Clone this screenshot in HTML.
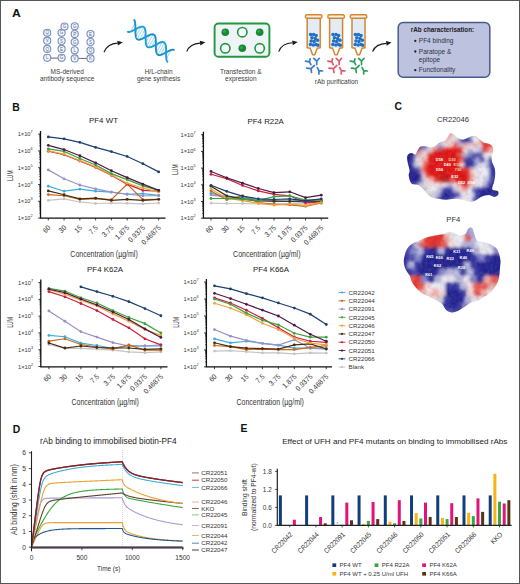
<!DOCTYPE html>
<html><head><meta charset="utf-8"><style>
html,body{margin:0;padding:0;background:#fff;}
svg{display:block;}
text{font-family:"Liberation Sans",sans-serif;}
</style></head><body>
<svg width="520" height="584" viewBox="0 0 520 584" font-family="Liberation Sans, sans-serif">
<rect x="0" y="0" width="520" height="584" fill="#fff"/>
<rect x="0.5" y="0.5" width="519" height="583" fill="none" stroke="#555" stroke-width="1"/>
<text x="11.9" y="16.6" font-size="10.8" font-weight="bold" fill="#111" textLength="8.8" lengthAdjust="spacingAndGlyphs">A</text>
<text x="12.30" y="110.90" font-size="10.4" text-anchor="start" fill="#111" font-weight="bold" >B</text>
<text x="394.40" y="110.30" font-size="10.4" text-anchor="start" fill="#111" font-weight="bold" >C</text>
<text x="12.70" y="432.50" font-size="10.4" text-anchor="start" fill="#111" font-weight="bold" >D</text>
<text x="240.60" y="432.40" font-size="10.4" text-anchor="start" fill="#111" font-weight="bold" >E</text>
<line x1="47.2" y1="58.1" x2="61.6" y2="58.1" stroke="#666" stroke-width="1.0"/>
<line x1="74.7" y1="58.4" x2="90.5" y2="58.4" stroke="#666" stroke-width="1.0"/>
<circle cx="47.2" cy="32.8" r="3.55" fill="#f3f6fb" stroke="#7890bd" stroke-width="1.1"/>
<text x="47.2" y="34.40" font-size="4.5" text-anchor="middle" fill="#56688e">Q</text>
<circle cx="47.2" cy="40.7" r="3.55" fill="#f3f6fb" stroke="#7890bd" stroke-width="1.1"/>
<text x="47.2" y="42.30" font-size="4.5" text-anchor="middle" fill="#56688e">V</text>
<circle cx="47.2" cy="48.9" r="3.55" fill="#f3f6fb" stroke="#7890bd" stroke-width="1.1"/>
<text x="47.2" y="50.50" font-size="4.5" text-anchor="middle" fill="#56688e">Q</text>
<circle cx="47.2" cy="57.8" r="3.55" fill="#f3f6fb" stroke="#7890bd" stroke-width="1.1"/>
<text x="47.2" y="59.40" font-size="4.5" text-anchor="middle" fill="#56688e">L</text>
<circle cx="61.6" cy="32.8" r="3.55" fill="#f3f6fb" stroke="#7890bd" stroke-width="1.1"/>
<text x="61.6" y="34.40" font-size="4.5" text-anchor="middle" fill="#56688e">G</text>
<circle cx="61.6" cy="41.0" r="3.55" fill="#f3f6fb" stroke="#7890bd" stroke-width="1.1"/>
<text x="61.6" y="42.60" font-size="4.5" text-anchor="middle" fill="#56688e">S</text>
<circle cx="61.6" cy="48.9" r="3.55" fill="#f3f6fb" stroke="#7890bd" stroke-width="1.1"/>
<text x="61.6" y="50.50" font-size="4.5" text-anchor="middle" fill="#56688e">E</text>
<circle cx="61.6" cy="57.8" r="3.55" fill="#f3f6fb" stroke="#7890bd" stroke-width="1.1"/>
<text x="61.6" y="59.40" font-size="4.5" text-anchor="middle" fill="#56688e">G</text>
<circle cx="74.7" cy="34.1" r="3.55" fill="#f3f6fb" stroke="#7890bd" stroke-width="1.1"/>
<text x="74.7" y="35.70" font-size="4.5" text-anchor="middle" fill="#56688e">P</text>
<circle cx="74.7" cy="42.0" r="3.55" fill="#f3f6fb" stroke="#7890bd" stroke-width="1.1"/>
<text x="74.7" y="43.60" font-size="4.5" text-anchor="middle" fill="#56688e">G</text>
<circle cx="74.7" cy="50.3" r="3.55" fill="#f3f6fb" stroke="#7890bd" stroke-width="1.1"/>
<text x="74.7" y="51.90" font-size="4.5" text-anchor="middle" fill="#56688e">L</text>
<circle cx="74.7" cy="58.4" r="3.55" fill="#f3f6fb" stroke="#7890bd" stroke-width="1.1"/>
<text x="74.7" y="60.00" font-size="4.5" text-anchor="middle" fill="#56688e">V</text>
<circle cx="90.5" cy="34.1" r="3.55" fill="#f3f6fb" stroke="#7890bd" stroke-width="1.1"/>
<text x="90.5" y="35.70" font-size="4.5" text-anchor="middle" fill="#56688e">E</text>
<circle cx="90.5" cy="42.0" r="3.55" fill="#f3f6fb" stroke="#7890bd" stroke-width="1.1"/>
<text x="90.5" y="43.60" font-size="4.5" text-anchor="middle" fill="#56688e">S</text>
<circle cx="90.5" cy="50.6" r="3.55" fill="#f3f6fb" stroke="#7890bd" stroke-width="1.1"/>
<text x="90.5" y="52.20" font-size="4.5" text-anchor="middle" fill="#56688e">Q</text>
<circle cx="90.5" cy="58.4" r="3.55" fill="#f3f6fb" stroke="#7890bd" stroke-width="1.1"/>
<text x="90.5" y="60.00" font-size="4.5" text-anchor="middle" fill="#56688e">K</text>
<circle cx="64.5" cy="26.6" r="3.55" fill="#f3f6fb" stroke="#7890bd" stroke-width="1.1"/>
<text x="64.5" y="28.20" font-size="4.5" text-anchor="middle" fill="#56688e">G</text>
<circle cx="74.7" cy="26.3" r="3.55" fill="#f3f6fb" stroke="#7890bd" stroke-width="1.1"/>
<text x="74.7" y="27.90" font-size="4.5" text-anchor="middle" fill="#56688e">G</text>
<path d="M130.55,31.65 L135.19,23.09 M134.09,30.03 L135.43,27.56 M137.85,28.00 L135.45,32.43 M141.21,26.70 L135.87,36.58 M143.70,27.02 L137.16,39.11 M145.12,29.32 L139.52,39.65 M145.62,33.32 L142.81,38.50 M145.65,38.16 L146.55,36.50 M145.84,42.73 L150.15,34.78 M146.73,46.00 L153.04,34.35 M148.65,47.36 L154.89,35.84 M151.60,46.83 L155.72,39.22 M155.22,45.05 L155.88,43.84 M158.96,43.07 L155.93,48.67 M162.19,42.01 L156.47,52.57 M164.49,42.68 L157.96,54.74 M165.71,45.33 L160.51,54.94 M166.08,49.56 L163.92,53.56 M166.10,54.44 L167.68,51.52 M166.38,58.84 L171.19,49.96" stroke="#72c4ec" stroke-width="0.7" fill="none"/>
<path d="M134.19,20.03 L134.34,20.26 L134.48,20.52 L134.61,20.80 L134.73,21.10 L134.83,21.41 L134.93,21.75 L135.02,22.11 L135.09,22.49 L135.16,22.88 L135.22,23.29 L135.26,23.71 L135.31,24.15 L135.34,24.60 L135.37,25.07 L135.39,25.54 L135.41,26.03 L135.42,26.52 L135.43,27.03 L135.43,27.53 L135.43,28.05 L135.43,28.56 L135.43,29.08 L135.43,29.60 L135.43,30.11 L135.43,30.63 L135.43,31.14 L135.44,31.65 L135.45,32.15 L135.46,32.64 L135.47,33.13 L135.50,33.60 L135.53,34.06 L135.56,34.51 L135.60,34.95 L135.65,35.37 L135.71,35.78 L135.78,36.17 L135.86,36.54 L135.95,36.90 L136.04,37.23 L136.15,37.55 L136.27,37.85 L136.40,38.12 L136.54,38.37 L136.70,38.61 L136.86,38.81 L137.04,39.00 L137.23,39.17 L137.43,39.31 L137.65,39.43 L137.88,39.53 L138.11,39.60 L138.36,39.65 L138.63,39.69 L138.90,39.70 L139.18,39.69 L139.48,39.66 L139.79,39.61 L140.10,39.54 L140.43,39.46 L140.76,39.35 L141.11,39.23 L141.46,39.10 L141.82,38.95 L142.18,38.79 L142.55,38.62 L142.93,38.44 L143.32,38.25 L143.70,38.05 L144.09,37.84 L144.49,37.63 L144.88,37.42 L145.28,37.20 L145.68,36.98 L146.08,36.76 L146.47,36.54 L146.87,36.33 L147.26,36.12 L147.65,35.91 L148.04,35.72 L148.42,35.53 L148.80,35.34 L149.17,35.17 L149.54,35.02 L149.89,34.87 L150.25,34.74 L150.59,34.62 L150.92,34.52 L151.25,34.44 L151.56,34.37 L151.87,34.33 L152.16,34.30 L152.44,34.29 L152.71,34.31 L152.98,34.34 L153.22,34.40 L153.46,34.48 L153.69,34.58 L153.90,34.70 L154.10,34.84 L154.29,35.01 L154.46,35.20 L154.63,35.41 L154.78,35.65 L154.92,35.90 L155.05,36.18 L155.17,36.48 L155.28,36.80 L155.37,37.14 L155.46,37.49 L155.54,37.87 L155.60,38.26 L155.66,38.67 L155.71,39.09 L155.75,39.53 L155.79,39.99 L155.81,40.45 L155.83,40.93 L155.85,41.41 L155.86,41.90 L155.87,42.41 L155.88,42.91 L155.88,43.43 L155.88,43.94 L155.88,44.46 L155.88,44.98 L155.87,45.49 L155.87,46.01 L155.88,46.52 L155.88,47.03 L155.89,47.53 L155.90,48.02 L155.92,48.51 L155.94,48.98 L155.97,49.44 L156.01,49.90 L156.05,50.33 L156.10,50.76 L156.16,51.16 L156.22,51.55 L156.30,51.93 L156.39,52.28 L156.49,52.62 L156.59,52.93 L156.71,53.23 L156.84,53.51 L156.99,53.76 L157.14,53.99 L157.31,54.20 L157.48,54.39 L157.67,54.55 L157.88,54.70 L158.09,54.82 L158.32,54.91 L158.55,54.99 L158.80,55.04 L159.07,55.08 L159.34,55.09 L159.62,55.08 L159.92,55.05 L160.23,55.00 L160.54,54.93 L160.87,54.85 L161.20,54.75 L161.54,54.63 L161.90,54.49 L162.25,54.35 L162.62,54.19 L162.99,54.02 L163.37,53.83 L163.75,53.64 L164.14,53.44 L164.53,53.24 L164.92,53.03 L165.32,52.81 L165.72,52.59 L166.12,52.38 L166.51,52.16 L166.91,51.94 L167.31,51.72 L167.70,51.51 L168.09,51.31 L168.48,51.11 L168.86,50.92 L169.24,50.74 L169.61,50.57 L169.97,50.41 L170.33,50.26 L170.68,50.13 L171.03,50.01 L171.36,49.91 L171.68,49.83 L172.00,49.77 L172.30,49.72 L172.60,49.69 L172.88,49.68 L173.15,49.70 L173.42,49.73 L173.66,49.79 L173.90,49.86" fill="none" stroke="#1a8fcc" stroke-width="1.9" stroke-linecap="round"/>
<path d="M127.77,31.87 L128.02,31.94 L128.27,31.98 L128.54,32.00 L128.82,32.00 L129.11,31.98 L129.41,31.94 L129.72,31.88 L130.04,31.80 L130.37,31.71 L130.71,31.60 L131.06,31.47 L131.42,31.33 L131.78,31.18 L132.15,31.01 L132.52,30.84 L132.90,30.65 L133.29,30.45 L133.68,30.25 L134.07,30.04 L134.47,29.83 L134.86,29.61 L135.26,29.39 L135.66,29.17 L136.06,28.96 L136.45,28.74 L136.85,28.53 L137.24,28.32 L137.63,28.12 L138.01,27.92 L138.39,27.74 L138.77,27.56 L139.14,27.40 L139.50,27.25 L139.85,27.11 L140.20,26.98 L140.54,26.87 L140.87,26.78 L141.18,26.71 L141.49,26.65 L141.79,26.62 L142.08,26.60 L142.36,26.60 L142.63,26.63 L142.88,26.67 L143.12,26.74 L143.35,26.83 L143.57,26.94 L143.78,27.07 L143.97,27.23 L144.16,27.41 L144.33,27.61 L144.49,27.84 L144.63,28.08 L144.77,28.35 L144.89,28.64 L145.00,28.94 L145.10,29.27 L145.20,29.62 L145.28,29.99 L145.35,30.37 L145.41,30.77 L145.46,31.19 L145.51,31.62 L145.55,32.07 L145.58,32.53 L145.60,33.00 L145.62,33.48 L145.64,33.97 L145.64,34.46 L145.65,34.97 L145.65,35.48 L145.65,35.99 L145.65,36.51 L145.65,37.03 L145.65,37.55 L145.65,38.06 L145.65,38.58 L145.66,39.09 L145.66,39.59 L145.67,40.09 L145.69,40.58 L145.71,41.05 L145.73,41.52 L145.76,41.98 L145.80,42.43 L145.85,42.86 L145.90,43.27 L145.97,43.67 L146.04,44.05 L146.12,44.42 L146.21,44.76 L146.32,45.09 L146.43,45.39 L146.56,45.68 L146.69,45.94 L146.84,46.18 L147.00,46.41 L147.17,46.60 L147.36,46.78 L147.55,46.93 L147.76,47.07 L147.98,47.17 L148.21,47.26 L148.46,47.32 L148.71,47.37 L148.98,47.39 L149.26,47.39 L149.55,47.37 L149.85,47.33 L150.16,47.27 L150.48,47.20 L150.81,47.10 L151.15,46.99 L151.50,46.87 L151.85,46.73 L152.22,46.57 L152.59,46.41 L152.96,46.23 L153.34,46.04 L153.73,45.85 L154.12,45.65 L154.51,45.44 L154.90,45.22 L155.30,45.01 L155.70,44.79 L156.10,44.57 L156.49,44.35 L156.89,44.13 L157.29,43.92 L157.68,43.71 L158.07,43.51 L158.45,43.32 L158.83,43.13 L159.21,42.95 L159.57,42.79 L159.94,42.64 L160.29,42.50 L160.64,42.38 L160.97,42.27 L161.30,42.17 L161.62,42.10 L161.93,42.04 L162.23,42.01 L162.52,41.99 L162.80,41.99 L163.07,42.02 L163.32,42.06 L163.56,42.13 L163.80,42.22 L164.01,42.33 L164.22,42.46 L164.42,42.62 L164.60,42.80 L164.77,43.00 L164.93,43.22 L165.07,43.47 L165.21,43.73 L165.33,44.02 L165.45,44.33 L165.55,44.66 L165.64,45.00 L165.72,45.37 L165.79,45.75 L165.85,46.15 L165.91,46.57 L165.95,47.00 L165.99,47.45 L166.02,47.91 L166.05,48.38 L166.07,48.86 L166.08,49.35 L166.09,49.84 L166.10,50.35 L166.10,50.86 L166.10,51.37 L166.10,51.89 L166.10,52.41 L166.10,52.93 L166.10,53.44 L166.10,53.96 L166.10,54.47 L166.11,54.97 L166.12,55.47 L166.13,55.96 L166.15,56.44 L166.18,56.90 L166.21,57.36 L166.25,57.81 L166.29,58.24 L166.35,58.65 L166.41,59.05 L166.48,59.43 L166.57,59.80 L166.66,60.14 L166.76,60.47 L166.87,60.78 L167.00,61.06 L167.13,61.33 L167.28,61.57 L167.44,61.79" fill="none" stroke="#1f9ed8" stroke-width="1.9" stroke-linecap="round"/>
<rect x="214.6" y="23.5" width="54.8" height="33.2" rx="3.8" fill="#eef4f7" stroke="#22973f" stroke-width="1.9"/>
<circle cx="225.3" cy="32.2" r="3.8" fill="#168a30"/>
<circle cx="224.4" cy="31.300000000000004" r="1.5" fill="#34a84c"/>
<circle cx="242.3" cy="32.2" r="4.7" fill="#f6faf8" stroke="#22973f" stroke-width="1.6"/>
<circle cx="259.7" cy="32.2" r="3.8" fill="#168a30"/>
<circle cx="258.8" cy="31.300000000000004" r="1.5" fill="#34a84c"/>
<circle cx="225.3" cy="48.3" r="4.7" fill="#f6faf8" stroke="#22973f" stroke-width="1.6"/>
<circle cx="242.3" cy="48.3" r="3.8" fill="#168a30"/>
<circle cx="241.4" cy="47.4" r="1.5" fill="#34a84c"/>
<circle cx="259.7" cy="48.3" r="4.7" fill="#f6faf8" stroke="#22973f" stroke-width="1.6"/>
<rect x="307.6" y="18.5" width="12" height="29.5" fill="#e2ecf6"/>
<g fill="#1f6fc2"><circle cx="310.60" cy="34.60" r="1.75"/><circle cx="313.60" cy="34.40" r="1.75"/><circle cx="316.20" cy="35.60" r="1.75"/><circle cx="312.00" cy="37.80" r="1.75"/><circle cx="315.20" cy="38.60" r="1.75"/><circle cx="317.60" cy="40.20" r="1.75"/><circle cx="311.20" cy="41.00" r="1.75"/><circle cx="314.20" cy="41.60" r="1.75"/><circle cx="310.40" cy="44.60" r="1.75"/><circle cx="313.40" cy="45.00" r="1.75"/><circle cx="316.20" cy="44.40" r="1.75"/><circle cx="318.00" cy="45.20" r="1.75"/></g>
<path d="M307.2,18.4 L307.2,47.8 L310.2,48.2 L312.6,54.8 L314.8,54.8 L317.2,48.2 L320.2,47.8 L320.2,18.4" fill="none" stroke="#d3852c" stroke-width="1.5" stroke-linejoin="round"/>
<rect x="305.4" y="14.7" width="16.6" height="3.6" rx="1.6" fill="#fbf3e8" stroke="#d3852c" stroke-width="1.4"/>
<rect x="330.0" y="18.5" width="12" height="29.5" fill="#e2ecf6"/>
<g fill="#1f6fc2"><circle cx="333.00" cy="34.60" r="1.75"/><circle cx="336.00" cy="34.40" r="1.75"/><circle cx="338.60" cy="35.60" r="1.75"/><circle cx="334.40" cy="37.80" r="1.75"/><circle cx="337.60" cy="38.60" r="1.75"/><circle cx="340.00" cy="40.20" r="1.75"/><circle cx="333.60" cy="41.00" r="1.75"/><circle cx="336.60" cy="41.60" r="1.75"/><circle cx="332.80" cy="44.60" r="1.75"/><circle cx="335.80" cy="45.00" r="1.75"/><circle cx="338.60" cy="44.40" r="1.75"/><circle cx="340.40" cy="45.20" r="1.75"/></g>
<path d="M329.59999999999997,18.4 L329.59999999999997,47.8 L332.59999999999997,48.2 L335.0,54.8 L337.2,54.8 L339.59999999999997,48.2 L342.59999999999997,47.8 L342.59999999999997,18.4" fill="none" stroke="#d3852c" stroke-width="1.5" stroke-linejoin="round"/>
<rect x="327.79999999999995" y="14.7" width="16.6" height="3.6" rx="1.6" fill="#fbf3e8" stroke="#d3852c" stroke-width="1.4"/>
<rect x="352.40000000000003" y="18.5" width="12" height="29.5" fill="#e2ecf6"/>
<g fill="#1f6fc2"><circle cx="355.40" cy="34.60" r="1.75"/><circle cx="358.40" cy="34.40" r="1.75"/><circle cx="361.00" cy="35.60" r="1.75"/><circle cx="356.80" cy="37.80" r="1.75"/><circle cx="360.00" cy="38.60" r="1.75"/><circle cx="362.40" cy="40.20" r="1.75"/><circle cx="356.00" cy="41.00" r="1.75"/><circle cx="359.00" cy="41.60" r="1.75"/><circle cx="355.20" cy="44.60" r="1.75"/><circle cx="358.20" cy="45.00" r="1.75"/><circle cx="361.00" cy="44.40" r="1.75"/><circle cx="362.80" cy="45.20" r="1.75"/></g>
<path d="M352.0,18.4 L352.0,47.8 L355.0,48.2 L357.40000000000003,54.8 L359.6,54.8 L362.0,48.2 L365.0,47.8 L365.0,18.4" fill="none" stroke="#d3852c" stroke-width="1.5" stroke-linejoin="round"/>
<rect x="350.2" y="14.7" width="16.6" height="3.6" rx="1.6" fill="#fbf3e8" stroke="#d3852c" stroke-width="1.4"/>
<path d="M305.5,61.2 L309.5,61.8 L310.1,58.9 M309.5,61.8 L310.9,64.7 M313.8,58.3 L316.7,61.2 L319.3,58.3 M316.7,61.2 L316.7,64.6 M306.6,68.1 L311.0,68.6 L311.5,72.5 M311.0,68.6 L314.4,65.5 M317.3,67.6 L318.9,70.6 L322.6,71.0 M318.9,70.6 L318.9,74.0 " stroke="#3b7cc2" stroke-width="1.7" stroke-linecap="round" stroke-linejoin="round" fill="none"/>
<path d="M327.9,61.2 L331.9,61.8 L332.5,58.9 M331.9,61.8 L333.3,64.7 M336.2,58.3 L339.1,61.2 L341.7,58.3 M339.1,61.2 L339.1,64.6 M329.0,68.1 L333.4,68.6 L333.9,72.5 M333.4,68.6 L336.8,65.5 M339.7,67.6 L341.3,70.6 L345.0,71.0 M341.3,70.6 L341.3,74.0 " stroke="#e05a6e" stroke-width="1.7" stroke-linecap="round" stroke-linejoin="round" fill="none"/>
<path d="M350.3,61.2 L354.3,61.8 L354.9,58.9 M354.3,61.8 L355.7,64.7 M358.6,58.3 L361.5,61.2 L364.1,58.3 M361.5,61.2 L361.5,64.6 M351.4,68.1 L355.8,68.6 L356.3,72.5 M355.8,68.6 L359.2,65.5 M362.1,67.6 L363.7,70.6 L367.4,71.0 M363.7,70.6 L363.7,74.0 " stroke="#2e9c5c" stroke-width="1.7" stroke-linecap="round" stroke-linejoin="round" fill="none"/>
<rect x="398.2" y="22.6" width="91.6" height="54.6" rx="5" fill="#bdc3de" stroke="#465c8a" stroke-width="1.5"/>
<text x="410.80" y="31.90" font-size="6.3" text-anchor="start" fill="#1b1b2a" font-weight="bold" >rAb characterisation:</text>
<text x="418.80" y="43.00" font-size="6.5" text-anchor="start" fill="#30303e" >PF4 binding</text>
<text x="418.80" y="53.90" font-size="6.5" text-anchor="start" fill="#30303e" >Paratope &amp;</text>
<text x="418.80" y="61.70" font-size="6.5" text-anchor="start" fill="#30303e" >epitope</text>
<text x="418.80" y="72.40" font-size="6.5" text-anchor="start" fill="#30303e" >Functionality</text>
<circle cx="415.3" cy="40.9" r="1.15" fill="#222"/>
<circle cx="415.3" cy="51.5" r="1.15" fill="#222"/>
<circle cx="415.3" cy="70.2" r="1.15" fill="#222"/>
<path d="M104,52.2 Q107.2,43.6 117.7,43.1" fill="none" stroke="#1a1a1a" stroke-width="1.15"/>
<path d="M122.8,42.3 L117.3,40.8 L117.9,45.5 Z" fill="#1a1a1a"/>
<path d="M186.7,51.6 Q189.9,43.6 200.2,43.1" fill="none" stroke="#1a1a1a" stroke-width="1.15"/>
<path d="M205.3,42.3 L199.8,40.8 L200.4,45.5 Z" fill="#1a1a1a"/>
<path d="M278.7,51.6 Q281.9,43.3 292.6,42.8" fill="none" stroke="#1a1a1a" stroke-width="1.15"/>
<path d="M297.7,42.0 L292.2,40.5 L292.8,45.2 Z" fill="#1a1a1a"/>
<path d="M372.6,51.4 Q375.8,43.9 386.4,43.4" fill="none" stroke="#1a1a1a" stroke-width="1.15"/>
<path d="M391.5,42.6 L386.0,41.1 L386.6,45.8 Z" fill="#1a1a1a"/>
<text x="67.20" y="73.70" font-size="6.5" text-anchor="middle" fill="#3a3a3a" >MS-derived</text>
<text x="67.20" y="81.30" font-size="6.5" text-anchor="middle" fill="#3a3a3a" >antibody sequence</text>
<text x="158.60" y="73.70" font-size="6.5" text-anchor="middle" fill="#3a3a3a" >H/L-chain</text>
<text x="158.60" y="81.30" font-size="6.5" text-anchor="middle" fill="#3a3a3a" >gene synthesis</text>
<text x="240.80" y="73.70" font-size="6.5" text-anchor="middle" fill="#3a3a3a" >Transfection &amp;</text>
<text x="240.80" y="81.30" font-size="6.5" text-anchor="middle" fill="#3a3a3a" >expression</text>
<text x="336.50" y="83.80" font-size="6.5" text-anchor="middle" fill="#3a3a3a" >rAb purification</text>
<text x="103.50" y="123.20" font-size="7.9" text-anchor="middle" fill="#222" >PF4 WT</text>
<path d="M40.5,131.1 L40.5,218.1 L165.6,218.1" fill="none" stroke="#111" stroke-width="1.3"/>
<path d="M38.1,218.10 L40.5,218.10 M39.3,213.04 L40.5,213.04 M39.3,210.08 L40.5,210.08 M39.3,207.99 L40.5,207.99 M39.3,206.36 L40.5,206.36 M39.3,205.03 L40.5,205.03 M39.3,203.90 L40.5,203.90 M39.3,202.93 L40.5,202.93 M39.3,202.07 L40.5,202.07 M38.1,201.30 L40.5,201.30 M39.3,196.24 L40.5,196.24 M39.3,193.28 L40.5,193.28 M39.3,191.19 L40.5,191.19 M39.3,189.56 L40.5,189.56 M39.3,188.23 L40.5,188.23 M39.3,187.10 L40.5,187.10 M39.3,186.13 L40.5,186.13 M39.3,185.27 L40.5,185.27 M38.1,184.50 L40.5,184.50 M39.3,179.44 L40.5,179.44 M39.3,176.48 L40.5,176.48 M39.3,174.39 L40.5,174.39 M39.3,172.76 L40.5,172.76 M39.3,171.43 L40.5,171.43 M39.3,170.30 L40.5,170.30 M39.3,169.33 L40.5,169.33 M39.3,168.47 L40.5,168.47 M38.1,167.70 L40.5,167.70 M39.3,162.64 L40.5,162.64 M39.3,159.68 L40.5,159.68 M39.3,157.59 L40.5,157.59 M39.3,155.96 L40.5,155.96 M39.3,154.63 L40.5,154.63 M39.3,153.50 L40.5,153.50 M39.3,152.53 L40.5,152.53 M39.3,151.67 L40.5,151.67 M38.1,150.90 L40.5,150.90 M39.3,145.84 L40.5,145.84 M39.3,142.88 L40.5,142.88 M39.3,140.79 L40.5,140.79 M39.3,139.16 L40.5,139.16 M39.3,137.83 L40.5,137.83 M39.3,136.70 L40.5,136.70 M39.3,135.73 L40.5,135.73 M39.3,134.87 L40.5,134.87 M38.1,134.10 L40.5,134.10 M48.30,218.1 L48.30,220.4 M64.07,218.1 L64.07,220.4 M79.84,218.1 L79.84,220.4 M95.61,218.1 L95.61,220.4 M111.38,218.1 L111.38,220.4 M127.15,218.1 L127.15,220.4 M142.92,218.1 L142.92,220.4 M158.69,218.1 L158.69,220.4" stroke="#111" stroke-width="0.8" fill="none"/>
<text x="30.50" y="220.10" font-size="5.7" text-anchor="end" fill="#333">1×10</text>
<text x="30.60" y="217.20" font-size="3.8" fill="#333">2</text>
<text x="30.50" y="203.30" font-size="5.7" text-anchor="end" fill="#333">1×10</text>
<text x="30.60" y="200.40" font-size="3.8" fill="#333">3</text>
<text x="30.50" y="186.50" font-size="5.7" text-anchor="end" fill="#333">1×10</text>
<text x="30.60" y="183.60" font-size="3.8" fill="#333">4</text>
<text x="30.50" y="169.70" font-size="5.7" text-anchor="end" fill="#333">1×10</text>
<text x="30.60" y="166.80" font-size="3.8" fill="#333">5</text>
<text x="30.50" y="152.90" font-size="5.7" text-anchor="end" fill="#333">1×10</text>
<text x="30.60" y="150.00" font-size="3.8" fill="#333">6</text>
<text x="30.50" y="136.10" font-size="5.7" text-anchor="end" fill="#333">1×10</text>
<text x="30.60" y="133.20" font-size="3.8" fill="#333">7</text>
<text transform="translate(12.90,175.70) rotate(-90)" x="0" y="0" font-size="8.2" text-anchor="middle" fill="#333" textLength="10.6" lengthAdjust="spacingAndGlyphs">LUM</text>
<text transform="translate(51.00,228.20) rotate(-45) scale(0.92,1)" font-size="7.3" text-anchor="end" fill="#333">60</text>
<text transform="translate(66.77,228.20) rotate(-45) scale(0.92,1)" font-size="7.3" text-anchor="end" fill="#333">30</text>
<text transform="translate(82.54,228.20) rotate(-45) scale(0.92,1)" font-size="7.3" text-anchor="end" fill="#333">15</text>
<text transform="translate(98.31,228.20) rotate(-45) scale(0.92,1)" font-size="7.3" text-anchor="end" fill="#333">7.5</text>
<text transform="translate(114.08,228.20) rotate(-45) scale(0.92,1)" font-size="7.3" text-anchor="end" fill="#333">3.75</text>
<text transform="translate(129.85,228.20) rotate(-45) scale(0.92,1)" font-size="7.3" text-anchor="end" fill="#333">1.875</text>
<text transform="translate(145.62,228.20) rotate(-45) scale(0.92,1)" font-size="7.3" text-anchor="end" fill="#333">0.9375</text>
<text transform="translate(161.39,228.20) rotate(-45) scale(0.92,1)" font-size="7.3" text-anchor="end" fill="#333">0.46875</text>
<text x="104.05" y="256.50" font-size="8.8" text-anchor="middle" fill="#333" textLength="67.4" lengthAdjust="spacingAndGlyphs">Concentration (µg/ml)</text>
<path d="M48.30,200.46 L64.07,198.95 L79.84,201.97 L95.61,203.48 L111.38,202.98 L127.15,203.32 L142.92,203.82 L158.69,202.98" fill="none" stroke="#c4c4c4" stroke-width="1.2"/>
<g fill="#c4c4c4"><circle cx="48.30" cy="200.46" r="1.4"/><circle cx="64.07" cy="198.95" r="1.4"/><circle cx="79.84" cy="201.97" r="1.4"/><circle cx="95.61" cy="203.48" r="1.4"/><circle cx="111.38" cy="202.98" r="1.4"/><circle cx="127.15" cy="203.32" r="1.4"/><circle cx="142.92" cy="203.82" r="1.4"/><circle cx="158.69" cy="202.98" r="1.4"/></g>
<path d="M48.30,186.18 L64.07,191.22 L79.84,189.20 L95.61,191.22 L111.38,192.06 L127.15,194.24 L142.92,193.57 L158.69,195.42" fill="none" stroke="#3aaee0" stroke-width="1.2"/>
<g fill="#3aaee0"><circle cx="48.30" cy="186.18" r="1.4"/><circle cx="64.07" cy="191.22" r="1.4"/><circle cx="79.84" cy="189.20" r="1.4"/><circle cx="95.61" cy="191.22" r="1.4"/><circle cx="111.38" cy="192.06" r="1.4"/><circle cx="127.15" cy="194.24" r="1.4"/><circle cx="142.92" cy="193.57" r="1.4"/><circle cx="158.69" cy="195.42" r="1.4"/></g>
<path d="M48.30,169.88 L64.07,178.79 L79.84,185.00 L95.61,188.87 L111.38,192.06 L127.15,194.24 L142.92,195.76 L158.69,195.76" fill="none" stroke="#9a90c8" stroke-width="1.2"/>
<g fill="#9a90c8"><circle cx="48.30" cy="169.88" r="1.4"/><circle cx="64.07" cy="178.79" r="1.4"/><circle cx="79.84" cy="185.00" r="1.4"/><circle cx="95.61" cy="188.87" r="1.4"/><circle cx="111.38" cy="192.06" r="1.4"/><circle cx="127.15" cy="194.24" r="1.4"/><circle cx="142.92" cy="195.76" r="1.4"/><circle cx="158.69" cy="195.76" r="1.4"/></g>
<path d="M48.30,194.58 L64.07,195.76 L79.84,199.28 L95.61,198.61 L111.38,199.62 L127.15,184.16 L142.92,199.62 L158.69,199.28" fill="none" stroke="#c8681e" stroke-width="1.2"/>
<g fill="#c8681e"><circle cx="48.30" cy="194.58" r="1.4"/><circle cx="64.07" cy="195.76" r="1.4"/><circle cx="79.84" cy="199.28" r="1.4"/><circle cx="95.61" cy="198.61" r="1.4"/><circle cx="111.38" cy="199.62" r="1.4"/><circle cx="127.15" cy="184.16" r="1.4"/><circle cx="142.92" cy="199.62" r="1.4"/><circle cx="158.69" cy="199.28" r="1.4"/></g>
<path d="M48.30,190.88 L64.07,194.75 L79.84,198.95 L95.61,198.11 L111.38,200.46 L127.15,199.28 L142.92,200.46 L158.69,199.28" fill="none" stroke="#4a2c0e" stroke-width="1.2"/>
<g fill="#4a2c0e"><circle cx="48.30" cy="190.88" r="1.4"/><circle cx="64.07" cy="194.75" r="1.4"/><circle cx="79.84" cy="198.95" r="1.4"/><circle cx="95.61" cy="198.11" r="1.4"/><circle cx="111.38" cy="200.46" r="1.4"/><circle cx="127.15" cy="199.28" r="1.4"/><circle cx="142.92" cy="200.46" r="1.4"/><circle cx="158.69" cy="199.28" r="1.4"/></g>
<path d="M48.30,151.24 L64.07,154.76 L79.84,160.98 L95.61,167.36 L111.38,175.26 L127.15,184.16 L142.92,190.38 L158.69,191.22" fill="none" stroke="#cc1e3e" stroke-width="1.2"/>
<g fill="#cc1e3e"><circle cx="48.30" cy="151.24" r="1.4"/><circle cx="64.07" cy="154.76" r="1.4"/><circle cx="79.84" cy="160.98" r="1.4"/><circle cx="95.61" cy="167.36" r="1.4"/><circle cx="111.38" cy="175.26" r="1.4"/><circle cx="127.15" cy="184.16" r="1.4"/><circle cx="142.92" cy="190.38" r="1.4"/><circle cx="158.69" cy="191.22" r="1.4"/></g>
<path d="M48.30,150.56 L64.07,154.26 L79.84,160.48 L95.61,166.86 L111.38,174.92 L127.15,183.16 L142.92,188.20 L158.69,192.06" fill="none" stroke="#eea23c" stroke-width="1.2"/>
<g fill="#eea23c"><circle cx="48.30" cy="150.56" r="1.4"/><circle cx="64.07" cy="154.26" r="1.4"/><circle cx="79.84" cy="160.48" r="1.4"/><circle cx="95.61" cy="166.86" r="1.4"/><circle cx="111.38" cy="174.92" r="1.4"/><circle cx="127.15" cy="183.16" r="1.4"/><circle cx="142.92" cy="188.20" r="1.4"/><circle cx="158.69" cy="192.06" r="1.4"/></g>
<path d="M48.30,148.88 L64.07,151.40 L79.84,158.46 L95.61,165.01 L111.38,173.58 L127.15,179.63 L142.92,185.84 L158.69,190.38" fill="none" stroke="#3aa43a" stroke-width="1.2"/>
<g fill="#3aa43a"><circle cx="48.30" cy="148.88" r="1.4"/><circle cx="64.07" cy="151.40" r="1.4"/><circle cx="79.84" cy="158.46" r="1.4"/><circle cx="95.61" cy="165.01" r="1.4"/><circle cx="111.38" cy="173.58" r="1.4"/><circle cx="127.15" cy="179.63" r="1.4"/><circle cx="142.92" cy="185.84" r="1.4"/><circle cx="158.69" cy="190.38" r="1.4"/></g>
<path d="M48.30,145.36 L64.07,149.56 L79.84,155.77 L95.61,162.83 L111.38,170.72 L127.15,177.61 L142.92,184.16 L158.69,190.38" fill="none" stroke="#4e1845" stroke-width="1.2"/>
<g fill="#4e1845"><circle cx="48.30" cy="145.36" r="1.4"/><circle cx="64.07" cy="149.56" r="1.4"/><circle cx="79.84" cy="155.77" r="1.4"/><circle cx="95.61" cy="162.83" r="1.4"/><circle cx="111.38" cy="170.72" r="1.4"/><circle cx="127.15" cy="177.61" r="1.4"/><circle cx="142.92" cy="184.16" r="1.4"/><circle cx="158.69" cy="190.38" r="1.4"/></g>
<path d="M48.30,136.96 L64.07,138.80 L79.84,142.33 L95.61,147.37 L111.38,151.57 L127.15,156.44 L142.92,163.67 L158.69,171.90" fill="none" stroke="#1d3f70" stroke-width="1.2"/>
<g fill="#1d3f70"><circle cx="48.30" cy="136.96" r="1.4"/><circle cx="64.07" cy="138.80" r="1.4"/><circle cx="79.84" cy="142.33" r="1.4"/><circle cx="95.61" cy="147.37" r="1.4"/><circle cx="111.38" cy="151.57" r="1.4"/><circle cx="127.15" cy="156.44" r="1.4"/><circle cx="142.92" cy="163.67" r="1.4"/><circle cx="158.69" cy="171.90" r="1.4"/></g>
<text x="265.70" y="123.80" font-size="7.9" text-anchor="middle" fill="#222" >PF4 R22A</text>
<path d="M203.4,131.7 L203.4,218.2 L328.2,218.2" fill="none" stroke="#111" stroke-width="1.3"/>
<path d="M201.0,218.20 L203.4,218.20 M202.20000000000002,213.17 L203.4,213.17 M202.20000000000002,210.23 L203.4,210.23 M202.20000000000002,208.15 L203.4,208.15 M202.20000000000002,206.53 L203.4,206.53 M202.20000000000002,205.20 L203.4,205.20 M202.20000000000002,204.09 L203.4,204.09 M202.20000000000002,203.12 L203.4,203.12 M202.20000000000002,202.26 L203.4,202.26 M201.0,201.50 L203.4,201.50 M202.20000000000002,196.47 L203.4,196.47 M202.20000000000002,193.53 L203.4,193.53 M202.20000000000002,191.45 L203.4,191.45 M202.20000000000002,189.83 L203.4,189.83 M202.20000000000002,188.50 L203.4,188.50 M202.20000000000002,187.39 L203.4,187.39 M202.20000000000002,186.42 L203.4,186.42 M202.20000000000002,185.56 L203.4,185.56 M201.0,184.80 L203.4,184.80 M202.20000000000002,179.77 L203.4,179.77 M202.20000000000002,176.83 L203.4,176.83 M202.20000000000002,174.75 L203.4,174.75 M202.20000000000002,173.13 L203.4,173.13 M202.20000000000002,171.80 L203.4,171.80 M202.20000000000002,170.69 L203.4,170.69 M202.20000000000002,169.72 L203.4,169.72 M202.20000000000002,168.86 L203.4,168.86 M201.0,168.10 L203.4,168.10 M202.20000000000002,163.07 L203.4,163.07 M202.20000000000002,160.13 L203.4,160.13 M202.20000000000002,158.05 L203.4,158.05 M202.20000000000002,156.43 L203.4,156.43 M202.20000000000002,155.10 L203.4,155.10 M202.20000000000002,153.99 L203.4,153.99 M202.20000000000002,153.02 L203.4,153.02 M202.20000000000002,152.16 L203.4,152.16 M201.0,151.40 L203.4,151.40 M202.20000000000002,146.37 L203.4,146.37 M202.20000000000002,143.43 L203.4,143.43 M202.20000000000002,141.35 L203.4,141.35 M202.20000000000002,139.73 L203.4,139.73 M202.20000000000002,138.40 L203.4,138.40 M202.20000000000002,137.29 L203.4,137.29 M202.20000000000002,136.32 L203.4,136.32 M202.20000000000002,135.46 L203.4,135.46 M201.0,134.70 L203.4,134.70 M211.00,218.2 L211.00,220.5 M226.75,218.2 L226.75,220.5 M242.50,218.2 L242.50,220.5 M258.25,218.2 L258.25,220.5 M274.00,218.2 L274.00,220.5 M289.75,218.2 L289.75,220.5 M305.50,218.2 L305.50,220.5 M321.25,218.2 L321.25,220.5" stroke="#111" stroke-width="0.8" fill="none"/>
<text x="193.40" y="220.20" font-size="5.7" text-anchor="end" fill="#333">1×10</text>
<text x="193.50" y="217.30" font-size="3.8" fill="#333">2</text>
<text x="193.40" y="203.50" font-size="5.7" text-anchor="end" fill="#333">1×10</text>
<text x="193.50" y="200.60" font-size="3.8" fill="#333">3</text>
<text x="193.40" y="186.80" font-size="5.7" text-anchor="end" fill="#333">1×10</text>
<text x="193.50" y="183.90" font-size="3.8" fill="#333">4</text>
<text x="193.40" y="170.10" font-size="5.7" text-anchor="end" fill="#333">1×10</text>
<text x="193.50" y="167.20" font-size="3.8" fill="#333">5</text>
<text x="193.40" y="153.40" font-size="5.7" text-anchor="end" fill="#333">1×10</text>
<text x="193.50" y="150.50" font-size="3.8" fill="#333">6</text>
<text x="193.40" y="136.70" font-size="5.7" text-anchor="end" fill="#333">1×10</text>
<text x="193.50" y="133.80" font-size="3.8" fill="#333">7</text>
<text transform="translate(178.00,169.70) rotate(-90)" x="0" y="0" font-size="8.2" text-anchor="middle" fill="#333" textLength="10.6" lengthAdjust="spacingAndGlyphs">LUM</text>
<text transform="translate(213.70,228.30) rotate(-45) scale(0.92,1)" font-size="7.3" text-anchor="end" fill="#333">60</text>
<text transform="translate(229.45,228.30) rotate(-45) scale(0.92,1)" font-size="7.3" text-anchor="end" fill="#333">30</text>
<text transform="translate(245.20,228.30) rotate(-45) scale(0.92,1)" font-size="7.3" text-anchor="end" fill="#333">15</text>
<text transform="translate(260.95,228.30) rotate(-45) scale(0.92,1)" font-size="7.3" text-anchor="end" fill="#333">7.5</text>
<text transform="translate(276.70,228.30) rotate(-45) scale(0.92,1)" font-size="7.3" text-anchor="end" fill="#333">3.75</text>
<text transform="translate(292.45,228.30) rotate(-45) scale(0.92,1)" font-size="7.3" text-anchor="end" fill="#333">1.875</text>
<text transform="translate(308.20,228.30) rotate(-45) scale(0.92,1)" font-size="7.3" text-anchor="end" fill="#333">0.9375</text>
<text transform="translate(323.95,228.30) rotate(-45) scale(0.92,1)" font-size="7.3" text-anchor="end" fill="#333">0.46875</text>
<text x="266.80" y="256.60" font-size="8.8" text-anchor="middle" fill="#333" textLength="67.4" lengthAdjust="spacingAndGlyphs">Concentration (µg/ml)</text>
<path d="M211.00,203.17 L226.75,203.50 L242.50,203.50 L258.25,203.84 L274.00,204.00 L289.75,203.50 L305.50,203.84 L321.25,203.50" fill="none" stroke="#c4c4c4" stroke-width="1.2"/>
<g fill="#c4c4c4"><circle cx="211.00" cy="203.17" r="1.4"/><circle cx="226.75" cy="203.50" r="1.4"/><circle cx="242.50" cy="203.50" r="1.4"/><circle cx="258.25" cy="203.84" r="1.4"/><circle cx="274.00" cy="204.00" r="1.4"/><circle cx="289.75" cy="203.50" r="1.4"/><circle cx="305.50" cy="203.84" r="1.4"/><circle cx="321.25" cy="203.50" r="1.4"/></g>
<path d="M211.00,193.32 L226.75,196.66 L242.50,197.83 L258.25,199.16 L274.00,201.67 L289.75,200.83 L305.50,199.83 L321.25,200.16" fill="none" stroke="#3aaee0" stroke-width="1.2"/>
<g fill="#3aaee0"><circle cx="211.00" cy="193.32" r="1.4"/><circle cx="226.75" cy="196.66" r="1.4"/><circle cx="242.50" cy="197.83" r="1.4"/><circle cx="258.25" cy="199.16" r="1.4"/><circle cx="274.00" cy="201.67" r="1.4"/><circle cx="289.75" cy="200.83" r="1.4"/><circle cx="305.50" cy="199.83" r="1.4"/><circle cx="321.25" cy="200.16" r="1.4"/></g>
<path d="M211.00,194.82 L226.75,197.32 L242.50,199.83 L258.25,199.83 L274.00,200.66 L289.75,201.50 L305.50,201.17 L321.25,200.66" fill="none" stroke="#9a90c8" stroke-width="1.2"/>
<g fill="#9a90c8"><circle cx="211.00" cy="194.82" r="1.4"/><circle cx="226.75" cy="197.32" r="1.4"/><circle cx="242.50" cy="199.83" r="1.4"/><circle cx="258.25" cy="199.83" r="1.4"/><circle cx="274.00" cy="200.66" r="1.4"/><circle cx="289.75" cy="201.50" r="1.4"/><circle cx="305.50" cy="201.17" r="1.4"/><circle cx="321.25" cy="200.66" r="1.4"/></g>
<path d="M211.00,190.98 L226.75,199.66 L242.50,195.65 L258.25,202.67 L274.00,204.17 L289.75,204.84 L305.50,206.34 L321.25,202.84" fill="none" stroke="#c8681e" stroke-width="1.2"/>
<g fill="#c8681e"><circle cx="211.00" cy="190.98" r="1.4"/><circle cx="226.75" cy="199.66" r="1.4"/><circle cx="242.50" cy="195.65" r="1.4"/><circle cx="258.25" cy="202.67" r="1.4"/><circle cx="274.00" cy="204.17" r="1.4"/><circle cx="289.75" cy="204.84" r="1.4"/><circle cx="305.50" cy="206.34" r="1.4"/><circle cx="321.25" cy="202.84" r="1.4"/></g>
<path d="M211.00,186.14 L226.75,195.82 L242.50,198.83 L258.25,200.83 L274.00,201.17 L289.75,201.50 L305.50,201.83 L321.25,201.50" fill="none" stroke="#4a2c0e" stroke-width="1.2"/>
<g fill="#4a2c0e"><circle cx="211.00" cy="186.14" r="1.4"/><circle cx="226.75" cy="195.82" r="1.4"/><circle cx="242.50" cy="198.83" r="1.4"/><circle cx="258.25" cy="200.83" r="1.4"/><circle cx="274.00" cy="201.17" r="1.4"/><circle cx="289.75" cy="201.50" r="1.4"/><circle cx="305.50" cy="201.83" r="1.4"/><circle cx="321.25" cy="201.50" r="1.4"/></g>
<path d="M211.00,174.28 L226.75,178.62 L242.50,185.47 L258.25,190.81 L274.00,194.32 L289.75,195.82 L305.50,202.84 L321.25,201.83" fill="none" stroke="#cc1e3e" stroke-width="1.2"/>
<g fill="#cc1e3e"><circle cx="211.00" cy="174.28" r="1.4"/><circle cx="226.75" cy="178.62" r="1.4"/><circle cx="242.50" cy="185.47" r="1.4"/><circle cx="258.25" cy="190.81" r="1.4"/><circle cx="274.00" cy="194.32" r="1.4"/><circle cx="289.75" cy="195.82" r="1.4"/><circle cx="305.50" cy="202.84" r="1.4"/><circle cx="321.25" cy="201.83" r="1.4"/></g>
<path d="M211.00,188.97 L226.75,198.16 L242.50,200.66 L258.25,203.17 L274.00,205.17 L289.75,203.84 L305.50,205.67 L321.25,202.33" fill="none" stroke="#eea23c" stroke-width="1.2"/>
<g fill="#eea23c"><circle cx="211.00" cy="188.97" r="1.4"/><circle cx="226.75" cy="198.16" r="1.4"/><circle cx="242.50" cy="200.66" r="1.4"/><circle cx="258.25" cy="203.17" r="1.4"/><circle cx="274.00" cy="205.17" r="1.4"/><circle cx="289.75" cy="203.84" r="1.4"/><circle cx="305.50" cy="205.67" r="1.4"/><circle cx="321.25" cy="202.33" r="1.4"/></g>
<path d="M211.00,198.49 L226.75,198.49 L242.50,199.16 L258.25,200.66 L274.00,196.66 L289.75,195.82 L305.50,200.16 L321.25,200.16" fill="none" stroke="#3aa43a" stroke-width="1.2"/>
<g fill="#3aa43a"><circle cx="211.00" cy="198.49" r="1.4"/><circle cx="226.75" cy="198.49" r="1.4"/><circle cx="242.50" cy="199.16" r="1.4"/><circle cx="258.25" cy="200.66" r="1.4"/><circle cx="274.00" cy="196.66" r="1.4"/><circle cx="289.75" cy="195.82" r="1.4"/><circle cx="305.50" cy="200.16" r="1.4"/><circle cx="321.25" cy="200.16" r="1.4"/></g>
<path d="M211.00,171.44 L226.75,177.79 L242.50,183.13 L258.25,188.47 L274.00,192.65 L289.75,191.81 L305.50,197.66 L321.25,195.15" fill="none" stroke="#4e1845" stroke-width="1.2"/>
<g fill="#4e1845"><circle cx="211.00" cy="171.44" r="1.4"/><circle cx="226.75" cy="177.79" r="1.4"/><circle cx="242.50" cy="183.13" r="1.4"/><circle cx="258.25" cy="188.47" r="1.4"/><circle cx="274.00" cy="192.65" r="1.4"/><circle cx="289.75" cy="191.81" r="1.4"/><circle cx="305.50" cy="197.66" r="1.4"/><circle cx="321.25" cy="195.15" r="1.4"/></g>
<path d="M211.00,185.30 L226.75,191.31 L242.50,196.16 L258.25,198.83 L274.00,199.50 L289.75,198.83 L305.50,200.83 L321.25,198.83" fill="none" stroke="#1d3f70" stroke-width="1.2"/>
<g fill="#1d3f70"><circle cx="211.00" cy="185.30" r="1.4"/><circle cx="226.75" cy="191.31" r="1.4"/><circle cx="242.50" cy="196.16" r="1.4"/><circle cx="258.25" cy="198.83" r="1.4"/><circle cx="274.00" cy="199.50" r="1.4"/><circle cx="289.75" cy="198.83" r="1.4"/><circle cx="305.50" cy="200.83" r="1.4"/><circle cx="321.25" cy="198.83" r="1.4"/></g>
<text x="105.10" y="272.30" font-size="7.9" text-anchor="middle" fill="#222" >PF4 K62A</text>
<path d="M40.8,279.5 L40.8,366.9 L167.5,366.9" fill="none" stroke="#111" stroke-width="1.3"/>
<path d="M38.4,366.50 L40.8,366.50 M39.599999999999994,361.44 L40.8,361.44 M39.599999999999994,358.48 L40.8,358.48 M39.599999999999994,356.39 L40.8,356.39 M39.599999999999994,354.76 L40.8,354.76 M39.599999999999994,353.43 L40.8,353.43 M39.599999999999994,352.30 L40.8,352.30 M39.599999999999994,351.33 L40.8,351.33 M39.599999999999994,350.47 L40.8,350.47 M38.4,349.70 L40.8,349.70 M39.599999999999994,344.64 L40.8,344.64 M39.599999999999994,341.68 L40.8,341.68 M39.599999999999994,339.59 L40.8,339.59 M39.599999999999994,337.96 L40.8,337.96 M39.599999999999994,336.63 L40.8,336.63 M39.599999999999994,335.50 L40.8,335.50 M39.599999999999994,334.53 L40.8,334.53 M39.599999999999994,333.67 L40.8,333.67 M38.4,332.90 L40.8,332.90 M39.599999999999994,327.84 L40.8,327.84 M39.599999999999994,324.88 L40.8,324.88 M39.599999999999994,322.79 L40.8,322.79 M39.599999999999994,321.16 L40.8,321.16 M39.599999999999994,319.83 L40.8,319.83 M39.599999999999994,318.70 L40.8,318.70 M39.599999999999994,317.73 L40.8,317.73 M39.599999999999994,316.87 L40.8,316.87 M38.4,316.10 L40.8,316.10 M39.599999999999994,311.04 L40.8,311.04 M39.599999999999994,308.08 L40.8,308.08 M39.599999999999994,305.99 L40.8,305.99 M39.599999999999994,304.36 L40.8,304.36 M39.599999999999994,303.03 L40.8,303.03 M39.599999999999994,301.90 L40.8,301.90 M39.599999999999994,300.93 L40.8,300.93 M39.599999999999994,300.07 L40.8,300.07 M38.4,299.30 L40.8,299.30 M39.599999999999994,294.24 L40.8,294.24 M39.599999999999994,291.28 L40.8,291.28 M39.599999999999994,289.19 L40.8,289.19 M39.599999999999994,287.56 L40.8,287.56 M39.599999999999994,286.23 L40.8,286.23 M39.599999999999994,285.10 L40.8,285.10 M39.599999999999994,284.13 L40.8,284.13 M39.599999999999994,283.27 L40.8,283.27 M38.4,282.50 L40.8,282.50 M48.90,366.9 L48.90,369.2 M64.90,366.9 L64.90,369.2 M80.90,366.9 L80.90,369.2 M96.90,366.9 L96.90,369.2 M112.90,366.9 L112.90,369.2 M128.90,366.9 L128.90,369.2 M144.90,366.9 L144.90,369.2 M160.90,366.9 L160.90,369.2" stroke="#111" stroke-width="0.8" fill="none"/>
<text x="30.80" y="368.50" font-size="5.7" text-anchor="end" fill="#333">1×10</text>
<text x="30.90" y="365.60" font-size="3.8" fill="#333">2</text>
<text x="30.80" y="351.70" font-size="5.7" text-anchor="end" fill="#333">1×10</text>
<text x="30.90" y="348.80" font-size="3.8" fill="#333">3</text>
<text x="30.80" y="334.90" font-size="5.7" text-anchor="end" fill="#333">1×10</text>
<text x="30.90" y="332.00" font-size="3.8" fill="#333">4</text>
<text x="30.80" y="318.10" font-size="5.7" text-anchor="end" fill="#333">1×10</text>
<text x="30.90" y="315.20" font-size="3.8" fill="#333">5</text>
<text x="30.80" y="301.30" font-size="5.7" text-anchor="end" fill="#333">1×10</text>
<text x="30.90" y="298.40" font-size="3.8" fill="#333">6</text>
<text x="30.80" y="284.50" font-size="5.7" text-anchor="end" fill="#333">1×10</text>
<text x="30.90" y="281.60" font-size="3.8" fill="#333">7</text>
<text transform="translate(12.60,322.40) rotate(-90)" x="0" y="0" font-size="8.2" text-anchor="middle" fill="#333" textLength="10.6" lengthAdjust="spacingAndGlyphs">LUM</text>
<text transform="translate(51.60,377.00) rotate(-45) scale(0.92,1)" font-size="7.3" text-anchor="end" fill="#333">60</text>
<text transform="translate(67.60,377.00) rotate(-45) scale(0.92,1)" font-size="7.3" text-anchor="end" fill="#333">30</text>
<text transform="translate(83.60,377.00) rotate(-45) scale(0.92,1)" font-size="7.3" text-anchor="end" fill="#333">15</text>
<text transform="translate(99.60,377.00) rotate(-45) scale(0.92,1)" font-size="7.3" text-anchor="end" fill="#333">7.5</text>
<text transform="translate(115.60,377.00) rotate(-45) scale(0.92,1)" font-size="7.3" text-anchor="end" fill="#333">3.75</text>
<text transform="translate(131.60,377.00) rotate(-45) scale(0.92,1)" font-size="7.3" text-anchor="end" fill="#333">1.875</text>
<text transform="translate(147.60,377.00) rotate(-45) scale(0.92,1)" font-size="7.3" text-anchor="end" fill="#333">0.9375</text>
<text transform="translate(163.60,377.00) rotate(-45) scale(0.92,1)" font-size="7.3" text-anchor="end" fill="#333">0.46875</text>
<text x="105.15" y="405.30" font-size="8.8" text-anchor="middle" fill="#333" textLength="67.4" lengthAdjust="spacingAndGlyphs">Concentration (µg/ml)</text>
<path d="M48.90,344.49 L64.90,348.36 L80.90,348.36 L96.90,349.03 L112.90,350.20 L128.90,351.88 L144.90,352.72 L160.90,351.88" fill="none" stroke="#c4c4c4" stroke-width="1.2"/>
<g fill="#c4c4c4"><circle cx="48.90" cy="344.49" r="1.4"/><circle cx="64.90" cy="348.36" r="1.4"/><circle cx="80.90" cy="348.36" r="1.4"/><circle cx="96.90" cy="349.03" r="1.4"/><circle cx="112.90" cy="350.20" r="1.4"/><circle cx="128.90" cy="351.88" r="1.4"/><circle cx="144.90" cy="352.72" r="1.4"/><circle cx="160.90" cy="351.88" r="1.4"/></g>
<path d="M48.90,335.42 L64.90,336.76 L80.90,343.15 L96.90,345.50 L112.90,348.36 L128.90,345.67 L144.90,346.00 L160.90,346.00" fill="none" stroke="#3aaee0" stroke-width="1.2"/>
<g fill="#3aaee0"><circle cx="48.90" cy="335.42" r="1.4"/><circle cx="64.90" cy="336.76" r="1.4"/><circle cx="80.90" cy="343.15" r="1.4"/><circle cx="96.90" cy="345.50" r="1.4"/><circle cx="112.90" cy="348.36" r="1.4"/><circle cx="128.90" cy="345.67" r="1.4"/><circle cx="144.90" cy="346.00" r="1.4"/><circle cx="160.90" cy="346.00" r="1.4"/></g>
<path d="M48.90,310.89 L64.90,321.14 L80.90,331.72 L96.90,337.10 L112.90,342.64 L128.90,346.00 L144.90,346.00 L160.90,344.83" fill="none" stroke="#9a90c8" stroke-width="1.2"/>
<g fill="#9a90c8"><circle cx="48.90" cy="310.89" r="1.4"/><circle cx="64.90" cy="321.14" r="1.4"/><circle cx="80.90" cy="331.72" r="1.4"/><circle cx="96.90" cy="337.10" r="1.4"/><circle cx="112.90" cy="342.64" r="1.4"/><circle cx="128.90" cy="346.00" r="1.4"/><circle cx="144.90" cy="346.00" r="1.4"/><circle cx="160.90" cy="344.83" r="1.4"/></g>
<path d="M48.90,341.13 L64.90,338.78 L80.90,344.49 L96.90,347.01 L112.90,349.03 L128.90,344.83 L144.90,350.20 L160.90,350.20" fill="none" stroke="#c8681e" stroke-width="1.2"/>
<g fill="#c8681e"><circle cx="48.90" cy="341.13" r="1.4"/><circle cx="64.90" cy="338.78" r="1.4"/><circle cx="80.90" cy="344.49" r="1.4"/><circle cx="96.90" cy="347.01" r="1.4"/><circle cx="112.90" cy="349.03" r="1.4"/><circle cx="128.90" cy="344.83" r="1.4"/><circle cx="144.90" cy="350.20" r="1.4"/><circle cx="160.90" cy="350.20" r="1.4"/></g>
<path d="M48.90,342.98 L64.90,348.02 L80.90,346.00 L96.90,347.52 L112.90,348.02 L128.90,348.02 L144.90,349.36 L160.90,348.86" fill="none" stroke="#4a2c0e" stroke-width="1.2"/>
<g fill="#4a2c0e"><circle cx="48.90" cy="342.98" r="1.4"/><circle cx="64.90" cy="348.02" r="1.4"/><circle cx="80.90" cy="346.00" r="1.4"/><circle cx="96.90" cy="347.52" r="1.4"/><circle cx="112.90" cy="348.02" r="1.4"/><circle cx="128.90" cy="348.02" r="1.4"/><circle cx="144.90" cy="349.36" r="1.4"/><circle cx="160.90" cy="348.86" r="1.4"/></g>
<path d="M48.90,291.57 L64.90,296.78 L80.90,303.50 L96.90,310.56 L112.90,319.46 L128.90,327.86 L144.90,338.78 L160.90,344.83" fill="none" stroke="#cc1e3e" stroke-width="1.2"/>
<g fill="#cc1e3e"><circle cx="48.90" cy="291.57" r="1.4"/><circle cx="64.90" cy="296.78" r="1.4"/><circle cx="80.90" cy="303.50" r="1.4"/><circle cx="96.90" cy="310.56" r="1.4"/><circle cx="112.90" cy="319.46" r="1.4"/><circle cx="128.90" cy="327.86" r="1.4"/><circle cx="144.90" cy="338.78" r="1.4"/><circle cx="160.90" cy="344.83" r="1.4"/></g>
<path d="M48.90,289.56 L64.90,294.26 L80.90,300.14 L96.90,305.85 L112.90,313.92 L128.90,321.14 L144.90,329.54 L160.90,335.42" fill="none" stroke="#eea23c" stroke-width="1.2"/>
<g fill="#eea23c"><circle cx="48.90" cy="289.56" r="1.4"/><circle cx="64.90" cy="294.26" r="1.4"/><circle cx="80.90" cy="300.14" r="1.4"/><circle cx="96.90" cy="305.85" r="1.4"/><circle cx="112.90" cy="313.92" r="1.4"/><circle cx="128.90" cy="321.14" r="1.4"/><circle cx="144.90" cy="329.54" r="1.4"/><circle cx="160.90" cy="335.42" r="1.4"/></g>
<path d="M48.90,288.38 L64.90,291.07 L80.90,297.79 L96.90,303.00 L112.90,310.56 L128.90,317.44 L144.90,323.66 L160.90,332.90" fill="none" stroke="#3aa43a" stroke-width="1.2"/>
<g fill="#3aa43a"><circle cx="48.90" cy="288.38" r="1.4"/><circle cx="64.90" cy="291.07" r="1.4"/><circle cx="80.90" cy="297.79" r="1.4"/><circle cx="96.90" cy="303.00" r="1.4"/><circle cx="112.90" cy="310.56" r="1.4"/><circle cx="128.90" cy="317.44" r="1.4"/><circle cx="144.90" cy="323.66" r="1.4"/><circle cx="160.90" cy="332.90" r="1.4"/></g>
<path d="M48.90,289.22 L64.90,292.58 L80.90,298.96 L96.90,305.01 L112.90,312.07 L128.90,319.46 L144.90,328.87 L160.90,337.44" fill="none" stroke="#4e1845" stroke-width="1.2"/>
<g fill="#4e1845"><circle cx="48.90" cy="289.22" r="1.4"/><circle cx="64.90" cy="292.58" r="1.4"/><circle cx="80.90" cy="298.96" r="1.4"/><circle cx="96.90" cy="305.01" r="1.4"/><circle cx="112.90" cy="312.07" r="1.4"/><circle cx="128.90" cy="319.46" r="1.4"/><circle cx="144.90" cy="328.87" r="1.4"/><circle cx="160.90" cy="337.44" r="1.4"/></g>
<path d="M80.90,286.87 L96.90,291.57 L112.90,296.28 L128.90,301.65 L144.90,308.54 L160.90,315.76" fill="none" stroke="#1d3f70" stroke-width="1.2"/>
<g fill="#1d3f70"><circle cx="80.90" cy="286.87" r="1.4"/><circle cx="96.90" cy="291.57" r="1.4"/><circle cx="112.90" cy="296.28" r="1.4"/><circle cx="128.90" cy="301.65" r="1.4"/><circle cx="144.90" cy="308.54" r="1.4"/><circle cx="160.90" cy="315.76" r="1.4"/></g>
<text x="271.00" y="272.30" font-size="7.9" text-anchor="middle" fill="#222" >PF4 K66A</text>
<path d="M206.4,279.1 L206.4,366.9 L332.0,366.9" fill="none" stroke="#111" stroke-width="1.3"/>
<path d="M204.0,366.85 L206.4,366.85 M205.20000000000002,361.75 L206.4,361.75 M205.20000000000002,358.76 L206.4,358.76 M205.20000000000002,356.65 L206.4,356.65 M205.20000000000002,355.00 L206.4,355.00 M205.20000000000002,353.66 L206.4,353.66 M205.20000000000002,352.53 L206.4,352.53 M205.20000000000002,351.54 L206.4,351.54 M205.20000000000002,350.68 L206.4,350.68 M204.0,349.90 L206.4,349.90 M205.20000000000002,344.80 L206.4,344.80 M205.20000000000002,341.81 L206.4,341.81 M205.20000000000002,339.70 L206.4,339.70 M205.20000000000002,338.05 L206.4,338.05 M205.20000000000002,336.71 L206.4,336.71 M205.20000000000002,335.58 L206.4,335.58 M205.20000000000002,334.59 L206.4,334.59 M205.20000000000002,333.73 L206.4,333.73 M204.0,332.95 L206.4,332.95 M205.20000000000002,327.85 L206.4,327.85 M205.20000000000002,324.86 L206.4,324.86 M205.20000000000002,322.75 L206.4,322.75 M205.20000000000002,321.10 L206.4,321.10 M205.20000000000002,319.76 L206.4,319.76 M205.20000000000002,318.63 L206.4,318.63 M205.20000000000002,317.64 L206.4,317.64 M205.20000000000002,316.78 L206.4,316.78 M204.0,316.00 L206.4,316.00 M205.20000000000002,310.90 L206.4,310.90 M205.20000000000002,307.91 L206.4,307.91 M205.20000000000002,305.80 L206.4,305.80 M205.20000000000002,304.15 L206.4,304.15 M205.20000000000002,302.81 L206.4,302.81 M205.20000000000002,301.68 L206.4,301.68 M205.20000000000002,300.69 L206.4,300.69 M205.20000000000002,299.83 L206.4,299.83 M204.0,299.05 L206.4,299.05 M205.20000000000002,293.95 L206.4,293.95 M205.20000000000002,290.96 L206.4,290.96 M205.20000000000002,288.85 L206.4,288.85 M205.20000000000002,287.20 L206.4,287.20 M205.20000000000002,285.86 L206.4,285.86 M205.20000000000002,284.73 L206.4,284.73 M205.20000000000002,283.74 L206.4,283.74 M205.20000000000002,282.88 L206.4,282.88 M204.0,282.10 L206.4,282.10 M214.50,366.9 L214.50,369.2 M230.47,366.9 L230.47,369.2 M246.44,366.9 L246.44,369.2 M262.41,366.9 L262.41,369.2 M278.38,366.9 L278.38,369.2 M294.35,366.9 L294.35,369.2 M310.32,366.9 L310.32,369.2 M326.29,366.9 L326.29,369.2" stroke="#111" stroke-width="0.8" fill="none"/>
<text x="196.40" y="368.85" font-size="5.7" text-anchor="end" fill="#333">1×10</text>
<text x="196.50" y="365.95" font-size="3.8" fill="#333">2</text>
<text x="196.40" y="351.90" font-size="5.7" text-anchor="end" fill="#333">1×10</text>
<text x="196.50" y="349.00" font-size="3.8" fill="#333">3</text>
<text x="196.40" y="334.95" font-size="5.7" text-anchor="end" fill="#333">1×10</text>
<text x="196.50" y="332.05" font-size="3.8" fill="#333">4</text>
<text x="196.40" y="318.00" font-size="5.7" text-anchor="end" fill="#333">1×10</text>
<text x="196.50" y="315.10" font-size="3.8" fill="#333">5</text>
<text x="196.40" y="301.05" font-size="5.7" text-anchor="end" fill="#333">1×10</text>
<text x="196.50" y="298.15" font-size="3.8" fill="#333">6</text>
<text x="196.40" y="284.10" font-size="5.7" text-anchor="end" fill="#333">1×10</text>
<text x="196.50" y="281.20" font-size="3.8" fill="#333">7</text>
<text transform="translate(178.80,322.40) rotate(-90)" x="0" y="0" font-size="8.2" text-anchor="middle" fill="#333" textLength="10.6" lengthAdjust="spacingAndGlyphs">LUM</text>
<text transform="translate(217.20,377.00) rotate(-45) scale(0.92,1)" font-size="7.3" text-anchor="end" fill="#333">60</text>
<text transform="translate(233.17,377.00) rotate(-45) scale(0.92,1)" font-size="7.3" text-anchor="end" fill="#333">30</text>
<text transform="translate(249.14,377.00) rotate(-45) scale(0.92,1)" font-size="7.3" text-anchor="end" fill="#333">15</text>
<text transform="translate(265.11,377.00) rotate(-45) scale(0.92,1)" font-size="7.3" text-anchor="end" fill="#333">7.5</text>
<text transform="translate(281.08,377.00) rotate(-45) scale(0.92,1)" font-size="7.3" text-anchor="end" fill="#333">3.75</text>
<text transform="translate(297.05,377.00) rotate(-45) scale(0.92,1)" font-size="7.3" text-anchor="end" fill="#333">1.875</text>
<text transform="translate(313.02,377.00) rotate(-45) scale(0.92,1)" font-size="7.3" text-anchor="end" fill="#333">0.9375</text>
<text transform="translate(328.99,377.00) rotate(-45) scale(0.92,1)" font-size="7.3" text-anchor="end" fill="#333">0.46875</text>
<text x="270.20" y="405.30" font-size="8.8" text-anchor="middle" fill="#333" textLength="67.4" lengthAdjust="spacingAndGlyphs">Concentration (µg/ml)</text>
<path d="M214.50,351.09 L230.47,350.58 L246.44,351.76 L262.41,352.78 L278.38,352.78 L294.35,353.80 L310.32,352.78 L326.29,353.12" fill="none" stroke="#c4c4c4" stroke-width="1.2"/>
<g fill="#c4c4c4"><circle cx="214.50" cy="351.09" r="1.4"/><circle cx="230.47" cy="350.58" r="1.4"/><circle cx="246.44" cy="351.76" r="1.4"/><circle cx="262.41" cy="352.78" r="1.4"/><circle cx="278.38" cy="352.78" r="1.4"/><circle cx="294.35" cy="353.80" r="1.4"/><circle cx="310.32" cy="352.78" r="1.4"/><circle cx="326.29" cy="353.12" r="1.4"/></g>
<path d="M214.50,338.88 L230.47,342.78 L246.44,341.26 L262.41,343.29 L278.38,345.15 L294.35,348.21 L310.32,348.21 L326.29,348.21" fill="none" stroke="#3aaee0" stroke-width="1.2"/>
<g fill="#3aaee0"><circle cx="214.50" cy="338.88" r="1.4"/><circle cx="230.47" cy="342.78" r="1.4"/><circle cx="246.44" cy="341.26" r="1.4"/><circle cx="262.41" cy="343.29" r="1.4"/><circle cx="278.38" cy="345.15" r="1.4"/><circle cx="294.35" cy="348.21" r="1.4"/><circle cx="310.32" cy="348.21" r="1.4"/><circle cx="326.29" cy="348.21" r="1.4"/></g>
<path d="M214.50,329.56 L230.47,336.17 L246.44,340.41 L262.41,343.29 L278.38,345.15 L294.35,339.73 L310.32,348.21 L326.29,349.05" fill="none" stroke="#9a90c8" stroke-width="1.2"/>
<g fill="#9a90c8"><circle cx="214.50" cy="329.56" r="1.4"/><circle cx="230.47" cy="336.17" r="1.4"/><circle cx="246.44" cy="340.41" r="1.4"/><circle cx="262.41" cy="343.29" r="1.4"/><circle cx="278.38" cy="345.15" r="1.4"/><circle cx="294.35" cy="339.73" r="1.4"/><circle cx="310.32" cy="348.21" r="1.4"/><circle cx="326.29" cy="349.05" r="1.4"/></g>
<path d="M214.50,345.49 L230.47,346.68 L246.44,349.56 L262.41,349.05 L278.38,349.56 L294.35,349.56 L310.32,347.36 L326.29,345.66" fill="none" stroke="#c8681e" stroke-width="1.2"/>
<g fill="#c8681e"><circle cx="214.50" cy="345.49" r="1.4"/><circle cx="230.47" cy="346.68" r="1.4"/><circle cx="246.44" cy="349.56" r="1.4"/><circle cx="262.41" cy="349.05" r="1.4"/><circle cx="278.38" cy="349.56" r="1.4"/><circle cx="294.35" cy="349.56" r="1.4"/><circle cx="310.32" cy="347.36" r="1.4"/><circle cx="326.29" cy="345.66" r="1.4"/></g>
<path d="M214.50,342.78 L230.47,346.68 L246.44,348.21 L262.41,348.54 L278.38,349.05 L294.35,344.82 L310.32,343.97 L326.29,349.05" fill="none" stroke="#4a2c0e" stroke-width="1.2"/>
<g fill="#4a2c0e"><circle cx="214.50" cy="342.78" r="1.4"/><circle cx="230.47" cy="346.68" r="1.4"/><circle cx="246.44" cy="348.21" r="1.4"/><circle cx="262.41" cy="348.54" r="1.4"/><circle cx="278.38" cy="349.05" r="1.4"/><circle cx="294.35" cy="344.82" r="1.4"/><circle cx="310.32" cy="343.97" r="1.4"/><circle cx="326.29" cy="349.05" r="1.4"/></g>
<path d="M214.50,297.86 L230.47,302.95 L246.44,310.24 L262.41,318.37 L278.38,327.70 L294.35,337.02 L310.32,341.26 L326.29,342.44" fill="none" stroke="#cc1e3e" stroke-width="1.2"/>
<g fill="#cc1e3e"><circle cx="214.50" cy="297.86" r="1.4"/><circle cx="230.47" cy="302.95" r="1.4"/><circle cx="246.44" cy="310.24" r="1.4"/><circle cx="262.41" cy="318.37" r="1.4"/><circle cx="278.38" cy="327.70" r="1.4"/><circle cx="294.35" cy="337.02" r="1.4"/><circle cx="310.32" cy="341.26" r="1.4"/><circle cx="326.29" cy="342.44" r="1.4"/></g>
<path d="M214.50,303.29 L230.47,308.03 L246.44,314.64 L262.41,323.29 L278.38,329.56 L294.35,338.20 L310.32,343.12 L326.29,344.82" fill="none" stroke="#eea23c" stroke-width="1.2"/>
<g fill="#eea23c"><circle cx="214.50" cy="303.29" r="1.4"/><circle cx="230.47" cy="308.03" r="1.4"/><circle cx="246.44" cy="314.64" r="1.4"/><circle cx="262.41" cy="323.29" r="1.4"/><circle cx="278.38" cy="329.56" r="1.4"/><circle cx="294.35" cy="338.20" r="1.4"/><circle cx="310.32" cy="343.12" r="1.4"/><circle cx="326.29" cy="344.82" r="1.4"/></g>
<path d="M214.50,299.05 L230.47,304.30 L246.44,313.12 L262.41,320.24 L278.38,324.81 L294.35,333.29 L310.32,337.19 L326.29,337.19" fill="none" stroke="#3aa43a" stroke-width="1.2"/>
<g fill="#3aa43a"><circle cx="214.50" cy="299.05" r="1.4"/><circle cx="230.47" cy="304.30" r="1.4"/><circle cx="246.44" cy="313.12" r="1.4"/><circle cx="262.41" cy="320.24" r="1.4"/><circle cx="278.38" cy="324.81" r="1.4"/><circle cx="294.35" cy="333.29" r="1.4"/><circle cx="310.32" cy="337.19" r="1.4"/><circle cx="326.29" cy="337.19" r="1.4"/></g>
<path d="M214.50,293.29 L230.47,298.54 L246.44,304.30 L262.41,310.07 L278.38,316.00 L294.35,325.15 L310.32,334.31 L326.29,341.26" fill="none" stroke="#4e1845" stroke-width="1.2"/>
<g fill="#4e1845"><circle cx="214.50" cy="293.29" r="1.4"/><circle cx="230.47" cy="298.54" r="1.4"/><circle cx="246.44" cy="304.30" r="1.4"/><circle cx="262.41" cy="310.07" r="1.4"/><circle cx="278.38" cy="316.00" r="1.4"/><circle cx="294.35" cy="325.15" r="1.4"/><circle cx="310.32" cy="334.31" r="1.4"/><circle cx="326.29" cy="341.26" r="1.4"/></g>
<path d="M214.50,285.83 L230.47,288.88 L246.44,293.63 L262.41,297.86 L278.38,302.95 L294.35,308.03 L310.32,314.14 L326.29,324.48" fill="none" stroke="#1d3f70" stroke-width="1.2"/>
<g fill="#1d3f70"><circle cx="214.50" cy="285.83" r="1.4"/><circle cx="230.47" cy="288.88" r="1.4"/><circle cx="246.44" cy="293.63" r="1.4"/><circle cx="262.41" cy="297.86" r="1.4"/><circle cx="278.38" cy="302.95" r="1.4"/><circle cx="294.35" cy="308.03" r="1.4"/><circle cx="310.32" cy="314.14" r="1.4"/><circle cx="326.29" cy="324.48" r="1.4"/></g>
<line x1="338.6" y1="292.50" x2="345.4" y2="292.50" stroke="#3aaee0" stroke-width="0.9"/>
<circle cx="342" cy="292.50" r="1.1" fill="#3aaee0"/>
<text x="348.6" y="294.70" font-size="6.2" fill="#333">CR22042</text>
<line x1="338.6" y1="300.79" x2="345.4" y2="300.79" stroke="#c8681e" stroke-width="0.9"/>
<circle cx="342" cy="300.79" r="1.1" fill="#c8681e"/>
<text x="348.6" y="302.99" font-size="6.2" fill="#333">CR22044</text>
<line x1="338.6" y1="309.08" x2="345.4" y2="309.08" stroke="#9a90c8" stroke-width="0.9"/>
<circle cx="342" cy="309.08" r="1.1" fill="#9a90c8"/>
<text x="348.6" y="311.28" font-size="6.2" fill="#333">CR22091</text>
<line x1="338.6" y1="317.37" x2="345.4" y2="317.37" stroke="#3aa43a" stroke-width="0.9"/>
<circle cx="342" cy="317.37" r="1.1" fill="#3aa43a"/>
<text x="348.6" y="319.57" font-size="6.2" fill="#333">CR22045</text>
<line x1="338.6" y1="325.66" x2="345.4" y2="325.66" stroke="#eea23c" stroke-width="0.9"/>
<circle cx="342" cy="325.66" r="1.1" fill="#eea23c"/>
<text x="348.6" y="327.86" font-size="6.2" fill="#333">CR22046</text>
<line x1="338.6" y1="333.95" x2="345.4" y2="333.95" stroke="#4a2c0e" stroke-width="0.9"/>
<circle cx="342" cy="333.95" r="1.1" fill="#4a2c0e"/>
<text x="348.6" y="336.15" font-size="6.2" fill="#333">CR22047</text>
<line x1="338.6" y1="342.24" x2="345.4" y2="342.24" stroke="#cc1e3e" stroke-width="0.9"/>
<circle cx="342" cy="342.24" r="1.1" fill="#cc1e3e"/>
<text x="348.6" y="344.44" font-size="6.2" fill="#333">CR22050</text>
<line x1="338.6" y1="350.53" x2="345.4" y2="350.53" stroke="#4e1845" stroke-width="0.9"/>
<circle cx="342" cy="350.53" r="1.1" fill="#4e1845"/>
<text x="348.6" y="352.73" font-size="6.2" fill="#333">CR22051</text>
<line x1="338.6" y1="358.82" x2="345.4" y2="358.82" stroke="#1d3f70" stroke-width="0.9"/>
<circle cx="342" cy="358.82" r="1.1" fill="#1d3f70"/>
<text x="348.6" y="361.02" font-size="6.2" fill="#333">CR22066</text>
<line x1="338.6" y1="367.11" x2="345.4" y2="367.11" stroke="#c4c4c4" stroke-width="0.9"/>
<circle cx="342" cy="367.11" r="1.1" fill="#c4c4c4"/>
<text x="348.6" y="369.31" font-size="6.2" fill="#333">Blank</text>
<text x="453.00" y="122.20" font-size="7.6" text-anchor="middle" fill="#333" >CR22046</text>
<text x="453.30" y="222.30" font-size="7.6" text-anchor="middle" fill="#333" >PF4</text>
<defs><filter id="bl3" x="-50%" y="-50%" width="200%" height="200%"><feGaussianBlur stdDeviation="2.2"/></filter><filter id="bl2" x="-50%" y="-50%" width="200%" height="200%"><feGaussianBlur stdDeviation="1.3"/></filter><filter id="blf" x="-5%" y="-5%" width="110%" height="110%"><feGaussianBlur stdDeviation="0.85"/></filter><filter id="bl1" x="-50%" y="-50%" width="200%" height="200%"><feGaussianBlur stdDeviation="0.7"/></filter><filter id="tex" x="0" y="0" width="100%" height="100%"><feTurbulence type="fractalNoise" baseFrequency="0.32" numOctaves="2" seed="4"/><feColorMatrix type="matrix" values="0 0 0 0 1  0 0 0 0 1  0 0 0 0 1  0 0 0 -1.6 1.05"/></filter><filter id="tex2" x="0" y="0" width="100%" height="100%"><feTurbulence type="fractalNoise" baseFrequency="0.35" numOctaves="2" seed="9"/><feColorMatrix type="matrix" values="0 0 0 0 0  0 0 0 0 0  0 0 0 0 0.1  0 0 0 1.3 -0.62"/></filter></defs>
<clipPath id="cp1"><path d="M407.2,159.7 C407.0,157.8 407.0,156.0 407.7,154.9 C408.4,153.8 410.2,153.1 411.5,153.0 C412.8,152.9 414.3,154.9 415.4,154.4 C416.4,153.9 417.0,151.4 417.8,150.1 C418.6,148.8 419.0,147.4 420.2,146.8 C421.4,146.2 423.2,146.2 425.0,146.3 C426.8,146.4 429.2,147.2 430.8,147.2 C432.4,147.2 433.2,147.1 434.6,146.3 C436.0,145.5 437.6,143.4 439.4,142.4 C441.2,141.4 443.4,142.0 445.2,140.5 C447.0,139.0 448.9,134.3 450.3,133.3 C451.7,132.3 452.1,133.4 453.5,134.3 C454.9,135.2 457.1,137.7 458.8,138.6 C460.6,139.5 462.1,139.9 464.0,139.6 C465.9,139.2 468.4,137.1 470.4,136.5 C472.3,135.9 474.1,135.4 475.7,135.9 C477.3,136.4 478.6,138.4 480.0,139.6 C481.4,140.8 482.6,142.1 484.2,142.8 C485.8,143.5 488.0,143.2 489.4,143.9 C490.8,144.6 492.0,145.6 492.6,147.0 C493.2,148.4 493.3,150.9 493.1,152.3 C492.9,153.7 491.8,153.9 491.6,155.5 C491.4,157.1 491.6,159.8 492.1,161.9 C492.6,164.0 494.2,166.1 494.7,168.2 C495.2,170.3 495.3,172.4 495.2,174.6 C495.1,176.8 494.7,179.1 494.2,181.5 C493.7,183.9 491.7,187.6 492.3,189.2 C492.9,190.8 497.1,190.2 498.0,191.2 C498.9,192.2 498.6,194.1 498.0,195.0 C497.4,195.9 495.8,196.9 494.2,196.9 C492.6,196.9 490.7,195.0 488.5,195.0 C486.3,195.0 483.1,195.9 480.8,196.9 C478.6,197.9 476.9,200.0 475.0,200.8 C473.1,201.6 471.4,201.9 469.2,201.7 C466.9,201.5 464.1,200.3 461.5,199.8 C458.9,199.3 456.4,198.8 453.8,198.8 C451.2,198.8 448.8,199.8 446.2,199.8 C443.6,199.8 441.1,199.3 438.5,198.8 C435.9,198.3 433.1,198.2 430.8,196.9 C428.6,195.6 426.9,193.1 425.0,191.2 C423.1,189.3 421.4,186.7 419.2,185.4 C416.9,184.1 413.2,185.1 411.5,183.5 C409.8,181.9 409.0,177.8 408.7,175.8 C408.4,173.8 409.6,172.9 409.6,171.3 C409.6,169.8 409.1,168.4 408.7,166.5 C408.3,164.6 407.4,161.6 407.2,159.7Z"/></clipPath>
<g clip-path="url(#cp1)"><g filter="url(#blf)"><path fill="#e4a29c" d="M440 129h2v2h-2zM444 129h2v2h-2zM488 129h2v2h-2zM444 133h2v2h-2zM490 133h2v2h-2zM488 135h2v2h-2zM442 137h4v2h-4zM492 137h2v2h-2z"/><path fill="#f0a8a2" d="M442 129h2v2h-2zM446 129h2v2h-2zM440 133h2v2h-2zM448 133h2v2h-2zM494 133h2v2h-2zM444 135h4v2h-4zM496 137h2v2h-2zM424 159h2v2h-2z"/><path fill="#f0a8a8" d="M448 129h2v2h-2zM442 135h2v2h-2zM500 145h2v2h-2zM434 147h2v2h-2zM426 177h2v2h-2z"/><path fill="#de9c9c" d="M450 129h2v2h-2zM454 141h2v2h-2zM422 161h2v2h-2z"/><path fill="#d8aeae" d="M452 129h2v2h-2zM498 151h2v2h-2z"/><path fill="#f0eaf0" d="M454 129h2v2h-2zM454 133h2v2h-2zM456 135h2v2h-2zM474 137h2v2h-2zM474 139h2v2h-2zM476 179h2v2h-2zM428 185h2v2h-2zM434 185h2v2h-2zM462 207h2v2h-2z"/><path fill="#dedee4" d="M456 129h4v2h-4zM430 137h2v2h-2zM478 173h2v2h-2zM482 177h2v2h-2zM478 179h2v2h-2zM430 187h2v2h-2zM468 193h2v2h-2zM468 197h2v2h-2zM460 199h2v2h-2zM462 201h2v2h-2zM458 203h2v2h-2zM466 203h2v2h-2zM456 207h2v2h-2z"/><path fill="#f6f6fc" d="M460 129h2v2h-2zM456 133h2v2h-2zM464 201h2v2h-2zM460 203h2v2h-2z"/><path fill="#cccce4" d="M462 129h2v2h-2zM472 137h2v2h-2zM472 195h2v2h-2z"/><path fill="#c0c0e4" d="M464 129h2v2h-2zM434 133h2v2h-2zM468 133h2v2h-2zM434 137h2v2h-2zM416 165h2v2h-2zM438 189h2v2h-2z"/><path fill="#b4b4d8" d="M466 129h2v2h-2zM466 131h2v2h-2zM436 135h2v2h-2zM470 135h2v2h-2zM436 139h2v2h-2zM440 141h2v2h-2zM440 143h2v2h-2zM460 195h2v2h-2z"/><path fill="#babade" d="M468 129h2v2h-2zM468 131h2v2h-2zM484 161h2v2h-2z"/><path fill="#babad8" d="M470 129h2v2h-2zM470 131h2v2h-2z"/><path fill="#dedef0" d="M472 129h2v2h-2zM428 141h2v2h-2zM442 143h2v2h-2zM484 167h2v2h-2zM470 203h2v2h-2z"/><path fill="#eaeaf0" d="M474 129h2v2h-2zM480 175h4v2h-4zM476 183h2v2h-2zM434 187h2v2h-2zM434 189h2v2h-2zM428 191h2v2h-2zM456 203h2v2h-2zM456 205h2v2h-2z"/><path fill="#d8d2d8" d="M476 129h6v2h-6zM484 129h2v2h-2zM478 133h2v2h-2zM478 135h2v2h-2zM424 185h4v2h-4zM422 191h4v2h-4zM432 191h2v2h-2zM466 193h2v2h-2zM420 197h2v2h-2zM430 201h2v2h-2z"/><path fill="#c0c0c6" d="M482 129h2v2h-2zM422 187h2v2h-2zM420 191h2v2h-2zM430 195h2v2h-2zM426 203h2v2h-2z"/><path fill="#e4aeae" d="M486 129h2v2h-2zM448 137h2v2h-2z"/><path fill="#de9c96" d="M490 129h2v2h-2zM492 133h2v2h-2zM496 133h2v2h-2zM494 135h4v2h-4zM498 147h4v2h-4zM464 189h2v2h-2z"/><path fill="#f6aea8" d="M492 129h2v2h-2zM442 131h2v2h-2zM488 131h2v2h-2zM446 133h2v2h-2zM488 137h2v2h-2zM494 137h2v2h-2z"/><path fill="#eaa8a2" d="M438 131h2v2h-2zM440 135h2v2h-2z"/><path fill="#f0aea8" d="M440 131h2v2h-2zM444 131h2v2h-2zM492 131h2v2h-2zM442 133h2v2h-2zM448 135h2v2h-2zM490 135h4v2h-4zM496 147h2v2h-2zM492 149h2v2h-2z"/><path fill="#fcb4a8" d="M446 131h2v2h-2z"/><path fill="#eaa89c" d="M448 131h2v2h-2z"/><path fill="#f6b4a8" d="M450 131h2v2h-2zM446 137h2v2h-2zM490 149h2v2h-2z"/><path fill="#eababa" d="M452 131h2v2h-2zM466 145h2v2h-2z"/><path fill="#f6eaf0" d="M454 131h2v2h-2zM488 153h2v2h-2z"/><path fill="#f6f0fc" d="M456 131h2v2h-2zM430 139h2v2h-2zM482 167h2v2h-2zM484 169h2v2h-2zM476 171h2v2h-2zM482 173h2v2h-2zM458 205h2v2h-2zM460 207h2v2h-2z"/><path fill="#d8d8de" d="M458 131h4v2h-4zM458 133h2v2h-2zM430 143h2v2h-2zM482 169h2v2h-2zM480 171h2v2h-2zM478 177h2v2h-2zM430 191h2v2h-2zM432 195h2v2h-2zM462 195h2v2h-2zM416 197h2v2h-2zM428 197h6v2h-6zM462 197h4v2h-4zM426 199h2v2h-2zM468 199h2v2h-2zM458 201h2v2h-2z"/><path fill="#a8a8cc" d="M462 131h2v2h-2zM436 137h2v2h-2zM436 141h2v2h-2zM476 161h2v2h-2zM488 169h2v2h-2zM482 185h2v2h-2zM436 195h2v2h-2zM458 197h2v2h-2z"/><path fill="#c0c0ea" d="M464 131h2v2h-2zM434 135h2v2h-2zM438 139h2v2h-2zM486 179h2v2h-2z"/><path fill="#d8d8ea" d="M472 131h2v2h-2zM472 135h2v2h-2zM428 137h2v2h-2zM476 149h2v2h-2zM480 163h2v2h-2zM470 207h2v2h-2z"/><path fill="#ded8e4" d="M474 131h2v2h-2zM430 135h2v2h-2zM474 149h2v2h-2zM484 155h2v2h-2zM418 163h2v2h-2zM476 169h2v2h-2zM476 177h2v2h-2zM476 181h2v2h-2zM430 185h2v2h-2zM426 189h2v2h-2zM430 193h2v2h-2zM464 195h2v2h-2zM458 199h2v2h-2zM460 201h2v2h-2zM462 203h2v2h-2z"/><path fill="#d2ccd2" d="M476 131h2v2h-2zM480 131h2v2h-2zM426 183h2v2h-2zM426 193h2v2h-2zM422 195h2v2h-2zM426 197h2v2h-2zM422 199h2v2h-2zM430 199h2v2h-2zM426 201h2v2h-2zM428 203h2v2h-2z"/><path fill="#d2ccd8" d="M478 131h2v2h-2zM458 135h2v2h-2zM474 135h2v2h-2zM416 161h2v2h-2zM428 195h2v2h-2zM422 201h2v2h-2zM428 205h2v2h-2z"/><path fill="#ded8d8" d="M482 131h2v2h-2z"/><path fill="#deb4ba" d="M484 131h2v2h-2zM460 165h2v2h-2z"/><path fill="#f6a8a2" d="M486 131h2v2h-2zM486 137h2v2h-2zM498 137h2v2h-2z"/><path fill="#fcb4ae" d="M490 131h2v2h-2zM488 133h2v2h-2zM496 149h2v2h-2z"/><path fill="#dea29c" d="M494 131h2v2h-2zM494 149h2v2h-2zM498 149h2v2h-2zM430 179h2v2h-2z"/><path fill="#d2c0d8" d="M436 133h2v2h-2z"/><path fill="#f6b4ae" d="M438 133h2v2h-2zM446 139h2v2h-2zM470 183h2v2h-2z"/><path fill="#e4a89c" d="M450 133h2v2h-2z"/><path fill="#deb4ae" d="M452 133h2v2h-2z"/><path fill="#d2ccea" d="M460 133h2v2h-2zM484 165h2v2h-2z"/><path fill="#5454ae" d="M462 133h2v2h-2zM478 155h2v2h-2zM466 157h2v2h-2zM492 157h2v2h-2zM472 165h2v2h-2zM432 203h2v2h-2zM452 205h2v2h-2z"/><path fill="#9090c6" d="M464 133h2v2h-2zM476 157h2v2h-2zM454 191h2v2h-2z"/><path fill="#aeaed2" d="M466 133h2v2h-2zM438 141h2v2h-2zM494 155h2v2h-2zM484 159h2v2h-2z"/><path fill="#ccccea" d="M470 133h2v2h-2zM472 139h2v2h-2zM486 177h2v2h-2z"/><path fill="#ccccd8" d="M472 133h2v2h-2zM432 199h2v2h-2z"/><path fill="#e4e4ea" d="M474 133h2v2h-2zM484 173h2v2h-2zM478 175h2v2h-2zM480 177h2v2h-2zM478 181h2v2h-2zM474 183h2v2h-2zM478 183h2v2h-2zM428 189h2v2h-2zM466 201h2v2h-2zM462 205h2v2h-2zM464 207h2v2h-2zM468 207h2v2h-2z"/><path fill="#c6c6cc" d="M476 133h2v2h-2zM426 195h2v2h-2z"/><path fill="#ccc6cc" d="M480 133h2v2h-2zM424 187h2v2h-2zM418 191h2v2h-2zM420 193h4v2h-4zM432 193h2v2h-2zM416 195h4v2h-4zM424 195h2v2h-2zM422 197h2v2h-2zM424 203h2v2h-2z"/><path fill="#dec0c0" d="M482 133h2v2h-2z"/><path fill="#f6908a" d="M484 133h2v2h-2zM452 145h2v2h-2z"/><path fill="#eaa29c" d="M486 133h2v2h-2zM494 147h2v2h-2z"/><path fill="#30309c" d="M418 135h2v2h-2zM496 159h2v2h-2zM500 159h2v2h-2zM494 161h4v2h-4zM500 161h2v2h-2zM470 163h2v2h-2zM492 163h4v2h-4zM500 163h2v2h-2zM410 165h2v2h-2zM494 165h2v2h-2zM492 167h2v2h-2zM496 167h4v2h-4zM492 169h2v2h-2zM496 169h2v2h-2zM414 171h2v2h-2zM498 171h2v2h-2zM492 173h2v2h-2zM496 173h4v2h-4zM490 185h2v2h-2zM446 191h4v2h-4zM492 191h2v2h-2zM450 193h2v2h-2zM492 193h2v2h-2zM498 193h2v2h-2zM490 195h4v2h-4zM444 197h4v2h-4zM490 197h2v2h-2zM498 197h2v2h-2zM444 199h2v2h-2zM496 199h2v2h-2zM444 201h2v2h-2zM496 201h2v2h-2zM490 203h2v2h-2zM494 203h4v2h-4zM446 205h2v2h-2zM490 205h2v2h-2zM444 207h2v2h-2z"/><path fill="#36369c" d="M420 135h2v2h-2zM420 137h2v2h-2zM464 137h2v2h-2zM420 139h2v2h-2zM420 141h2v2h-2zM498 157h2v2h-2zM470 159h2v2h-2zM466 161h2v2h-2zM410 163h2v2h-2zM466 163h2v2h-2zM494 175h2v2h-2zM418 177h2v2h-2zM476 195h2v2h-2z"/><path fill="#4242a8" d="M422 135h2v2h-2zM416 171h2v2h-2zM488 185h2v2h-2zM476 197h2v2h-2z"/><path fill="#4848a2" d="M424 135h2v2h-2zM486 187h2v2h-2zM406 189h2v2h-2zM410 189h2v2h-2zM414 189h2v2h-2zM404 191h4v2h-4zM410 191h2v2h-2zM412 195h2v2h-2zM440 197h2v2h-2zM450 201h4v2h-4zM440 203h2v2h-2zM474 203h2v2h-2zM476 205h2v2h-2zM432 207h2v2h-2zM482 207h2v2h-2z"/><path fill="#7878b4" d="M426 135h2v2h-2zM426 139h2v2h-2zM416 191h2v2h-2z"/><path fill="#e4def0" d="M428 135h2v2h-2zM488 155h2v2h-2zM486 157h2v2h-2zM470 197h2v2h-2z"/><path fill="#c6c6ea" d="M432 135h2v2h-2zM436 193h2v2h-2z"/><path fill="#d2aeba" d="M438 135h2v2h-2z"/><path fill="#fcbab4" d="M450 135h2v2h-2zM458 185h2v2h-2z"/><path fill="#eac0c0" d="M452 135h2v2h-2zM422 157h2v2h-2zM428 179h2v2h-2z"/><path fill="#e4dee4" d="M454 135h2v2h-2zM476 173h2v2h-2zM466 199h2v2h-2zM464 203h2v2h-2zM458 207h2v2h-2z"/><path fill="#726cb4" d="M460 135h2v2h-2zM482 157h2v2h-2z"/><path fill="#3c3cae" d="M462 135h2v2h-2zM498 175h2v2h-2z"/><path fill="#4848a8" d="M464 135h2v2h-2zM490 171h2v2h-2zM490 173h2v2h-2zM490 181h2v2h-2zM488 183h2v2h-2zM412 185h2v2h-2zM410 187h4v2h-4zM408 189h2v2h-2zM476 189h2v2h-2zM408 191h2v2h-2zM406 193h6v2h-6zM454 193h2v2h-2zM452 197h2v2h-2zM450 199h2v2h-2zM476 199h2v2h-2zM436 201h2v2h-2zM434 203h2v2h-2zM476 203h2v2h-2zM434 205h2v2h-2zM450 205h2v2h-2z"/><path fill="#8a8acc" d="M466 135h2v2h-2zM498 155h2v2h-2zM480 161h2v2h-2z"/><path fill="#9c9cc6" d="M468 135h2v2h-2zM488 157h2v2h-2zM414 165h2v2h-2z"/><path fill="#ded8de" d="M476 135h2v2h-2zM430 145h2v2h-2zM494 153h2v2h-2zM422 185h2v2h-2zM420 189h2v2h-2zM418 193h2v2h-2zM424 193h2v2h-2zM418 199h2v2h-2z"/><path fill="#ccaeae" d="M480 135h2v2h-2z"/><path fill="#e47872" d="M482 135h2v2h-2z"/><path fill="#e48478" d="M484 135h2v2h-2z"/><path fill="#f0a29c" d="M486 135h2v2h-2zM470 181h2v2h-2zM458 183h2v2h-2zM460 185h2v2h-2z"/><path fill="#2a2490" d="M410 137h2v2h-2zM410 141h2v2h-2zM410 149h2v2h-2z"/><path fill="#3c3096" d="M412 137h2v2h-2z"/><path fill="#363096" d="M414 137h2v2h-2z"/><path fill="#36309c" d="M416 137h2v2h-2zM416 139h4v2h-4zM418 173h2v2h-2z"/><path fill="#3636a2" d="M418 137h2v2h-2zM492 159h2v2h-2zM492 165h2v2h-2zM500 165h2v2h-2zM500 173h2v2h-2zM452 195h2v2h-2zM494 195h2v2h-2zM442 197h2v2h-2zM448 197h2v2h-2zM494 197h2v2h-2zM494 199h2v2h-2zM498 199h2v2h-2zM446 203h2v2h-2zM446 207h2v2h-2z"/><path fill="#4242a2" d="M422 137h2v2h-2zM422 139h2v2h-2zM472 161h2v2h-2zM490 161h2v2h-2zM472 163h2v2h-2zM412 167h2v2h-2zM490 167h2v2h-2zM494 179h2v2h-2zM404 189h2v2h-2zM480 201h2v2h-2z"/><path fill="#4e4ea8" d="M424 137h2v2h-2zM490 179h2v2h-2zM474 189h2v2h-2zM414 193h2v2h-2zM452 199h2v2h-2zM474 207h2v2h-2z"/><path fill="#7e78c0" d="M426 137h2v2h-2zM416 185h2v2h-2z"/><path fill="#c6c6de" d="M432 137h2v2h-2zM484 177h2v2h-2z"/><path fill="#bab4d8" d="M438 137h2v2h-2z"/><path fill="#eab4b4" d="M440 137h2v2h-2zM488 151h2v2h-2z"/><path fill="#dec0c6" d="M450 137h2v2h-2zM478 137h2v2h-2zM418 157h2v2h-2zM466 191h2v2h-2z"/><path fill="#e4d8d8" d="M452 137h2v2h-2zM476 137h2v2h-2zM424 155h2v2h-2zM474 181h2v2h-2z"/><path fill="#f0e4ea" d="M454 137h2v2h-2zM490 153h4v2h-4zM468 189h2v2h-2z"/><path fill="#d8ccd2" d="M456 137h2v2h-2zM450 141h2v2h-2zM478 143h2v2h-2z"/><path fill="#c0aec6" d="M458 137h2v2h-2z"/><path fill="#605aa8" d="M460 137h2v2h-2zM422 145h2v2h-2z"/><path fill="#3c3ca8" d="M462 137h2v2h-2zM464 139h2v2h-2zM500 157h2v2h-2zM496 179h2v2h-2zM478 189h2v2h-2zM476 193h2v2h-2zM482 203h2v2h-2z"/><path fill="#4848b4" d="M466 137h2v2h-2zM472 159h2v2h-2zM492 177h2v2h-2zM450 189h2v2h-2zM478 199h2v2h-2z"/><path fill="#6060ae" d="M468 137h2v2h-2zM412 165h2v2h-2zM418 181h2v2h-2zM446 187h2v2h-2z"/><path fill="#8484c0" d="M470 137h2v2h-2zM426 143h2v2h-2zM482 161h2v2h-2zM472 189h2v2h-2z"/><path fill="#d88484" d="M480 137h2v2h-2zM428 177h2v2h-2z"/><path fill="#e46660" d="M482 137h2v2h-2zM490 141h2v2h-2z"/><path fill="#de7872" d="M484 137h2v2h-2zM484 139h2v2h-2z"/><path fill="#e49c9c" d="M490 137h2v2h-2zM430 151h2v2h-2z"/><path fill="#24248a" d="M406 139h2v2h-2zM410 139h2v2h-2zM404 141h2v2h-2zM404 143h2v2h-2zM410 143h2v2h-2zM404 147h2v2h-2zM404 149h4v2h-4zM406 153h2v2h-2zM406 157h2v2h-2zM402 163h2v2h-2zM404 165h2v2h-2zM404 169h6v2h-6zM412 169h2v2h-2zM404 171h2v2h-2zM410 171h2v2h-2zM404 173h2v2h-2zM408 173h6v2h-6zM408 175h4v2h-4zM412 177h2v2h-2zM402 179h2v2h-2zM408 179h2v2h-2zM500 179h2v2h-2zM404 183h2v2h-2zM408 183h2v2h-2zM496 183h2v2h-2zM494 185h4v2h-4zM402 187h2v2h-2zM500 187h2v2h-2zM486 189h4v2h-4zM492 189h2v2h-2zM498 189h4v2h-4zM482 191h2v2h-2zM488 191h2v2h-2zM496 191h4v2h-4zM446 193h2v2h-2zM484 197h2v2h-2zM482 199h2v2h-2zM486 199h2v2h-2zM488 201h2v2h-2zM486 205h2v2h-2z"/><path fill="#242484" d="M408 139h2v2h-2zM406 145h2v2h-2zM408 155h4v2h-4zM402 157h2v2h-2zM410 169h2v2h-2zM402 171h2v2h-2zM408 171h2v2h-2zM406 175h2v2h-2zM414 175h4v2h-4zM402 177h2v2h-2zM404 179h2v2h-2zM414 179h2v2h-2zM406 183h2v2h-2zM496 187h2v2h-2zM490 189h2v2h-2zM482 193h2v2h-2zM486 193h2v2h-2zM482 195h2v2h-2zM484 199h2v2h-2zM484 201h2v2h-2z"/><path fill="#3c2a90" d="M412 139h2v2h-2z"/><path fill="#423090" d="M414 139h2v2h-2z"/><path fill="#5454b4" d="M424 139h2v2h-2zM468 139h2v2h-2zM424 141h2v2h-2zM468 157h4v2h-4zM490 177h2v2h-2zM436 199h2v2h-2zM434 201h2v2h-2zM474 201h2v2h-2z"/><path fill="#c6c6d8" d="M428 139h2v2h-2zM486 167h2v2h-2zM474 185h2v2h-2z"/><path fill="#eae4f6" d="M432 139h2v2h-2z"/><path fill="#ccc6f0" d="M434 139h2v2h-2z"/><path fill="#ccc0de" d="M440 139h2v2h-2z"/><path fill="#dea8a8" d="M442 139h2v2h-2zM474 145h2v2h-2zM428 151h2v2h-2zM470 171h2v2h-2z"/><path fill="#f0b4a8" d="M444 139h2v2h-2z"/><path fill="#f0c0c0" d="M448 139h2v2h-2zM496 151h2v2h-2z"/><path fill="#eadee4" d="M450 139h2v2h-2zM478 145h2v2h-2zM424 153h2v2h-2zM424 181h2v2h-2zM430 183h2v2h-2z"/><path fill="#e4d8e4" d="M452 139h2v2h-2zM432 143h2v2h-2zM428 149h2v2h-2zM424 183h2v2h-2z"/><path fill="#e4d2d8" d="M454 139h2v2h-2zM446 143h2v2h-2z"/><path fill="#dec6cc" d="M456 139h2v2h-2zM432 145h2v2h-2zM444 145h2v2h-2zM474 147h2v2h-2z"/><path fill="#b4a2c0" d="M458 139h2v2h-2z"/><path fill="#6660ae" d="M460 139h2v2h-2z"/><path fill="#3c369c" d="M462 139h2v2h-2zM466 159h2v2h-2z"/><path fill="#3c3696" d="M466 139h2v2h-2z"/><path fill="#7878c0" d="M470 139h2v2h-2zM478 157h2v2h-2zM488 165h2v2h-2zM476 187h2v2h-2z"/><path fill="#fce4ea" d="M476 139h2v2h-2z"/><path fill="#f0cccc" d="M478 139h2v2h-2zM440 183h2v2h-2zM458 187h2v2h-2zM462 191h2v2h-2z"/><path fill="#d87e78" d="M480 139h2v2h-2zM422 167h2v2h-2zM422 169h2v2h-2z"/><path fill="#f06660" d="M482 139h2v2h-2zM482 143h2v2h-2zM496 143h2v2h-2z"/><path fill="#e49690" d="M486 139h2v2h-2zM492 139h2v2h-2zM432 179h2v2h-2z"/><path fill="#f0a89c" d="M488 139h2v2h-2z"/><path fill="#ea9c9c" d="M490 139h2v2h-2z"/><path fill="#f69c90" d="M494 139h2v2h-2z"/><path fill="#ea847e" d="M496 139h2v2h-2z"/><path fill="#e4726c" d="M498 139h2v2h-2z"/><path fill="#242496" d="M406 141h2v2h-2zM402 143h2v2h-2zM406 143h2v2h-2zM404 145h2v2h-2zM408 145h2v2h-2zM402 147h2v2h-2zM402 149h2v2h-2zM402 153h4v2h-4zM404 155h2v2h-2zM404 159h2v2h-2zM408 159h2v2h-2zM406 161h2v2h-2zM404 163h2v2h-2zM408 163h2v2h-2zM402 165h2v2h-2zM408 165h2v2h-2zM402 167h4v2h-4zM402 169h2v2h-2zM406 171h2v2h-2zM402 175h2v2h-2zM408 177h4v2h-4zM410 179h4v2h-4zM404 181h2v2h-2zM498 181h4v2h-4zM498 183h2v2h-2zM402 185h4v2h-4zM500 185h2v2h-2zM494 187h2v2h-2zM486 191h2v2h-2zM500 191h2v2h-2zM488 193h2v2h-2zM482 197h2v2h-2zM488 197h2v2h-2zM486 201h2v2h-2zM484 203h4v2h-4z"/><path fill="#242490" d="M408 141h2v2h-2zM408 143h2v2h-2zM402 145h2v2h-2zM410 145h2v2h-2zM406 147h4v2h-4zM408 149h2v2h-2zM402 151h10v2h-10zM408 153h4v2h-4zM402 155h2v2h-2zM406 155h2v2h-2zM404 157h2v2h-2zM408 157h4v2h-4zM402 159h2v2h-2zM406 159h2v2h-2zM402 161h4v2h-4zM408 161h2v2h-2zM406 163h2v2h-2zM406 165h2v2h-2zM406 167h4v2h-4zM402 173h2v2h-2zM406 173h2v2h-2zM414 173h2v2h-2zM404 175h2v2h-2zM412 175h2v2h-2zM404 177h4v2h-4zM414 177h4v2h-4zM406 179h2v2h-2zM416 179h2v2h-2zM402 181h2v2h-2zM406 181h4v2h-4zM402 183h2v2h-2zM494 183h2v2h-2zM500 183h2v2h-2zM498 185h2v2h-2zM498 187h2v2h-2zM494 189h4v2h-4zM484 191h2v2h-2zM444 193h2v2h-2zM484 193h2v2h-2zM500 193h2v2h-2zM444 195h6v2h-6zM480 195h2v2h-2zM484 195h6v2h-6zM480 197h2v2h-2zM486 197h2v2h-2zM488 199h2v2h-2zM482 201h2v2h-2zM488 203h2v2h-2zM488 205h2v2h-2z"/><path fill="#362484" d="M412 141h2v2h-2zM412 143h2v2h-2zM412 147h2v2h-2z"/><path fill="#54307e" d="M414 141h2v2h-2z"/><path fill="#423696" d="M416 141h2v2h-2z"/><path fill="#3c36a8" d="M418 141h2v2h-2z"/><path fill="#4848ae" d="M422 141h2v2h-2zM494 157h2v2h-2zM490 159h2v2h-2zM490 175h2v2h-2zM496 177h2v2h-2zM492 179h2v2h-2zM412 183h2v2h-2zM412 189h2v2h-2zM410 195h2v2h-2zM454 195h2v2h-2zM450 197h2v2h-2zM450 203h2v2h-2zM440 205h2v2h-2zM482 205h2v2h-2zM440 207h2v2h-2z"/><path fill="#8484cc" d="M426 141h2v2h-2z"/><path fill="#d8d2de" d="M430 141h2v2h-2zM482 165h2v2h-2zM434 191h2v2h-2z"/><path fill="#eae4f0" d="M432 141h2v2h-2zM416 159h2v2h-2zM480 173h2v2h-2zM480 181h2v2h-2zM432 185h2v2h-2zM462 193h2v2h-2zM468 201h2v2h-2zM464 205h2v2h-2zM466 207h2v2h-2z"/><path fill="#d8d2f0" d="M434 141h2v2h-2z"/><path fill="#d8ccd8" d="M442 141h2v2h-2z"/><path fill="#e4c0c0" d="M444 141h2v2h-2z"/><path fill="#eabab4" d="M446 141h2v2h-2z"/><path fill="#f6cccc" d="M448 141h2v2h-2zM420 157h2v2h-2zM430 181h2v2h-2z"/><path fill="#d8c6cc" d="M452 141h2v2h-2zM430 149h2v2h-2zM440 185h2v2h-2z"/><path fill="#d8a2a8" d="M456 141h2v2h-2z"/><path fill="#b49cba" d="M458 141h2v2h-2z"/><path fill="#847ec6" d="M460 141h2v2h-2z"/><path fill="#665aae" d="M462 141h2v2h-2z"/><path fill="#665496" d="M464 141h2v2h-2z"/><path fill="#665aa8" d="M466 141h2v2h-2z"/><path fill="#786cae" d="M468 141h2v2h-2z"/><path fill="#908aba" d="M470 141h2v2h-2z"/><path fill="#ccbacc" d="M472 141h2v2h-2z"/><path fill="#ead2d8" d="M474 141h2v2h-2z"/><path fill="#f0d8d8" d="M476 141h2v2h-2zM474 177h2v2h-2z"/><path fill="#e4cccc" d="M478 141h2v2h-2zM420 159h2v2h-2zM428 181h2v2h-2z"/><path fill="#de9090" d="M480 141h2v2h-2zM488 149h2v2h-2z"/><path fill="#de605a" d="M482 141h2v2h-2zM468 181h2v2h-2z"/><path fill="#d8605a" d="M484 141h2v2h-2z"/><path fill="#ea7e78" d="M486 141h2v2h-2zM432 177h2v2h-2z"/><path fill="#f07872" d="M488 141h2v2h-2z"/><path fill="#d85448" d="M492 141h2v2h-2z"/><path fill="#d84842" d="M494 141h2v2h-2zM458 153h2v2h-2zM458 155h2v2h-2zM468 173h2v2h-2z"/><path fill="#de423c" d="M496 141h2v2h-2z"/><path fill="#e44842" d="M498 141h2v2h-2zM426 163h2v2h-2zM452 177h2v2h-2zM468 179h2v2h-2z"/><path fill="#6c3072" d="M414 143h2v2h-2z"/><path fill="#543690" d="M416 143h2v2h-2z"/><path fill="#42369c" d="M418 143h2v2h-2z"/><path fill="#423ca8" d="M420 143h2v2h-2z"/><path fill="#4e48a8" d="M422 143h2v2h-2z"/><path fill="#5454a8" d="M424 143h2v2h-2zM472 155h2v2h-2zM476 155h2v2h-2zM480 155h2v2h-2zM480 159h2v2h-2zM456 193h2v2h-2zM474 197h2v2h-2z"/><path fill="#ded8ea" d="M428 143h2v2h-2zM500 153h2v2h-2zM478 167h2v2h-2z"/><path fill="#d8ccde" d="M434 143h2v2h-2z"/><path fill="#c6c0e4" d="M436 143h2v2h-2zM460 193h2v2h-2z"/><path fill="#babae4" d="M438 143h2v2h-2zM486 163h2v2h-2z"/><path fill="#f0e4f0" d="M444 143h2v2h-2zM430 147h2v2h-2zM464 193h2v2h-2z"/><path fill="#f0d2d2" d="M448 143h2v2h-2z"/><path fill="#e4c6cc" d="M450 143h2v2h-2zM434 145h2v2h-2zM446 145h2v2h-2z"/><path fill="#f6a8a8" d="M452 143h2v2h-2z"/><path fill="#ea6c66" d="M454 143h2v2h-2z"/><path fill="#e47e84" d="M456 143h2v2h-2z"/><path fill="#cca8c0" d="M458 143h2v2h-2z"/><path fill="#b4a8d2" d="M460 143h2v2h-2z"/><path fill="#c6a2b4" d="M462 143h2v2h-2z"/><path fill="#d89ca8" d="M464 143h2v2h-2z"/><path fill="#c69ca8" d="M466 143h2v2h-2zM420 167h2v2h-2z"/><path fill="#dec0cc" d="M468 143h2v2h-2z"/><path fill="#ccb4c0" d="M470 143h2v2h-2z"/><path fill="#d8aeb4" d="M472 143h2v2h-2z"/><path fill="#f6bab4" d="M474 143h2v2h-2z"/><path fill="#d8b4b4" d="M476 143h2v2h-2zM476 145h2v2h-2zM470 169h2v2h-2z"/><path fill="#d8a8ae" d="M480 143h2v2h-2zM432 147h2v2h-2z"/><path fill="#d83c36" d="M484 143h2v2h-2zM488 145h2v2h-2zM426 165h2v2h-2z"/><path fill="#d23c36" d="M486 143h2v2h-2zM460 151h2v2h-2z"/><path fill="#f04236" d="M488 143h2v2h-2z"/><path fill="#d83630" d="M490 143h2v2h-2z"/><path fill="#f0423c" d="M492 143h2v2h-2z"/><path fill="#ea4842" d="M494 143h2v2h-2zM424 167h2v2h-2zM468 177h2v2h-2z"/><path fill="#f68a84" d="M498 143h2v2h-2z"/><path fill="#3c248a" d="M412 145h2v2h-2z"/><path fill="#722a60" d="M414 145h2v2h-2z"/><path fill="#7e3c78" d="M416 145h2v2h-2z"/><path fill="#5a429c" d="M418 145h2v2h-2z"/><path fill="#544896" d="M420 145h2v2h-2z"/><path fill="#6c66b4" d="M424 145h2v2h-2z"/><path fill="#9690cc" d="M426 145h2v2h-2z"/><path fill="#d2ccde" d="M428 145h2v2h-2zM486 175h2v2h-2zM470 189h2v2h-2zM470 201h2v2h-2z"/><path fill="#ccb4cc" d="M436 145h2v2h-2z"/><path fill="#a896c0" d="M438 145h2v2h-2z"/><path fill="#a89cc0" d="M440 145h2v2h-2zM472 167h2v2h-2z"/><path fill="#c6b4cc" d="M442 145h2v2h-2z"/><path fill="#debaba" d="M448 145h2v2h-2z"/><path fill="#f0c0ba" d="M450 145h2v2h-2z"/><path fill="#e45454" d="M454 145h2v2h-2zM448 147h2v2h-2z"/><path fill="#e46c72" d="M456 145h2v2h-2z"/><path fill="#ba8aa2" d="M458 145h2v2h-2z"/><path fill="#c6a8c0" d="M460 145h2v2h-2zM416 153h2v2h-2z"/><path fill="#e4aeba" d="M462 145h2v2h-2z"/><path fill="#f0b4ae" d="M464 145h2v2h-2z"/><path fill="#eaccd2" d="M468 145h2v2h-2zM466 147h2v2h-2zM422 153h2v2h-2zM422 155h2v2h-2z"/><path fill="#f0d2d8" d="M470 145h2v2h-2zM442 183h2v2h-2zM472 183h2v2h-2z"/><path fill="#f6c6c6" d="M472 145h2v2h-2zM464 191h2v2h-2z"/><path fill="#f0c0cc" d="M480 145h2v2h-2z"/><path fill="#e4605a" d="M482 145h2v2h-2zM424 171h2v2h-2z"/><path fill="#de3630" d="M484 145h2v2h-2z"/><path fill="#ea3c30" d="M486 145h2v2h-2z"/><path fill="#de5448" d="M490 145h2v2h-2zM462 185h2v2h-2z"/><path fill="#de6c66" d="M492 145h2v2h-2z"/><path fill="#ea908a" d="M494 145h2v2h-2z"/><path fill="#e49c90" d="M496 145h2v2h-2z"/><path fill="#e49c96" d="M498 145h2v2h-2zM492 147h2v2h-2zM468 185h2v2h-2z"/><path fill="#2a2496" d="M410 147h2v2h-2z"/><path fill="#7e2a60" d="M414 147h2v2h-2z"/><path fill="#9c365a" d="M416 147h2v2h-2z"/><path fill="#78487e" d="M418 147h2v2h-2z"/><path fill="#84609c" d="M420 147h2v2h-2z"/><path fill="#8a78ae" d="M422 147h2v2h-2z"/><path fill="#8478b4" d="M424 147h2v2h-2z"/><path fill="#a29cc6" d="M426 147h2v2h-2zM448 185h2v2h-2z"/><path fill="#d8d2e4" d="M428 147h2v2h-2zM476 185h2v2h-2z"/><path fill="#cc8a96" d="M436 147h2v2h-2z"/><path fill="#ae7296" d="M438 147h2v2h-2z"/><path fill="#a86c90" d="M440 147h2v2h-2z"/><path fill="#cc667e" d="M442 147h2v2h-2z"/><path fill="#ea6060" d="M444 147h2v2h-2zM460 153h2v2h-2z"/><path fill="#e45a5a" d="M446 147h2v2h-2zM460 167h2v2h-2z"/><path fill="#ea5454" d="M450 147h2v2h-2z"/><path fill="#f03c36" d="M452 147h2v2h-2z"/><path fill="#de3024" d="M454 147h2v2h-2z"/><path fill="#e43c3c" d="M456 147h2v2h-2zM458 161h2v2h-2zM424 169h2v2h-2z"/><path fill="#e44e54" d="M458 147h2v2h-2z"/><path fill="#d25a60" d="M460 147h2v2h-2z"/><path fill="#de969c" d="M462 147h2v2h-2z"/><path fill="#e4baba" d="M464 147h2v2h-2z"/><path fill="#d2c6de" d="M468 147h2v2h-2zM466 151h2v2h-2z"/><path fill="#d8cce4" d="M470 147h2v2h-2z"/><path fill="#ead8e4" d="M472 147h2v2h-2z"/><path fill="#d2c6cc" d="M476 147h2v2h-2zM444 183h2v2h-2z"/><path fill="#c0c0d8" d="M478 147h2v2h-2zM492 155h2v2h-2zM484 157h2v2h-2zM482 183h2v2h-2zM436 191h2v2h-2zM472 193h2v2h-2z"/><path fill="#c0a8ba" d="M480 147h2v2h-2z"/><path fill="#de6066" d="M482 147h2v2h-2z"/><path fill="#ea3c36" d="M484 147h2v2h-2zM430 175h2v2h-2z"/><path fill="#f04e48" d="M486 147h2v2h-2z"/><path fill="#de786c" d="M488 147h2v2h-2z"/><path fill="#f69c96" d="M490 147h2v2h-2zM430 177h2v2h-2z"/><path fill="#30247e" d="M412 149h2v2h-2z"/><path fill="#7e3060" d="M414 149h2v2h-2z"/><path fill="#c03c4e" d="M416 149h2v2h-2z"/><path fill="#ae6078" d="M418 149h2v2h-2z"/><path fill="#a87896" d="M420 149h2v2h-2z"/><path fill="#c09cba" d="M422 149h2v2h-2z"/><path fill="#c0aed2" d="M424 149h2v2h-2z"/><path fill="#c0b4cc" d="M426 149h2v2h-2z"/><path fill="#de848a" d="M432 149h2v2h-2z"/><path fill="#e46666" d="M434 149h2v2h-2z"/><path fill="#cc5454" d="M436 149h2v2h-2z"/><path fill="#cc485a" d="M438 149h2v2h-2z"/><path fill="#cc4254" d="M440 149h2v2h-2z"/><path fill="#c62a30" d="M442 149h2v2h-2z"/><path fill="#ea241e" d="M444 149h2v2h-2z"/><path fill="#de1e18" d="M446 149h2v2h-2z"/><path fill="#ea1e18" d="M448 149h4v2h-4zM456 159h2v2h-2zM456 161h2v2h-2zM426 169h2v2h-2zM458 169h2v2h-2zM466 173h2v2h-2zM434 175h2v2h-2zM450 175h2v2h-2zM466 179h2v2h-2z"/><path fill="#d81812" d="M452 149h2v2h-2zM444 151h2v2h-2zM452 151h2v2h-2zM440 153h2v2h-2zM436 155h2v2h-2zM442 155h4v2h-4zM450 155h2v2h-2zM454 155h2v2h-2zM430 157h2v2h-2zM436 157h2v2h-2zM452 157h2v2h-2zM434 159h2v2h-2zM448 159h2v2h-2zM436 161h2v2h-2zM448 161h2v2h-2zM436 163h2v2h-2zM440 163h2v2h-2zM446 163h2v2h-2zM430 165h2v2h-2zM444 165h2v2h-2zM450 165h2v2h-2zM432 167h2v2h-2zM442 167h4v2h-4zM436 169h2v2h-2zM442 169h2v2h-2zM446 169h2v2h-2zM452 169h2v2h-2zM428 171h2v2h-2zM432 171h2v2h-2zM442 171h2v2h-2zM446 171h2v2h-2zM450 171h2v2h-2zM458 171h2v2h-2zM436 173h2v2h-2zM440 173h4v2h-4zM448 175h2v2h-2zM454 175h2v2h-2zM464 175h2v2h-2zM456 177h2v2h-2z"/><path fill="#e41812" d="M454 149h2v2h-2zM448 151h2v2h-2zM448 153h2v2h-2zM452 153h2v2h-2zM440 155h2v2h-2zM448 155h2v2h-2zM434 157h2v2h-2zM440 157h2v2h-2zM444 157h2v2h-2zM436 159h2v2h-2zM444 159h2v2h-2zM452 159h2v2h-2zM440 161h4v2h-4zM450 161h2v2h-2zM444 163h2v2h-2zM450 163h2v2h-2zM454 163h2v2h-2zM454 165h2v2h-2zM428 167h2v2h-2zM430 169h2v2h-2zM448 169h2v2h-2zM434 171h2v2h-2zM438 171h2v2h-2zM452 171h2v2h-2zM434 173h2v2h-2zM438 173h2v2h-2zM458 173h2v2h-2zM458 175h2v2h-2zM464 177h2v2h-2z"/><path fill="#e41e18" d="M456 149h2v2h-2zM456 179h4v2h-4z"/><path fill="#ea2418" d="M458 149h2v2h-2zM428 163h2v2h-2z"/><path fill="#d83030" d="M460 149h2v2h-2z"/><path fill="#f09c9c" d="M462 149h2v2h-2zM422 171h2v2h-2z"/><path fill="#fcdede" d="M464 149h2v2h-2z"/><path fill="#deccde" d="M466 149h2v2h-2zM452 185h2v2h-2z"/><path fill="#c0bad8" d="M468 149h2v2h-2zM440 187h2v2h-2z"/><path fill="#b4aed2" d="M470 149h2v2h-2z"/><path fill="#d2d2e4" d="M472 149h2v2h-2zM476 167h2v2h-2zM470 205h2v2h-2z"/><path fill="#c0bade" d="M478 149h2v2h-2z"/><path fill="#baa8cc" d="M480 149h2v2h-2z"/><path fill="#cc6066" d="M482 149h2v2h-2z"/><path fill="#e4423c" d="M484 149h2v2h-2zM434 177h2v2h-2zM450 177h2v2h-2zM460 181h2v2h-2zM466 183h2v2h-2z"/><path fill="#ea605a" d="M486 149h2v2h-2z"/><path fill="#e4a8a2" d="M500 149h2v2h-2zM472 175h2v2h-2zM472 179h2v2h-2z"/><path fill="#362a84" d="M412 151h2v2h-2z"/><path fill="#7e4272" d="M414 151h2v2h-2z"/><path fill="#ba606c" d="M416 151h2v2h-2z"/><path fill="#d88490" d="M418 151h2v2h-2z"/><path fill="#dea2a8" d="M420 151h2v2h-2z"/><path fill="#debac0" d="M422 151h2v2h-2zM460 163h2v2h-2z"/><path fill="#e4ccd8" d="M424 151h2v2h-2zM460 191h2v2h-2z"/><path fill="#d8bac6" d="M426 151h2v2h-2zM452 183h2v2h-2z"/><path fill="#f05a5a" d="M432 151h2v2h-2zM426 175h2v2h-2z"/><path fill="#d2302a" d="M434 151h2v2h-2z"/><path fill="#de2a2a" d="M436 151h2v2h-2z"/><path fill="#cc2424" d="M438 151h2v2h-2z"/><path fill="#de2424" d="M440 151h2v2h-2zM448 177h2v2h-2z"/><path fill="#d81e18" d="M442 151h2v2h-2zM456 163h2v2h-2zM460 169h2v2h-2zM428 173h2v2h-2zM464 183h2v2h-2z"/><path fill="#de1812" d="M446 151h2v2h-2zM434 153h6v2h-6zM442 153h2v2h-2zM446 153h2v2h-2zM450 153h2v2h-2zM430 155h2v2h-2zM434 155h2v2h-2zM446 155h2v2h-2zM430 159h4v2h-4zM440 159h2v2h-2zM434 161h2v2h-2zM452 161h2v2h-2zM430 163h2v2h-2zM448 163h2v2h-2zM434 165h2v2h-2zM448 165h2v2h-2zM430 167h2v2h-2zM434 167h2v2h-2zM438 167h2v2h-2zM446 167h4v2h-4zM444 169h2v2h-2zM440 171h2v2h-2zM432 173h2v2h-2zM448 173h2v2h-2zM454 173h4v2h-4zM462 173h2v2h-2zM438 175h4v2h-4zM462 177h2v2h-2z"/><path fill="#ea1812" d="M450 151h2v2h-2zM454 151h2v2h-2zM432 155h2v2h-2zM438 155h2v2h-2zM432 157h2v2h-2zM442 159h2v2h-2zM450 159h2v2h-2zM454 159h2v2h-2zM430 161h2v2h-2zM438 161h2v2h-2zM444 161h4v2h-4zM432 165h2v2h-2zM438 165h2v2h-2zM436 167h2v2h-2zM450 167h4v2h-4zM428 169h2v2h-2zM432 169h2v2h-2zM436 171h2v2h-2zM448 171h2v2h-2zM456 171h2v2h-2zM450 173h2v2h-2zM456 175h2v2h-2zM458 177h2v2h-2zM464 179h2v2h-2z"/><path fill="#d21e18" d="M456 151h2v2h-2zM456 157h2v2h-2zM428 165h2v2h-2zM456 165h2v2h-2z"/><path fill="#d82a24" d="M458 151h2v2h-2zM428 157h2v2h-2z"/><path fill="#d29096" d="M462 151h2v2h-2z"/><path fill="#e4ccde" d="M464 151h2v2h-2z"/><path fill="#a2a2cc" d="M468 151h2v2h-2zM438 193h2v2h-2z"/><path fill="#a29ccc" d="M470 151h2v2h-2z"/><path fill="#aea8d2" d="M472 151h2v2h-2z"/><path fill="#bab4de" d="M474 151h2v2h-2z"/><path fill="#aeaede" d="M476 151h2v2h-2z"/><path fill="#9c9cd2" d="M478 151h2v2h-2z"/><path fill="#9c90c0" d="M480 151h2v2h-2z"/><path fill="#c07284" d="M482 151h2v2h-2z"/><path fill="#de7272" d="M484 151h2v2h-2z"/><path fill="#de8484" d="M486 151h2v2h-2z"/><path fill="#eac0ba" d="M490 151h2v2h-2zM460 187h2v2h-2z"/><path fill="#deb4b4" d="M492 151h2v2h-2z"/><path fill="#e4b4b4" d="M494 151h2v2h-2zM466 189h2v2h-2z"/><path fill="#f6c6c0" d="M500 151h2v2h-2z"/><path fill="#363696" d="M412 153h2v2h-2zM500 177h2v2h-2zM418 179h2v2h-2zM410 183h2v2h-2zM444 189h4v2h-4z"/><path fill="#9084c0" d="M414 153h2v2h-2z"/><path fill="#d2a2ae" d="M418 153h2v2h-2z"/><path fill="#f0b4b4" d="M420 153h2v2h-2zM470 185h2v2h-2z"/><path fill="#eaaeae" d="M426 153h2v2h-2zM424 175h2v2h-2z"/><path fill="#d23c3c" d="M428 153h2v2h-2z"/><path fill="#ea302a" d="M430 153h2v2h-2zM432 175h2v2h-2zM464 185h2v2h-2z"/><path fill="#e4241e" d="M432 153h2v2h-2z"/><path fill="#d21812" d="M444 153h2v2h-2zM452 155h2v2h-2zM438 157h2v2h-2zM446 157h6v2h-6zM454 157h2v2h-2zM438 159h2v2h-2zM446 159h2v2h-2zM432 161h2v2h-2zM454 161h2v2h-2zM442 163h2v2h-2zM452 163h2v2h-2zM442 165h2v2h-2zM446 165h2v2h-2zM452 165h2v2h-2zM434 169h2v2h-2zM440 169h2v2h-2zM450 169h2v2h-2zM456 169h2v2h-2zM430 171h2v2h-2zM444 171h2v2h-2zM430 173h2v2h-2zM460 173h2v2h-2zM460 175h4v2h-4zM466 175h2v2h-2zM460 177h2v2h-2zM462 179h2v2h-2zM464 181h2v2h-2z"/><path fill="#f01812" d="M454 153h2v2h-2zM442 157h2v2h-2zM432 163h4v2h-4zM438 163h2v2h-2zM436 165h2v2h-2zM440 165h2v2h-2zM440 167h2v2h-2zM454 167h2v2h-2zM438 169h2v2h-2zM454 169h2v2h-2zM454 171h2v2h-2zM460 171h2v2h-2zM452 173h2v2h-2z"/><path fill="#f03024" d="M456 153h2v2h-2z"/><path fill="#cc9cae" d="M462 153h2v2h-2z"/><path fill="#aea8c6" d="M464 153h2v2h-2zM418 183h2v2h-2z"/><path fill="#a8a8d2" d="M466 153h2v2h-2zM476 163h2v2h-2zM440 189h2v2h-2z"/><path fill="#8a8ac0" d="M468 153h2v2h-2zM478 159h2v2h-2zM442 187h2v2h-2z"/><path fill="#7e7eba" d="M470 153h2v2h-2zM474 159h2v2h-2zM488 161h2v2h-2z"/><path fill="#6c6cba" d="M472 153h2v2h-2zM450 187h2v2h-2zM452 191h2v2h-2z"/><path fill="#6060c0" d="M474 153h2v2h-2z"/><path fill="#5a5aae" d="M476 153h2v2h-2zM482 187h2v2h-2zM456 195h2v2h-2z"/><path fill="#5a5aba" d="M478 153h2v2h-2z"/><path fill="#6666ba" d="M480 153h2v2h-2zM482 159h2v2h-2zM448 187h2v2h-2zM440 193h2v2h-2z"/><path fill="#ae9cc0" d="M482 153h2v2h-2z"/><path fill="#f0d8e4" d="M484 153h2v2h-2z"/><path fill="#ead8de" d="M486 153h2v2h-2z"/><path fill="#eae4ea" d="M496 153h2v2h-2zM476 175h2v2h-2zM428 183h2v2h-2zM436 185h2v2h-2z"/><path fill="#eadef0" d="M498 153h2v2h-2z"/><path fill="#363690" d="M412 155h2v2h-2z"/><path fill="#8a84ba" d="M414 155h2v2h-2z"/><path fill="#baa8c6" d="M416 155h2v2h-2z"/><path fill="#d8b4ba" d="M418 155h2v2h-2z"/><path fill="#f0bab4" d="M420 155h2v2h-2zM462 189h2v2h-2z"/><path fill="#eaa2a2" d="M426 155h2v2h-2z"/><path fill="#d8302a" d="M428 155h2v2h-2z"/><path fill="#ea2a24" d="M456 155h2v2h-2z"/><path fill="#de6060" d="M460 155h2v2h-2z"/><path fill="#c08a9c" d="M462 155h2v2h-2z"/><path fill="#a8a2c6" d="M464 155h2v2h-2zM450 185h2v2h-2z"/><path fill="#9090c0" d="M466 155h2v2h-2zM496 155h2v2h-2zM472 197h2v2h-2zM454 203h2v2h-2z"/><path fill="#7e7ec0" d="M468 155h2v2h-2zM486 185h2v2h-2zM416 189h2v2h-2zM472 203h2v2h-2zM472 207h2v2h-2z"/><path fill="#7272b4" d="M470 155h2v2h-2z"/><path fill="#4e4ea2" d="M474 155h2v2h-2z"/><path fill="#9c9cc0" d="M482 155h2v2h-2z"/><path fill="#e4deea" d="M486 155h2v2h-2zM486 169h2v2h-2zM484 175h2v2h-2zM436 187h2v2h-2zM470 195h2v2h-2z"/><path fill="#c6c0d8" d="M490 155h2v2h-2zM486 159h2v2h-2zM456 189h2v2h-2z"/><path fill="#6666ae" d="M500 155h2v2h-2z"/><path fill="#48489c" d="M412 157h2v2h-2zM416 169h2v2h-2zM414 183h2v2h-2zM438 203h2v2h-2z"/><path fill="#a29cc0" d="M414 157h2v2h-2z"/><path fill="#ded2e4" d="M416 157h2v2h-2zM442 185h2v2h-2z"/><path fill="#f6c0c0" d="M424 157h2v2h-2z"/><path fill="#de847e" d="M426 157h2v2h-2zM460 183h2v2h-2z"/><path fill="#e43c36" d="M458 157h2v2h-2z"/><path fill="#f06054" d="M460 157h2v2h-2z"/><path fill="#c6666c" d="M462 157h2v2h-2z"/><path fill="#9072ae" d="M464 157h2v2h-2z"/><path fill="#4e4eb4" d="M472 157h2v2h-2zM412 191h2v2h-2zM412 193h2v2h-2zM438 199h4v2h-4zM438 201h2v2h-2zM436 205h2v2h-2zM478 205h2v2h-2zM430 207h2v2h-2zM434 207h6v2h-6zM476 207h4v2h-4z"/><path fill="#6c6cae" d="M474 157h2v2h-2zM420 179h2v2h-2z"/><path fill="#6060ba" d="M480 157h2v2h-2zM474 191h2v2h-2zM414 195h2v2h-2z"/><path fill="#7272ba" d="M490 157h2v2h-2zM416 183h2v2h-2z"/><path fill="#4242ae" d="M496 157h2v2h-2zM490 165h2v2h-2zM448 199h2v2h-2zM442 205h2v2h-2z"/><path fill="#2a2a90" d="M410 159h2v2h-2zM418 175h2v2h-2zM496 181h2v2h-2zM492 183h2v2h-2zM404 187h2v2h-2zM484 189h2v2h-2zM494 191h2v2h-2zM448 193h2v2h-2zM480 193h2v2h-2zM490 193h2v2h-2zM442 195h2v2h-2zM480 199h2v2h-2zM484 205h2v2h-2z"/><path fill="#5454a2" d="M412 159h2v2h-2z"/><path fill="#aeaecc" d="M414 159h2v2h-2z"/><path fill="#ead8d8" d="M418 159h2v2h-2zM426 181h2v2h-2z"/><path fill="#e4aea8" d="M422 159h2v2h-2zM456 183h2v2h-2z"/><path fill="#ea7872" d="M426 159h2v2h-2z"/><path fill="#e42a24" d="M428 159h2v2h-2zM426 171h2v2h-2zM466 181h2v2h-2z"/><path fill="#de302a" d="M458 159h2v2h-2z"/><path fill="#f05a54" d="M460 159h2v2h-2z"/><path fill="#d86060" d="M462 159h2v2h-2zM468 169h2v2h-2z"/><path fill="#6c4284" d="M464 159h2v2h-2z"/><path fill="#303096" d="M468 159h2v2h-2zM494 159h2v2h-2zM410 161h2v2h-2zM470 161h2v2h-2zM498 161h2v2h-2zM468 163h2v2h-2zM496 165h4v2h-4zM498 169h4v2h-4zM494 171h2v2h-2zM500 171h2v2h-2zM492 175h2v2h-2zM500 175h2v2h-2zM498 179h2v2h-2zM412 181h4v2h-4zM490 183h2v2h-2zM496 193h2v2h-2zM450 195h2v2h-2zM478 195h2v2h-2zM496 195h2v2h-2zM500 195h2v2h-2zM496 197h2v2h-2zM446 199h2v2h-2zM490 199h2v2h-2zM490 201h2v2h-2zM498 203h4v2h-4zM444 205h2v2h-2z"/><path fill="#aeaed8" d="M476 159h2v2h-2zM488 171h2v2h-2zM488 173h2v2h-2z"/><path fill="#8a84c0" d="M488 159h2v2h-2z"/><path fill="#3636a8" d="M498 159h2v2h-2zM468 161h2v2h-2zM494 167h2v2h-2zM500 167h2v2h-2zM494 169h2v2h-2zM492 171h2v2h-2zM496 175h2v2h-2zM448 189h2v2h-2zM480 189h2v2h-2zM478 191h2v2h-2zM494 193h2v2h-2zM498 195h2v2h-2zM492 197h2v2h-2zM492 199h2v2h-2zM446 201h2v2h-2zM498 201h2v2h-2zM444 203h2v2h-2zM492 203h2v2h-2zM492 205h4v2h-4zM498 205h2v2h-2z"/><path fill="#5a5aa8" d="M412 161h2v2h-2z"/><path fill="#aea8cc" d="M414 161h2v2h-2z"/><path fill="#deccd2" d="M418 161h2v2h-2z"/><path fill="#f6dede" d="M420 161h2v2h-2z"/><path fill="#d8847e" d="M424 161h2v2h-2z"/><path fill="#f66c66" d="M426 161h2v2h-2z"/><path fill="#d8241e" d="M428 161h2v2h-2zM464 171h2v2h-2zM452 175h2v2h-2zM454 177h2v2h-2z"/><path fill="#f0847e" d="M460 161h2v2h-2z"/><path fill="#cc7884" d="M462 161h2v2h-2z"/><path fill="#6c4e96" d="M464 161h2v2h-2z"/><path fill="#8a8ac6" d="M474 161h2v2h-2z"/><path fill="#a2a2d2" d="M478 161h2v2h-2zM472 191h2v2h-2z"/><path fill="#c6c6e4" d="M486 161h2v2h-2zM478 163h2v2h-2z"/><path fill="#3636ae" d="M492 161h2v2h-2z"/><path fill="#6c6cb4" d="M412 163h2v2h-2zM416 167h2v2h-2zM488 181h2v2h-2zM444 187h2v2h-2zM478 187h2v2h-2zM438 197h2v2h-2z"/><path fill="#b4b4e4" d="M414 163h2v2h-2zM488 175h2v2h-2z"/><path fill="#ccc6e4" d="M416 163h2v2h-2zM474 167h2v2h-2z"/><path fill="#f6e4ea" d="M420 163h2v2h-2z"/><path fill="#f69690" d="M422 163h2v2h-2z"/><path fill="#f66c60" d="M424 163h2v2h-2z"/><path fill="#de5454" d="M458 163h2v2h-2zM458 165h2v2h-2z"/><path fill="#d8c6d8" d="M462 163h2v2h-2zM456 187h2v2h-2z"/><path fill="#726cba" d="M464 163h2v2h-2z"/><path fill="#8484ba" d="M474 163h2v2h-2zM436 197h2v2h-2z"/><path fill="#e4def6" d="M482 163h2v2h-2z"/><path fill="#d2ccf0" d="M484 163h2v2h-2z"/><path fill="#7878ba" d="M488 163h2v2h-2zM416 187h2v2h-2z"/><path fill="#3c3c9c" d="M490 163h2v2h-2zM494 177h2v2h-2zM416 181h2v2h-2zM492 181h2v2h-2zM408 185h2v2h-2zM476 191h2v2h-2zM442 199h2v2h-2zM448 201h2v2h-2zM442 203h2v2h-2zM448 203h2v2h-2zM448 207h2v2h-2z"/><path fill="#3030a2" d="M496 163h4v2h-4zM496 171h2v2h-2zM494 173h2v2h-2zM482 189h2v2h-2zM480 191h2v2h-2zM478 193h2v2h-2zM500 197h2v2h-2zM500 199h2v2h-2zM492 201h4v2h-4zM500 201h2v2h-2zM496 205h2v2h-2z"/><path fill="#c6c0d2" d="M418 165h2v2h-2z"/><path fill="#d8c0cc" d="M420 165h2v2h-2z"/><path fill="#e48a84" d="M422 165h2v2h-2z"/><path fill="#e45a54" d="M424 165h2v2h-2zM434 179h2v2h-2z"/><path fill="#dec0d2" d="M462 165h2v2h-2z"/><path fill="#7866a8" d="M464 165h2v2h-2z"/><path fill="#483690" d="M466 165h2v2h-2z"/><path fill="#423690" d="M468 165h2v2h-2z"/><path fill="#4842a2" d="M470 165h2v2h-2z"/><path fill="#9696d2" d="M474 165h2v2h-2z"/><path fill="#c6c0ea" d="M476 165h2v2h-2z"/><path fill="#d2d2ea" d="M478 165h2v2h-2z"/><path fill="#d8d8e4" d="M480 165h2v2h-2zM478 171h2v2h-2zM470 193h2v2h-2z"/><path fill="#bab4e4" d="M486 165h2v2h-2z"/><path fill="#2a2a9c" d="M410 167h2v2h-2zM416 173h2v2h-2z"/><path fill="#6060b4" d="M414 167h2v2h-2z"/><path fill="#9084ba" d="M418 167h2v2h-2z"/><path fill="#f02a24" d="M426 167h2v2h-2z"/><path fill="#e41818" d="M456 167h2v2h-2z"/><path fill="#d23636" d="M458 167h2v2h-2z"/><path fill="#de5a5a" d="M462 167h2v2h-2z"/><path fill="#ba4254" d="M464 167h2v2h-2z"/><path fill="#a23654" d="M466 167h2v2h-2z"/><path fill="#ae5a7e" d="M468 167h2v2h-2z"/><path fill="#ba9cc0" d="M470 167h2v2h-2z"/><path fill="#f0f0fc" d="M480 167h2v2h-2zM480 169h2v2h-2zM482 171h2v2h-2zM486 171h2v2h-2zM482 179h2v2h-2zM466 195h2v2h-2zM468 203h2v2h-2z"/><path fill="#9c9cd8" d="M488 167h2v2h-2zM454 207h2v2h-2z"/><path fill="#3c3ca2" d="M414 169h2v2h-2zM498 177h2v2h-2zM406 187h2v2h-2zM450 191h2v2h-2zM452 193h2v2h-2zM442 201h2v2h-2zM448 205h2v2h-2zM442 207h2v2h-2z"/><path fill="#6c60a2" d="M418 169h2v2h-2z"/><path fill="#ba8a9c" d="M420 169h2v2h-2z"/><path fill="#f0241e" d="M462 169h2v2h-2z"/><path fill="#e4302a" d="M464 169h2v2h-2zM428 175h2v2h-2z"/><path fill="#e43630" d="M466 169h2v2h-2z"/><path fill="#f0d8de" d="M472 169h2v2h-2zM470 187h2v2h-2z"/><path fill="#ded2d8" d="M474 169h2v2h-2zM424 179h2v2h-2zM432 183h4v2h-4z"/><path fill="#f0f0f6" d="M478 169h2v2h-2zM484 171h2v2h-2zM480 179h2v2h-2zM432 187h2v2h-2zM430 189h2v2h-2zM466 197h2v2h-2zM462 199h4v2h-4zM466 205h4v2h-4z"/><path fill="#42429c" d="M490 169h2v2h-2zM410 185h2v2h-2zM408 187h2v2h-2zM440 201h2v2h-2zM478 201h2v2h-2zM436 203h2v2h-2zM480 203h2v2h-2zM480 205h2v2h-2z"/><path fill="#2a2a96" d="M412 171h2v2h-2zM410 181h2v2h-2zM406 185h2v2h-2zM492 185h2v2h-2zM490 187h4v2h-4zM490 191h2v2h-2z"/><path fill="#5a4e9c" d="M418 171h2v2h-2z"/><path fill="#a87e9c" d="M420 171h2v2h-2z"/><path fill="#ea1818" d="M462 171h2v2h-2zM464 173h2v2h-2z"/><path fill="#d83024" d="M466 171h2v2h-2z"/><path fill="#d85a54" d="M468 171h2v2h-2z"/><path fill="#fcd8d8" d="M472 171h2v2h-2z"/><path fill="#e4d8de" d="M474 171h2v2h-2z"/><path fill="#7e6cae" d="M420 173h2v2h-2z"/><path fill="#e4c0cc" d="M422 173h2v2h-2z"/><path fill="#e49696" d="M424 173h2v2h-2z"/><path fill="#f04842" d="M426 173h2v2h-2z"/><path fill="#c01212" d="M444 173h2v2h-2z"/><path fill="#c61812" d="M446 173h2v2h-2zM444 175h2v2h-2z"/><path fill="#f6a89c" d="M470 173h2v2h-2z"/><path fill="#eaaea8" d="M472 173h2v2h-2z"/><path fill="#fce4e4" d="M474 173h2v2h-2z"/><path fill="#f0eaf6" d="M486 173h2v2h-2zM460 205h2v2h-2z"/><path fill="#6660a2" d="M420 175h2v2h-2z"/><path fill="#c6b4c0" d="M422 175h2v2h-2z"/><path fill="#f01e18" d="M436 175h2v2h-2z"/><path fill="#ba1212" d="M442 175h2v2h-2zM444 177h2v2h-2z"/><path fill="#c01812" d="M446 175h2v2h-2z"/><path fill="#f04848" d="M468 175h2v2h-2z"/><path fill="#de908a" d="M470 175h2v2h-2zM466 187h2v2h-2z"/><path fill="#e4ccd2" d="M474 175h2v2h-2zM454 185h2v2h-2zM458 189h2v2h-2z"/><path fill="#6c66a8" d="M420 177h2v2h-2z"/><path fill="#c6bad2" d="M422 177h2v2h-2z"/><path fill="#d8c0c0" d="M424 177h2v2h-2z"/><path fill="#d22a24" d="M436 177h2v2h-2z"/><path fill="#d2241e" d="M438 177h2v2h-2z"/><path fill="#c61818" d="M440 177h4v2h-4z"/><path fill="#b41812" d="M446 177h2v2h-2z"/><path fill="#d81818" d="M466 177h2v2h-2z"/><path fill="#f6a29c" d="M470 177h2v2h-2z"/><path fill="#f6b4b4" d="M472 177h2v2h-2z"/><path fill="#9690c6" d="M488 177h2v2h-2z"/><path fill="#bab4d2" d="M422 179h2v2h-2z"/><path fill="#f6d8d8" d="M426 179h2v2h-2z"/><path fill="#e43c30" d="M436 179h2v2h-2z"/><path fill="#cc302a" d="M438 179h2v2h-2z"/><path fill="#c61e1e" d="M440 179h2v2h-2z"/><path fill="#b41818" d="M442 179h2v2h-2z"/><path fill="#c01e1e" d="M444 179h2v2h-2z"/><path fill="#c01818" d="M446 179h2v2h-2z"/><path fill="#c0302a" d="M448 179h2v2h-2z"/><path fill="#e4544e" d="M450 179h4v2h-4z"/><path fill="#e43030" d="M454 179h2v2h-2z"/><path fill="#de1818" d="M460 179h2v2h-2z"/><path fill="#f09c96" d="M470 179h2v2h-2z"/><path fill="#f6dee4" d="M474 179h2v2h-2z"/><path fill="#c0c0de" d="M484 179h2v2h-2z"/><path fill="#9090cc" d="M488 179h2v2h-2zM486 183h2v2h-2zM440 191h2v2h-2z"/><path fill="#8484b4" d="M420 181h2v2h-2z"/><path fill="#bab4cc" d="M422 181h2v2h-2z"/><path fill="#f6baba" d="M432 181h2v2h-2z"/><path fill="#e49090" d="M434 181h2v2h-2z"/><path fill="#f06c6c" d="M436 181h2v2h-2z"/><path fill="#ea6c6c" d="M438 181h2v2h-2zM454 181h2v2h-2z"/><path fill="#d25a5a" d="M440 181h2v2h-2z"/><path fill="#c04e54" d="M442 181h2v2h-2z"/><path fill="#ba5a60" d="M444 181h2v2h-2z"/><path fill="#c64e54" d="M446 181h2v2h-2z"/><path fill="#cc606c" d="M448 181h2v2h-2z"/><path fill="#d27278" d="M450 181h2v2h-2z"/><path fill="#e47878" d="M452 181h2v2h-2z"/><path fill="#de4842" d="M456 181h2v2h-2z"/><path fill="#ea4e48" d="M458 181h2v2h-2z"/><path fill="#de241e" d="M462 181h2v2h-2z"/><path fill="#deaeae" d="M472 181h2v2h-2z"/><path fill="#ccccde" d="M482 181h2v2h-2zM478 185h2v2h-2zM434 197h2v2h-2z"/><path fill="#b4b4d2" d="M484 181h2v2h-2z"/><path fill="#a8a8d8" d="M486 181h2v2h-2zM484 185h2v2h-2z"/><path fill="#303090" d="M494 181h2v2h-2zM444 191h2v2h-2zM442 193h2v2h-2zM478 197h2v2h-2z"/><path fill="#c0bacc" d="M420 183h2v2h-2z"/><path fill="#c6c0cc" d="M422 183h2v2h-2zM420 199h2v2h-2z"/><path fill="#fcd8de" d="M436 183h2v2h-2z"/><path fill="#f6d2d2" d="M438 183h2v2h-2z"/><path fill="#d8c0d2" d="M446 183h2v2h-2z"/><path fill="#c0b4d2" d="M448 183h2v2h-2z"/><path fill="#baa8c0" d="M450 183h2v2h-2z"/><path fill="#fcd2d2" d="M454 183h2v2h-2z"/><path fill="#ea423c" d="M462 183h2v2h-2z"/><path fill="#e4908a" d="M468 183h2v2h-2z"/><path fill="#eaeaf6" d="M480 183h2v2h-2z"/><path fill="#b4b4de" d="M484 183h2v2h-2zM454 189h2v2h-2zM438 191h2v2h-2z"/><path fill="#4e4eae" d="M414 185h2v2h-2zM414 187h2v2h-2zM414 191h2v2h-2zM442 191h2v2h-2zM474 199h2v2h-2zM476 201h2v2h-2zM452 203h2v2h-2zM478 203h2v2h-2zM432 205h2v2h-2zM438 205h2v2h-2zM474 205h2v2h-2zM450 207h4v2h-4zM480 207h2v2h-2z"/><path fill="#b4b4c6" d="M418 185h2v2h-2zM430 203h2v2h-2z"/><path fill="#c6c0c6" d="M420 185h2v2h-2zM422 189h4v2h-4zM418 197h2v2h-2zM424 197h2v2h-2zM424 199h2v2h-2z"/><path fill="#decccc" d="M438 185h2v2h-2z"/><path fill="#ded8f0" d="M444 185h2v2h-2zM480 185h2v2h-2z"/><path fill="#babad2" d="M446 185h2v2h-2z"/><path fill="#eac6c6" d="M456 185h2v2h-2z"/><path fill="#d24e48" d="M466 185h2v2h-2z"/><path fill="#d2c0c6" d="M472 185h2v2h-2z"/><path fill="#babac6" d="M418 187h2v2h-2z"/><path fill="#c0c0c0" d="M420 187h2v2h-2z"/><path fill="#ccccd2" d="M426 187h2v2h-2zM428 193h2v2h-2zM428 199h2v2h-2zM424 201h2v2h-2zM428 201h2v2h-2z"/><path fill="#e4e4f0" d="M428 187h2v2h-2zM432 189h2v2h-2zM470 191h2v2h-2zM468 195h2v2h-2zM456 199h2v2h-2zM456 201h2v2h-2z"/><path fill="#d2cce4" d="M438 187h2v2h-2zM454 187h2v2h-2z"/><path fill="#9c96c0" d="M452 187h2v2h-2z"/><path fill="#de8a84" d="M462 187h2v2h-2z"/><path fill="#f6847e" d="M464 187h2v2h-2z"/><path fill="#e4c0c6" d="M468 187h2v2h-2z"/><path fill="#9c90ba" d="M472 187h2v2h-2z"/><path fill="#847ec0" d="M474 187h2v2h-2z"/><path fill="#7272c0" d="M480 187h2v2h-2z"/><path fill="#4e4e9c" d="M484 187h2v2h-2zM440 195h2v2h-2z"/><path fill="#2a2a8a" d="M488 187h2v2h-2z"/><path fill="#b4b4c0" d="M418 189h2v2h-2z"/><path fill="#ccc6d8" d="M436 189h2v2h-2z"/><path fill="#6666c0" d="M442 189h2v2h-2z"/><path fill="#8a84c6" d="M452 189h2v2h-2z"/><path fill="#eacccc" d="M460 189h2v2h-2z"/><path fill="#d2d2d8" d="M426 191h2v2h-2zM420 195h2v2h-2z"/><path fill="#9690c0" d="M456 191h2v2h-2z"/><path fill="#b4a8c6" d="M458 191h2v2h-2z"/><path fill="#f6f0f6" d="M468 191h2v2h-2z"/><path fill="#9c9cba" d="M416 193h2v2h-2z"/><path fill="#c0c0d2" d="M434 193h2v2h-2zM434 195h2v2h-2z"/><path fill="#726cc0" d="M458 193h2v2h-2zM474 195h2v2h-2z"/><path fill="#7272c6" d="M474 193h2v2h-2z"/><path fill="#9c9ccc" d="M438 195h2v2h-2zM454 201h2v2h-2z"/><path fill="#6c6cc0" d="M458 195h2v2h-2z"/><path fill="#7878c6" d="M454 197h2v2h-2z"/><path fill="#aea8d8" d="M456 197h2v2h-2z"/><path fill="#d8d8f0" d="M460 197h2v2h-2z"/><path fill="#7e7eb4" d="M434 199h2v2h-2z"/><path fill="#9696cc" d="M454 199h2v2h-2z"/><path fill="#e4e4f6" d="M470 199h2v2h-2z"/><path fill="#8484c6" d="M472 199h2v2h-2zM472 201h2v2h-2z"/><path fill="#9696ba" d="M432 201h2v2h-2z"/><path fill="#6666a8" d="M430 205h2v2h-2z"/><path fill="#a2a2d8" d="M454 205h2v2h-2z"/><path fill="#7e78ba" d="M472 205h2v2h-2z"/></g><rect x="400" y="128" width="104" height="82" filter="url(#tex)" opacity="0.12"/><rect x="400" y="128" width="104" height="82" filter="url(#tex2)" opacity="0.15"/></g>
<text x="439.4" y="160.9" font-size="3.9" font-weight="bold" text-anchor="middle" fill="#fff">D58</text>
<text x="452" y="160.5" font-size="3.9" font-weight="bold" text-anchor="middle" fill="#f2c9a0">D30</text>
<text x="447.3" y="165.9" font-size="3.9" font-weight="bold" text-anchor="middle" fill="#fff">D49</text>
<text x="458" y="165.9" font-size="3.9" font-weight="bold" text-anchor="middle" fill="#f2c9a0">E100</text>
<text x="439.6" y="171.1" font-size="3.9" font-weight="bold" text-anchor="middle" fill="#fff">D56</text>
<text x="458" y="171.1" font-size="3.9" font-weight="bold" text-anchor="middle" fill="#f2c9a0">Y50</text>
<text x="454.8" y="177.9" font-size="3.9" font-weight="bold" text-anchor="middle" fill="#fff">E32</text>
<text x="461.5" y="183.7" font-size="3.9" font-weight="bold" text-anchor="middle" fill="#fff">D52</text>
<text x="471" y="183.7" font-size="3.9" font-weight="bold" text-anchor="middle" fill="#fff">D98</text>
<clipPath id="cp2"><path d="M407.7,248.0 C408.8,246.4 409.6,245.5 411.5,244.2 C413.4,242.9 416.6,241.5 419.2,240.4 C421.8,239.3 424.3,238.3 426.9,237.5 C429.5,236.7 431.7,236.2 434.6,235.6 C437.5,235.0 442.0,234.3 444.2,233.7 C446.4,233.0 446.4,231.9 448.0,231.7 C449.6,231.5 451.9,232.0 453.8,232.7 C455.7,233.3 457.7,235.4 459.6,235.6 C461.5,235.8 463.9,234.8 465.4,233.7 C466.8,232.6 467.2,229.8 468.3,228.8 C469.4,227.8 471.2,227.2 472.1,227.9 C473.1,228.6 473.2,230.6 474.0,232.7 C474.8,234.8 475.2,238.8 477.0,240.4 C478.8,242.0 482.4,241.7 484.6,242.3 C486.8,242.9 488.5,243.2 490.4,244.2 C492.3,245.1 494.8,246.4 496.2,248.0 C497.6,249.6 498.3,251.6 499.0,253.8 C499.7,256.0 500.3,258.7 500.5,261.0 C500.7,263.3 500.2,265.1 500.0,267.8 C499.8,270.5 499.6,274.5 499.0,277.4 C498.4,280.3 497.6,282.4 496.2,285.0 C494.8,287.6 492.3,290.9 490.4,292.8 C488.5,294.7 486.5,295.3 484.6,296.6 C482.7,297.9 481.0,299.5 478.8,300.5 C476.6,301.5 473.4,301.4 471.2,302.4 C469.0,303.3 467.6,304.8 465.4,306.2 C463.1,307.6 459.9,310.0 457.7,311.0 C455.4,312.0 453.8,312.6 451.9,312.4 C450.0,312.2 447.8,311.4 446.2,310.0 C444.6,308.6 443.9,305.9 442.3,304.3 C440.7,302.7 438.8,301.8 436.5,300.5 C434.2,299.2 431.4,297.9 428.8,296.6 C426.2,295.3 423.4,294.4 421.2,292.8 C419.0,291.2 417.0,288.9 415.4,287.0 C413.8,285.1 412.5,283.1 411.5,281.2 C410.5,279.3 410.6,277.4 409.6,275.5 C408.7,273.6 406.8,271.9 405.8,269.7 C404.8,267.4 403.9,264.6 403.8,262.0 C403.7,259.4 404.4,256.3 405.0,254.0 C405.6,251.7 406.6,249.6 407.7,248.0Z"/></clipPath>
<g clip-path="url(#cp2)"><g filter="url(#blf)"><path fill="#eaeaf0" d="M438 224h2v2h-2zM456 224h2v2h-2zM482 226h2v2h-2zM448 230h2v2h-2zM460 232h2v2h-2zM460 234h2v2h-2zM484 234h2v2h-2zM452 236h2v2h-2zM456 238h2v2h-2zM478 238h2v2h-2zM458 240h2v2h-2zM484 240h2v2h-2zM458 242h2v2h-2zM484 246h2v2h-2zM480 248h2v2h-2zM446 278h2v2h-2zM498 298h2v2h-2zM476 300h2v2h-2zM490 300h2v2h-2zM486 306h2v2h-2z"/><path fill="#f0f0f6" d="M440 224h4v2h-4zM446 224h2v2h-2zM450 228h2v2h-2zM454 228h4v2h-4zM444 230h2v2h-2zM450 230h2v2h-2zM458 232h2v2h-2zM478 234h2v2h-2zM480 236h4v2h-4zM484 238h2v2h-2zM478 242h2v2h-2zM486 248h2v2h-2zM482 250h2v2h-2zM432 284h4v2h-4zM438 286h2v2h-2zM494 292h2v2h-2zM494 294h2v2h-2zM474 300h2v2h-2zM484 300h2v2h-2zM496 300h2v2h-2zM492 302h2v2h-2z"/><path fill="#f6f6fc" d="M444 224h2v2h-2zM454 224h2v2h-2zM444 226h2v2h-2zM448 226h2v2h-2zM442 228h2v2h-2zM446 230h2v2h-2zM486 230h4v2h-4zM480 232h4v2h-4zM456 236h2v2h-2zM480 244h2v2h-2zM498 294h2v2h-2zM492 296h4v2h-4zM494 298h2v2h-2zM480 300h2v2h-2zM480 304h2v2h-2zM486 308h2v2h-2z"/><path fill="#f6f0fc" d="M448 224h2v2h-2zM458 224h2v2h-2zM450 226h2v2h-2zM460 238h2v2h-2zM456 244h2v2h-2zM444 278h2v2h-2zM438 284h2v2h-2zM488 292h2v2h-2zM490 294h2v2h-2zM484 304h4v2h-4zM484 306h2v2h-2zM476 308h2v2h-2zM478 310h2v2h-2zM482 310h2v2h-2z"/><path fill="#d8d8de" d="M450 224h2v2h-2zM460 226h2v2h-2zM484 226h2v2h-2zM452 228h2v2h-2zM460 228h2v2h-2zM484 228h2v2h-2zM442 230h2v2h-2zM452 230h2v2h-2zM454 234h2v2h-2zM482 234h2v2h-2zM486 234h2v2h-2zM484 236h2v2h-2zM454 240h4v2h-4zM478 240h2v2h-2zM458 244h2v2h-2zM476 244h2v2h-2zM484 248h2v2h-2zM446 276h2v2h-2zM448 278h2v2h-2zM442 282h2v2h-2zM436 286h2v2h-2zM500 292h2v2h-2zM488 296h4v2h-4zM476 298h4v2h-4zM480 302h2v2h-2zM474 306h2v2h-2zM482 306h2v2h-2zM482 308h2v2h-2z"/><path fill="#e4e4ea" d="M452 224h2v2h-2zM462 224h2v2h-2zM454 226h2v2h-2zM446 228h2v2h-2zM454 230h2v2h-2zM462 230h2v2h-2zM480 230h2v2h-2zM484 230h2v2h-2zM456 232h2v2h-2zM456 234h4v2h-4zM480 234h2v2h-2zM460 236h2v2h-2zM480 238h2v2h-2zM480 242h2v2h-2zM478 244h2v2h-2zM482 244h2v2h-2zM486 244h2v2h-2zM452 278h2v2h-2zM432 286h2v2h-2zM442 286h2v2h-2zM490 292h2v2h-2zM498 292h2v2h-2zM496 296h4v2h-4zM498 300h2v2h-2zM478 302h2v2h-2zM484 302h2v2h-2zM496 302h2v2h-2zM478 304h2v2h-2zM488 308h2v2h-2zM484 310h2v2h-2z"/><path fill="#d8d8e4" d="M460 224h2v2h-2zM480 228h2v2h-2zM460 242h2v2h-2zM480 252h2v2h-2zM488 252h2v2h-2zM452 276h2v2h-2zM454 278h2v2h-2zM434 282h2v2h-2zM440 282h2v2h-2zM478 300h2v2h-2zM492 300h2v2h-2zM476 306h2v2h-2zM474 308h2v2h-2z"/><path fill="#aeaed2" d="M464 224h2v2h-2zM472 224h2v2h-2zM480 224h2v2h-2zM472 234h2v2h-2zM494 236h6v2h-6zM498 238h2v2h-2zM494 240h2v2h-2zM498 240h2v2h-2zM472 242h2v2h-2zM498 242h2v2h-2zM470 244h2v2h-2zM494 244h2v2h-2zM476 248h2v2h-2zM420 250h2v2h-2zM474 250h4v2h-4zM468 268h2v2h-2zM448 270h2v2h-2zM470 270h2v2h-2zM448 272h2v2h-2zM468 272h2v2h-2zM438 276h2v2h-2zM458 276h2v2h-2zM456 278h2v2h-2zM460 282h2v2h-2zM460 284h2v2h-2zM466 298h2v2h-2z"/><path fill="#8a8acc" d="M466 224h2v2h-2zM498 246h2v2h-2zM498 248h2v2h-2zM412 250h4v2h-4zM414 252h2v2h-2zM422 252h2v2h-2zM418 256h2v2h-2zM442 270h2v2h-2zM442 272h2v2h-2zM434 276h2v2h-2zM458 282h2v2h-2zM464 306h2v2h-2zM470 306h2v2h-2zM466 310h2v2h-2zM470 310h2v2h-2zM470 314h2v2h-2z"/><path fill="#9090cc" d="M468 224h2v2h-2zM468 228h2v2h-2zM444 270h2v2h-2z"/><path fill="#9c9cc6" d="M470 224h2v2h-2zM500 242h2v2h-2zM468 262h2v2h-2zM448 268h2v2h-2z"/><path fill="#aeaed8" d="M474 224h2v2h-2zM472 226h2v2h-2zM472 228h2v2h-2zM472 232h2v2h-2zM438 250h2v2h-2zM468 264h2v2h-2zM458 278h2v2h-2zM460 286h2v2h-2zM470 304h2v2h-2z"/><path fill="#c0c0ea" d="M476 224h2v2h-2zM474 228h2v2h-2zM464 230h2v2h-2zM476 232h2v2h-2zM492 232h2v2h-2zM494 234h2v2h-2zM490 236h2v2h-2zM500 236h2v2h-2zM414 240h2v2h-2zM416 246h2v2h-2zM492 246h2v2h-2zM456 270h2v2h-2zM470 272h2v2h-2zM462 284h2v2h-2z"/><path fill="#babae4" d="M478 224h2v2h-2zM474 230h2v2h-2zM496 232h2v2h-2zM500 240h2v2h-2zM464 244h4v2h-4zM492 244h2v2h-2zM420 252h2v2h-2zM410 262h2v2h-2zM466 264h2v2h-2zM468 266h2v2h-2zM450 270h4v2h-4zM446 272h2v2h-2zM456 272h2v2h-2z"/><path fill="#fcdede" d="M414 226h2v2h-2zM412 232h2v2h-2zM418 232h4v2h-4zM418 234h2v2h-2zM448 244h2v2h-2zM428 288h2v2h-2zM426 292h2v2h-2z"/><path fill="#e4cccc" d="M416 226h2v2h-2zM420 226h2v2h-2zM412 230h2v2h-2zM428 286h2v2h-2zM470 288h2v2h-2zM468 290h2v2h-2zM428 292h2v2h-2zM470 292h2v2h-2zM426 294h2v2h-2zM442 294h2v2h-2zM428 296h2v2h-2zM482 296h2v2h-2zM426 298h2v2h-2zM424 302h2v2h-2zM428 302h2v2h-2zM428 306h2v2h-2zM426 308h2v2h-2z"/><path fill="#f0d8d8" d="M418 226h2v2h-2zM418 230h2v2h-2zM414 234h2v2h-2zM416 236h2v2h-2zM418 238h2v2h-2zM470 284h2v2h-2zM468 286h4v2h-4zM426 288h2v2h-2zM440 294h2v2h-2zM428 300h2v2h-2zM424 304h2v2h-2zM430 304h2v2h-2zM426 306h2v2h-2zM430 306h2v2h-2zM434 306h2v2h-2zM432 308h2v2h-2z"/><path fill="#d89c9c" d="M422 226h2v2h-2zM422 236h2v2h-2z"/><path fill="#f03c36" d="M424 226h2v2h-2z"/><path fill="#d8302a" d="M426 226h4v2h-4zM434 226h2v2h-2zM432 228h2v2h-2zM436 228h2v2h-2zM432 232h2v2h-2zM426 234h2v2h-2zM432 234h2v2h-2zM430 236h2v2h-2zM440 236h2v2h-2zM436 238h2v2h-2zM432 240h4v2h-4zM438 240h2v2h-2zM428 244h10v2h-10zM412 284h4v2h-4zM408 286h2v2h-2zM412 286h2v2h-2zM404 288h4v2h-4zM412 288h2v2h-2zM410 290h2v2h-2zM410 292h2v2h-2zM406 294h2v2h-2z"/><path fill="#f03630" d="M430 226h4v2h-4zM434 228h2v2h-2zM434 230h2v2h-2zM434 236h2v2h-2zM440 238h2v2h-2zM428 240h2v2h-2zM436 240h2v2h-2zM410 286h2v2h-2zM408 288h2v2h-2zM408 290h2v2h-2zM406 292h2v2h-2zM408 294h2v2h-2z"/><path fill="#f0483c" d="M436 226h2v2h-2zM408 284h2v2h-2z"/><path fill="#ead8e4" d="M438 226h2v2h-2zM466 284h2v2h-2z"/><path fill="#f0eaf0" d="M440 226h2v2h-2zM454 232h2v2h-2zM464 278h2v2h-2zM480 298h2v2h-2zM488 302h2v2h-2z"/><path fill="#dedee4" d="M442 226h2v2h-2zM462 226h2v2h-2zM452 232h2v2h-2zM454 236h2v2h-2zM478 236h2v2h-2zM482 248h2v2h-2zM484 250h2v2h-2zM488 250h2v2h-2zM466 278h2v2h-2zM466 280h2v2h-2zM496 292h2v2h-2zM500 296h2v2h-2zM472 298h4v2h-4zM492 298h2v2h-2zM474 302h2v2h-2zM476 304h2v2h-2zM482 304h2v2h-2zM490 304h2v2h-2zM478 308h2v2h-2zM476 310h2v2h-2z"/><path fill="#f0eaf6" d="M446 226h2v2h-2zM488 228h2v2h-2zM462 232h2v2h-2zM454 238h2v2h-2zM480 240h2v2h-2zM490 252h2v2h-2zM436 284h2v2h-2zM490 298h2v2h-2zM476 302h2v2h-2zM486 302h2v2h-2zM488 304h2v2h-2zM490 306h2v2h-2z"/><path fill="#e4dee4" d="M452 226h2v2h-2zM460 230h2v2h-2zM482 238h2v2h-2zM452 240h2v2h-2zM454 244h2v2h-2zM484 244h2v2h-2zM440 288h2v2h-2zM488 290h2v2h-2zM492 292h2v2h-2zM484 298h2v2h-2zM484 308h2v2h-2z"/><path fill="#ded8e4" d="M456 226h4v2h-4zM482 228h2v2h-2zM486 228h2v2h-2zM456 230h2v2h-2zM482 230h2v2h-2zM488 232h2v2h-2zM452 234h2v2h-2zM482 240h2v2h-2zM456 242h2v2h-2zM490 290h2v2h-2zM496 294h2v2h-2zM496 298h2v2h-2zM494 300h2v2h-2zM482 302h2v2h-2z"/><path fill="#bab4de" d="M464 226h2v2h-2z"/><path fill="#7e7eba" d="M466 226h2v2h-2zM412 238h2v2h-2zM502 246h2v2h-2zM412 252h2v2h-2zM490 254h2v2h-2zM446 268h2v2h-2zM464 304h2v2h-2zM466 314h2v2h-2z"/><path fill="#9696d2" d="M468 226h2v2h-2zM498 244h2v2h-2zM422 250h2v2h-2zM450 268h2v2h-2zM472 270h2v2h-2zM434 278h2v2h-2zM464 300h2v2h-2z"/><path fill="#a8a8d2" d="M470 226h2v2h-2zM496 244h2v2h-2zM474 252h2v2h-2zM482 254h2v2h-2zM466 262h2v2h-2zM410 264h4v2h-4zM464 266h2v2h-2z"/><path fill="#c0c0e4" d="M474 226h2v2h-2zM474 232h2v2h-2zM496 234h2v2h-2zM492 236h2v2h-2zM502 238h2v2h-2zM490 242h2v2h-2zM490 244h2v2h-2zM492 250h2v2h-2zM468 270h2v2h-2zM454 272h2v2h-2zM448 274h2v2h-2zM456 274h2v2h-2zM436 280h2v2h-2zM458 280h2v2h-2z"/><path fill="#b4b4d8" d="M476 226h4v2h-4zM478 228h2v2h-2zM472 230h2v2h-2zM476 230h2v2h-2zM494 232h2v2h-2zM474 234h2v2h-2zM490 234h2v2h-2zM498 234h2v2h-2zM490 238h2v2h-2zM494 238h4v2h-4zM472 240h2v2h-2zM502 240h2v2h-2zM462 242h4v2h-4zM470 242h2v2h-2zM492 242h2v2h-2zM414 244h2v2h-2zM462 244h2v2h-2zM418 248h2v2h-2zM440 250h2v2h-2zM468 274h2v2h-2zM460 276h2v2h-2zM460 278h2v2h-2zM438 280h2v2h-2zM462 282h2v2h-2zM444 286h2v2h-2zM466 300h4v2h-4z"/><path fill="#babade" d="M480 226h2v2h-2zM492 234h2v2h-2zM474 236h2v2h-2zM500 238h2v2h-2zM490 240h4v2h-4zM416 242h2v2h-2zM432 282h2v2h-2zM464 286h2v2h-2z"/><path fill="#fce4e4" d="M412 228h2v2h-2zM418 228h2v2h-2zM410 230h2v2h-2zM416 230h2v2h-2zM414 232h2v2h-2zM414 236h2v2h-2zM420 236h2v2h-2zM450 242h2v2h-2zM430 288h2v2h-2zM428 290h2v2h-2zM470 290h2v2h-2zM440 292h2v2h-2zM468 292h2v2h-2zM426 304h2v2h-2zM432 304h4v2h-4zM424 306h2v2h-2zM432 306h2v2h-2zM428 310h4v2h-4z"/><path fill="#decccc" d="M414 228h2v2h-2zM414 230h2v2h-2zM450 240h2v2h-2zM496 290h2v2h-2zM428 304h2v2h-2z"/><path fill="#f6dede" d="M416 228h2v2h-2zM452 242h2v2h-2zM450 244h2v2h-2zM468 284h2v2h-2zM426 286h2v2h-2zM468 288h2v2h-2zM440 290h2v2h-2zM426 296h2v2h-2zM428 298h2v2h-2zM430 300h2v2h-2zM426 302h2v2h-2zM430 302h4v2h-4zM422 306h2v2h-2zM428 308h4v2h-4zM432 310h2v2h-2z"/><path fill="#dec6c6" d="M420 228h2v2h-2zM426 284h2v2h-2zM498 290h2v2h-2z"/><path fill="#f6b4ae" d="M422 228h2v2h-2zM448 238h2v2h-2zM432 290h2v2h-2zM436 290h2v2h-2zM436 292h2v2h-2z"/><path fill="#de3c30" d="M424 228h2v2h-2z"/><path fill="#e4362a" d="M426 228h2v2h-2zM430 234h2v2h-2zM436 234h2v2h-2zM440 234h2v2h-2zM426 236h4v2h-4zM432 236h2v2h-2zM432 238h2v2h-2zM428 242h2v2h-2zM416 280h2v2h-2zM414 286h2v2h-2zM414 288h2v2h-2zM404 290h2v2h-2z"/><path fill="#d2302a" d="M428 228h4v2h-4zM432 230h2v2h-2zM436 230h2v2h-2zM438 234h2v2h-2zM434 238h2v2h-2zM434 242h2v2h-2zM438 242h2v2h-2z"/><path fill="#ea726c" d="M438 228h2v2h-2zM490 278h2v2h-2z"/><path fill="#f6eaf6" d="M440 228h2v2h-2z"/><path fill="#e4deea" d="M444 228h2v2h-2zM486 246h2v2h-2zM486 250h2v2h-2zM444 276h2v2h-2zM450 276h2v2h-2zM442 284h2v2h-2zM440 286h2v2h-2zM482 298h2v2h-2zM472 300h2v2h-2zM472 302h2v2h-2zM494 302h2v2h-2zM474 304h2v2h-2zM480 308h2v2h-2z"/><path fill="#eae4f0" d="M448 228h2v2h-2zM490 230h2v2h-2zM446 232h2v2h-2zM450 232h2v2h-2zM478 232h2v2h-2zM484 232h4v2h-4zM486 236h2v2h-2zM452 238h2v2h-2zM476 242h2v2h-2zM484 242h4v2h-4zM480 246h2v2h-2zM488 248h2v2h-2zM442 278h2v2h-2zM450 278h2v2h-2zM442 280h4v2h-4zM450 280h2v2h-2zM464 280h2v2h-2zM440 284h2v2h-2zM434 286h2v2h-2zM482 300h2v2h-2zM486 300h4v2h-4z"/><path fill="#f0f0fc" d="M458 228h2v2h-2zM462 228h2v2h-2zM458 230h2v2h-2zM486 238h2v2h-2zM482 242h2v2h-2zM490 250h2v2h-2zM500 294h2v2h-2zM478 306h4v2h-4zM488 306h2v2h-2z"/><path fill="#a8a8cc" d="M464 228h2v2h-2zM474 238h2v2h-2zM414 242h2v2h-2zM494 242h4v2h-4zM416 244h2v2h-2zM468 244h2v2h-2zM472 244h2v2h-2zM474 248h2v2h-2zM492 248h2v2h-2zM440 252h4v2h-4zM476 252h2v2h-2zM492 252h2v2h-2zM410 266h2v2h-2zM446 270h2v2h-2zM454 270h2v2h-2zM452 272h2v2h-2zM456 276h2v2h-2zM436 278h2v2h-2zM442 298h2v2h-2zM468 298h2v2h-2z"/><path fill="#8484c0" d="M466 228h2v2h-2zM414 248h2v2h-2zM494 248h4v2h-4zM498 250h2v2h-2zM472 252h2v2h-2zM416 254h2v2h-2zM464 274h2v2h-2zM472 274h2v2h-2zM472 276h2v2h-2zM424 278h2v2h-2zM422 280h2v2h-2zM460 288h2v2h-2zM468 314h2v2h-2z"/><path fill="#b4b4e4" d="M470 228h2v2h-2zM458 274h2v2h-2zM436 276h2v2h-2z"/><path fill="#b4b4de" d="M476 228h2v2h-2zM492 238h2v2h-2zM496 240h2v2h-2zM472 246h2v2h-2zM418 250h2v2h-2zM442 250h2v2h-2zM418 252h2v2h-2zM466 266h2v2h-2zM450 272h2v2h-2zM438 278h2v2h-2zM456 280h2v2h-2zM462 286h2v2h-2zM468 302h2v2h-2z"/><path fill="#ead2d2" d="M420 230h2v2h-2zM416 232h2v2h-2zM418 236h2v2h-2zM428 284h2v2h-2zM428 294h2v2h-2zM470 294h2v2h-2zM430 298h4v2h-4zM426 300h2v2h-2zM432 300h2v2h-2zM424 308h2v2h-2z"/><path fill="#e4a2a2" d="M422 230h2v2h-2z"/><path fill="#e43c36" d="M424 230h2v2h-2zM424 232h2v2h-2zM424 238h2v2h-2zM440 240h2v2h-2z"/><path fill="#ea3630" d="M426 230h2v2h-2zM426 232h2v2h-2zM430 232h2v2h-2zM436 232h4v2h-4zM430 238h2v2h-2zM430 240h2v2h-2zM432 242h2v2h-2zM436 242h2v2h-2zM414 282h2v2h-2zM410 284h2v2h-2zM406 290h2v2h-2zM404 292h2v2h-2z"/><path fill="#de302a" d="M428 230h4v2h-4zM428 232h2v2h-2zM428 234h2v2h-2zM436 236h4v2h-4zM428 238h2v2h-2zM438 238h2v2h-2zM430 242h2v2h-2zM410 288h2v2h-2zM408 292h2v2h-2z"/><path fill="#e43630" d="M438 230h2v2h-2zM434 234h2v2h-2zM426 240h2v2h-2zM416 278h2v2h-2zM414 290h2v2h-2zM410 294h2v2h-2z"/><path fill="#f0908a" d="M440 230h2v2h-2zM480 290h2v2h-2z"/><path fill="#9090d2" d="M466 230h2v2h-2zM500 244h2v2h-2zM494 250h2v2h-2zM478 254h2v2h-2zM438 274h4v2h-4zM470 276h2v2h-2z"/><path fill="#9c9cd8" d="M468 230h2v2h-2zM418 254h2v2h-2zM408 266h2v2h-2zM472 308h2v2h-2z"/><path fill="#a8a8d8" d="M470 230h2v2h-2zM414 246h2v2h-2zM412 266h2v2h-2zM466 268h2v2h-2z"/><path fill="#c0c0de" d="M478 230h2v2h-2zM476 236h2v2h-2zM440 276h2v2h-2zM440 280h2v2h-2zM470 300h2v2h-2z"/><path fill="#4848a8" d="M404 232h4v2h-4zM404 236h2v2h-2zM400 238h2v2h-2zM404 238h2v2h-2zM404 242h2v2h-2zM400 244h2v2h-2zM406 244h2v2h-2zM400 246h2v2h-2zM400 248h2v2h-2zM402 250h6v2h-6zM408 256h2v2h-2zM410 258h2v2h-2zM476 258h2v2h-2zM484 258h2v2h-2zM406 264h2v2h-2zM408 268h2v2h-2zM438 268h2v2h-2zM412 270h2v2h-2zM462 272h2v2h-2zM422 274h2v2h-2zM476 278h2v2h-2zM454 282h2v2h-2zM448 310h2v2h-2zM448 312h2v2h-2zM454 312h4v2h-4zM442 314h2v2h-2zM446 314h2v2h-2zM450 314h2v2h-2zM454 314h2v2h-2z"/><path fill="#4848a2" d="M408 232h2v2h-2zM406 234h2v2h-2zM406 236h2v2h-2zM402 240h2v2h-2zM410 240h2v2h-2zM400 242h4v2h-4zM408 242h2v2h-2zM402 248h2v2h-2zM400 250h2v2h-2zM406 252h2v2h-2zM436 252h2v2h-2zM476 256h2v2h-2zM412 258h2v2h-2zM468 260h2v2h-2zM462 268h2v2h-2zM460 270h4v2h-4zM412 272h2v2h-2zM460 272h2v2h-2zM474 274h2v2h-2zM448 282h2v2h-2zM450 310h4v2h-4zM452 312h2v2h-2z"/><path fill="#d8c0cc" d="M410 232h2v2h-2z"/><path fill="#f0aeae" d="M422 232h2v2h-2zM422 234h2v2h-2z"/><path fill="#e4302a" d="M434 232h2v2h-2zM412 290h2v2h-2z"/><path fill="#d83630" d="M440 232h2v2h-2zM438 244h2v2h-2zM414 278h2v2h-2zM416 284h2v2h-2zM412 292h2v2h-2z"/><path fill="#f6a8a8" d="M442 232h2v2h-2zM488 280h2v2h-2z"/><path fill="#f0e4ea" d="M444 232h2v2h-2zM438 288h2v2h-2zM472 296h2v2h-2zM480 296h2v2h-2z"/><path fill="#d8d2de" d="M448 232h2v2h-2z"/><path fill="#b4aed2" d="M464 232h2v2h-2zM440 248h2v2h-2zM466 274h2v2h-2z"/><path fill="#908ac6" d="M466 232h2v2h-2z"/><path fill="#9690cc" d="M468 232h2v2h-2zM480 254h2v2h-2z"/><path fill="#b4aede" d="M470 232h2v2h-2z"/><path fill="#d2d2f0" d="M490 232h2v2h-2zM450 274h2v2h-2z"/><path fill="#4e4eae" d="M402 234h4v2h-4zM408 234h2v2h-2zM410 236h2v2h-2zM406 240h2v2h-2zM406 242h2v2h-2zM410 242h2v2h-2zM402 244h2v2h-2zM410 244h2v2h-2zM404 248h2v2h-2zM410 256h2v2h-2zM458 288h2v2h-2z"/><path fill="#7872ba" d="M410 234h2v2h-2z"/><path fill="#f0d8de" d="M412 234h2v2h-2zM432 288h2v2h-2zM442 290h2v2h-2z"/><path fill="#f6d8d8" d="M416 234h2v2h-2zM420 234h2v2h-2zM422 304h2v2h-2z"/><path fill="#d23630" d="M424 234h2v2h-2z"/><path fill="#d84842" d="M442 234h2v2h-2zM440 242h2v2h-2z"/><path fill="#d8a2a2" d="M444 234h2v2h-2z"/><path fill="#debaba" d="M446 234h2v2h-2z"/><path fill="#e4c6cc" d="M448 234h2v2h-2z"/><path fill="#ded2d8" d="M450 234h2v2h-2zM436 298h2v2h-2z"/><path fill="#eae4ea" d="M462 234h2v2h-2z"/><path fill="#c09cae" d="M464 234h2v2h-2z"/><path fill="#c07896" d="M466 234h2v2h-2z"/><path fill="#a87290" d="M468 234h2v2h-2z"/><path fill="#b49cc0" d="M470 234h2v2h-2z"/><path fill="#bab4d2" d="M476 234h2v2h-2zM440 278h2v2h-2z"/><path fill="#e4e4f0" d="M488 234h2v2h-2zM458 236h2v2h-2zM458 238h2v2h-2zM486 240h2v2h-2zM482 246h2v2h-2zM482 252h2v2h-2zM448 276h2v2h-2zM466 276h2v2h-2zM492 294h2v2h-2zM490 302h2v2h-2zM480 310h2v2h-2z"/><path fill="#4e4eb4" d="M400 236h2v2h-2zM410 238h2v2h-2zM404 240h2v2h-2zM408 244h2v2h-2zM402 246h2v2h-2zM408 246h2v2h-2zM406 248h2v2h-2zM412 256h2v2h-2zM484 256h2v2h-2zM414 268h2v2h-2zM414 270h2v2h-2zM444 314h2v2h-2zM456 314h2v2h-2z"/><path fill="#4848ae" d="M402 236h2v2h-2zM408 236h2v2h-2zM402 238h2v2h-2zM406 238h4v2h-4zM408 240h2v2h-2zM408 254h2v2h-2zM408 258h2v2h-2zM476 260h2v2h-2zM446 310h2v2h-2zM446 312h2v2h-2zM448 314h2v2h-2zM452 314h2v2h-2z"/><path fill="#ccc0de" d="M412 236h2v2h-2z"/><path fill="#d83c30" d="M424 236h2v2h-2zM412 282h2v2h-2z"/><path fill="#de423c" d="M442 236h2v2h-2z"/><path fill="#fca29c" d="M444 236h2v2h-2z"/><path fill="#e4a8a2" d="M446 236h2v2h-2zM434 290h2v2h-2zM434 294h4v2h-4z"/><path fill="#fcbab4" d="M448 236h2v2h-2zM494 288h2v2h-2z"/><path fill="#f6e4e4" d="M450 236h2v2h-2zM468 282h2v2h-2zM430 284h2v2h-2z"/><path fill="#e4d8de" d="M462 236h2v2h-2z"/><path fill="#f08a8a" d="M464 236h2v2h-2z"/><path fill="#e45a54" d="M466 236h2v2h-2zM422 244h2v2h-2zM412 276h2v2h-2zM492 278h2v2h-2zM492 280h2v2h-2zM420 286h2v2h-2zM480 286h2v2h-2z"/><path fill="#d85a5a" d="M468 236h2v2h-2zM420 282h2v2h-2z"/><path fill="#cc8a9c" d="M470 236h2v2h-2z"/><path fill="#aea8cc" d="M472 236h2v2h-2zM438 248h2v2h-2z"/><path fill="#ccccde" d="M488 236h2v2h-2zM476 246h2v2h-2zM454 276h2v2h-2z"/><path fill="#d8cce4" d="M414 238h2v2h-2z"/><path fill="#e4ccd2" d="M416 238h2v2h-2z"/><path fill="#eacccc" d="M420 238h2v2h-2zM430 296h2v2h-2z"/><path fill="#e49c9c" d="M422 238h2v2h-2z"/><path fill="#de362a" d="M426 238h2v2h-2z"/><path fill="#f04842" d="M442 238h2v2h-2z"/><path fill="#ea9090" d="M444 238h2v2h-2z"/><path fill="#d89c96" d="M446 238h2v2h-2z"/><path fill="#e4d2d8" d="M450 238h2v2h-2z"/><path fill="#e4d8e4" d="M462 238h2v2h-2zM492 290h2v2h-2z"/><path fill="#de8484" d="M464 238h2v2h-2z"/><path fill="#f0605a" d="M466 238h2v2h-2zM444 244h2v2h-2z"/><path fill="#d85a54" d="M468 238h2v2h-2zM420 244h2v2h-2zM474 286h2v2h-2zM418 288h2v2h-2zM478 292h2v2h-2z"/><path fill="#c68496" d="M470 238h2v2h-2z"/><path fill="#c0bae4" d="M472 238h2v2h-2zM466 296h2v2h-2z"/><path fill="#ccccea" d="M476 238h2v2h-2zM474 242h2v2h-2zM490 246h2v2h-2zM474 310h2v2h-2z"/><path fill="#c6c0d8" d="M488 238h2v2h-2z"/><path fill="#48489c" d="M400 240h2v2h-2zM406 246h2v2h-2zM444 252h2v2h-2zM464 260h4v2h-4zM462 264h2v2h-2zM424 274h2v2h-2zM450 312h2v2h-2z"/><path fill="#8484cc" d="M412 240h2v2h-2zM502 244h2v2h-2zM496 250h2v2h-2zM494 252h2v2h-2zM414 254h2v2h-2zM476 254h2v2h-2zM482 256h2v2h-2zM418 258h2v2h-2zM424 276h2v2h-2zM474 276h2v2h-2zM474 278h2v2h-2zM468 306h2v2h-2zM468 312h4v2h-4z"/><path fill="#d2ccea" d="M416 240h2v2h-2z"/><path fill="#eaccd2" d="M418 240h2v2h-2z"/><path fill="#de9c9c" d="M420 240h2v2h-2zM488 276h2v2h-2zM418 292h2v2h-2zM422 298h2v2h-2zM414 302h2v2h-2z"/><path fill="#f0786c" d="M422 240h2v2h-2z"/><path fill="#d8483c" d="M424 240h2v2h-2z"/><path fill="#e44e48" d="M442 240h2v2h-2zM418 282h2v2h-2z"/><path fill="#de6c66" d="M444 240h2v2h-2zM486 286h2v2h-2z"/><path fill="#f09c96" d="M446 240h2v2h-2zM500 286h2v2h-2z"/><path fill="#deb4ae" d="M448 240h2v2h-2zM424 294h2v2h-2z"/><path fill="#eaeaf6" d="M460 240h2v2h-2zM484 252h2v2h-2zM472 304h2v2h-2z"/><path fill="#d8d8f0" d="M462 240h2v2h-2zM488 240h2v2h-2zM468 276h2v2h-2zM444 282h2v2h-2z"/><path fill="#ba9cb4" d="M464 240h2v2h-2z"/><path fill="#d27e8a" d="M466 240h2v2h-2z"/><path fill="#d2787e" d="M468 240h2v2h-2z"/><path fill="#c0a8c0" d="M470 240h2v2h-2z"/><path fill="#c6c6ea" d="M474 240h2v2h-2zM474 246h2v2h-2z"/><path fill="#d2d2e4" d="M476 240h2v2h-2zM488 242h2v2h-2zM468 280h2v2h-2z"/><path fill="#8484c6" d="M412 242h2v2h-2zM496 246h2v2h-2zM502 248h2v2h-2zM484 254h2v2h-2zM416 256h2v2h-2zM480 256h2v2h-2zM440 270h2v2h-2zM440 272h2v2h-2zM472 280h2v2h-2zM452 282h2v2h-2zM466 306h2v2h-2zM468 308h4v2h-4zM472 312h2v2h-2zM472 314h2v2h-2z"/><path fill="#ba96ae" d="M418 242h2v2h-2zM418 244h2v2h-2z"/><path fill="#d8605a" d="M420 242h2v2h-2z"/><path fill="#ea5a54" d="M422 242h2v2h-2zM496 280h2v2h-2zM478 284h2v2h-2z"/><path fill="#de544e" d="M424 242h2v2h-2zM424 244h2v2h-2zM406 278h2v2h-2zM404 280h6v2h-6zM500 282h2v2h-2zM476 284h2v2h-2zM476 292h2v2h-2z"/><path fill="#f04236" d="M426 242h2v2h-2z"/><path fill="#f66054" d="M442 242h2v2h-2zM402 282h4v2h-4zM402 284h2v2h-2z"/><path fill="#ea6054" d="M444 242h2v2h-2zM502 284h2v2h-2z"/><path fill="#de7878" d="M446 242h2v2h-2z"/><path fill="#e4c6c6" d="M448 242h2v2h-2zM438 294h2v2h-2zM436 296h2v2h-2z"/><path fill="#f6eaf0" d="M454 242h2v2h-2z"/><path fill="#bab4d8" d="M466 242h2v2h-2zM420 248h2v2h-2zM444 284h2v2h-2zM464 284h2v2h-2z"/><path fill="#b4a8cc" d="M468 242h2v2h-2zM444 294h2v2h-2z"/><path fill="#9696d8" d="M502 242h2v2h-2zM472 272h2v2h-2zM468 304h2v2h-2z"/><path fill="#42429c" d="M404 244h2v2h-2zM404 246h2v2h-2zM402 252h2v2h-2zM476 276h2v2h-2zM454 310h2v2h-2z"/><path fill="#7e7ec0" d="M412 244h2v2h-2zM500 246h2v2h-2zM410 250h2v2h-2zM478 256h2v2h-2zM416 258h2v2h-2zM480 258h4v2h-4zM472 278h2v2h-2zM466 304h2v2h-2zM464 308h4v2h-4zM464 310h2v2h-2zM468 310h2v2h-2z"/><path fill="#ea423c" d="M426 244h2v2h-2z"/><path fill="#e45448" d="M440 244h2v2h-2zM412 280h2v2h-2z"/><path fill="#d8544e" d="M442 244h2v2h-2zM410 278h2v2h-2zM494 278h2v2h-2zM402 280h2v2h-2zM498 280h2v2h-2zM502 282h2v2h-2zM400 284h2v2h-2zM420 284h2v2h-2zM478 286h2v2h-2zM484 286h2v2h-2z"/><path fill="#e47878" d="M446 244h2v2h-2z"/><path fill="#f0dede" d="M452 244h2v2h-2z"/><path fill="#ded8ea" d="M460 244h2v2h-2z"/><path fill="#babad8" d="M474 244h2v2h-2z"/><path fill="#ccc6de" d="M488 244h2v2h-2z"/><path fill="#5454ae" d="M410 246h2v2h-2zM444 250h2v2h-2zM414 264h2v2h-2zM464 272h2v2h-2z"/><path fill="#7878b4" d="M412 246h2v2h-2zM496 252h2v2h-2zM478 258h2v2h-2z"/><path fill="#c0a8c6" d="M418 246h2v2h-2z"/><path fill="#cc7884" d="M420 246h2v2h-2z"/><path fill="#cc5a5a" d="M422 246h2v2h-2z"/><path fill="#a84860" d="M424 246h2v2h-2z"/><path fill="#963c72" d="M426 246h2v2h-2z"/><path fill="#c03042" d="M428 246h2v2h-2z"/><path fill="#d2363c" d="M430 246h2v2h-2z"/><path fill="#842a54" d="M432 246h2v2h-2z"/><path fill="#9c304e" d="M434 246h2v2h-2z"/><path fill="#c03036" d="M436 246h2v2h-2z"/><path fill="#d2545a" d="M438 246h2v2h-2z"/><path fill="#c07884" d="M440 246h2v2h-2z"/><path fill="#d2666c" d="M442 246h2v2h-2z"/><path fill="#cc5460" d="M444 246h2v2h-2zM496 276h2v2h-2z"/><path fill="#8a547e" d="M446 246h2v2h-2z"/><path fill="#9c8aae" d="M448 246h2v2h-2z"/><path fill="#c6b4c0" d="M450 246h2v2h-2z"/><path fill="#c6b4d2" d="M452 246h2v2h-2zM466 292h2v2h-2z"/><path fill="#847eb4" d="M454 246h2v2h-2z"/><path fill="#c0c0d8" d="M456 246h2v2h-2zM478 248h2v2h-2z"/><path fill="#c6c6de" d="M458 246h2v2h-2zM468 278h2v2h-2z"/><path fill="#8a84c0" d="M460 246h2v2h-2z"/><path fill="#7e7eb4" d="M462 246h2v2h-2z"/><path fill="#9c9ccc" d="M464 246h2v2h-2zM416 248h2v2h-2zM416 250h2v2h-2zM438 252h2v2h-2zM470 268h2v2h-2zM434 280h2v2h-2z"/><path fill="#8484ba" d="M466 246h2v2h-2zM470 278h2v2h-2zM470 280h2v2h-2z"/><path fill="#6c6cb4" d="M468 246h2v2h-2zM414 256h2v2h-2zM440 268h2v2h-2zM426 278h2v2h-2z"/><path fill="#a2a2d8" d="M470 246h2v2h-2zM454 268h2v2h-2zM458 272h2v2h-2z"/><path fill="#d2d2de" d="M478 246h2v2h-2zM490 248h2v2h-2zM446 280h2v2h-2zM452 280h2v2h-2z"/><path fill="#d8d8ea" d="M488 246h2v2h-2zM486 252h2v2h-2zM436 282h2v2h-2z"/><path fill="#9696cc" d="M494 246h2v2h-2zM444 272h2v2h-2zM462 288h2v2h-2z"/><path fill="#4e4ea8" d="M408 248h2v2h-2zM500 252h2v2h-2zM410 254h2v2h-2zM492 254h2v2h-2zM462 266h2v2h-2zM464 270h2v2h-2z"/><path fill="#7272b4" d="M410 248h2v2h-2z"/><path fill="#7878ba" d="M412 248h2v2h-2zM500 250h2v2h-2zM464 314h2v2h-2z"/><path fill="#9684b4" d="M422 248h2v2h-2z"/><path fill="#3c3696" d="M424 248h2v2h-2z"/><path fill="#3636a2" d="M426 248h2v2h-2zM402 254h2v2h-2zM406 256h2v2h-2zM400 260h2v2h-2zM474 262h2v2h-2zM416 264h2v2h-2zM404 266h2v2h-2zM418 266h2v2h-2zM400 268h2v2h-2zM408 270h2v2h-2zM400 276h2v2h-2zM452 284h2v2h-2zM454 286h2v2h-2zM446 300h2v2h-2zM458 304h2v2h-2zM458 308h2v2h-2zM458 312h2v2h-2zM440 314h2v2h-2z"/><path fill="#3c3090" d="M428 248h2v2h-2zM490 274h2v2h-2z"/><path fill="#3c2a84" d="M430 248h2v2h-2z"/><path fill="#2a248a" d="M432 248h4v2h-4zM498 274h2v2h-2zM502 276h2v2h-2z"/><path fill="#5a4890" d="M436 248h2v2h-2z"/><path fill="#baaed8" d="M442 248h2v2h-2z"/><path fill="#604e9c" d="M444 248h2v2h-2z"/><path fill="#302a96" d="M446 248h4v2h-4z"/><path fill="#3c3c9c" d="M450 248h2v2h-2zM458 248h2v2h-2zM422 254h2v2h-2zM438 254h2v2h-2zM432 280h2v2h-2zM446 284h2v2h-2zM460 304h2v2h-2zM448 308h4v2h-4zM460 310h2v2h-2zM460 312h2v2h-2z"/><path fill="#303096" d="M452 248h2v2h-2zM470 252h2v2h-2zM436 254h2v2h-2zM402 256h2v2h-2zM472 256h4v2h-4zM486 256h2v2h-2zM404 258h2v2h-2zM472 258h2v2h-2zM488 258h4v2h-4zM404 260h2v2h-2zM462 260h2v2h-2zM472 264h2v2h-2zM400 266h2v2h-2zM416 266h2v2h-2zM454 266h2v2h-2zM404 268h2v2h-2zM404 272h2v2h-2zM426 274h2v2h-2zM434 274h2v2h-2zM478 276h4v2h-4zM478 278h2v2h-2zM448 284h2v2h-2zM454 284h4v2h-4zM446 290h2v2h-2zM460 292h2v2h-2zM446 296h2v2h-2zM456 304h2v2h-2zM442 306h4v2h-4zM448 306h2v2h-2zM438 310h2v2h-2z"/><path fill="#2a2a90" d="M454 248h2v2h-2zM466 248h2v2h-2zM470 250h2v2h-2zM430 252h2v2h-2zM426 254h2v2h-2zM444 254h2v2h-2zM470 254h2v2h-2zM422 256h2v2h-2zM470 256h2v2h-2zM422 258h2v2h-2zM488 260h4v2h-4zM478 262h4v2h-4zM446 266h2v2h-2zM450 266h4v2h-4zM436 272h2v2h-2zM480 272h2v2h-2zM428 274h2v2h-2zM456 302h2v2h-2zM454 304h2v2h-2zM450 306h2v2h-2z"/><path fill="#36369c" d="M456 248h2v2h-2zM464 248h2v2h-2zM416 262h2v2h-2zM472 266h2v2h-2zM474 270h2v2h-2zM474 272h2v2h-2zM476 274h2v2h-2zM432 276h2v2h-2zM432 278h2v2h-2zM430 280h2v2h-2zM480 280h2v2h-2zM462 290h2v2h-2zM444 310h2v2h-2zM456 310h2v2h-2zM442 312h2v2h-2z"/><path fill="#2a2a9c" d="M460 248h2v2h-2zM468 256h2v2h-2zM492 258h2v2h-2zM484 262h2v2h-2zM488 262h2v2h-2zM420 268h2v2h-2zM448 290h2v2h-2zM458 292h2v2h-2zM450 298h2v2h-2zM458 300h2v2h-2zM450 304h2v2h-2z"/><path fill="#2a2a96" d="M462 248h2v2h-2zM468 248h2v2h-2zM434 250h2v2h-2zM464 258h2v2h-2zM482 262h2v2h-2zM486 262h2v2h-2zM420 266h2v2h-2zM478 266h2v2h-2zM436 270h2v2h-2zM418 272h2v2h-2zM422 272h2v2h-2zM432 274h2v2h-2zM458 294h2v2h-2zM460 296h2v2h-2zM454 306h2v2h-2z"/><path fill="#363696" d="M470 248h2v2h-2zM470 260h2v2h-2z"/><path fill="#8a8ac0" d="M472 248h2v2h-2zM472 250h2v2h-2z"/><path fill="#8a8ad2" d="M500 248h2v2h-2zM472 310h2v2h-2zM464 312h4v2h-4z"/><path fill="#4e4ea2" d="M408 250h2v2h-2zM436 250h2v2h-2zM444 296h2v2h-2z"/><path fill="#3c3ca2" d="M424 250h2v2h-2zM406 260h2v2h-2zM416 268h2v2h-2zM416 270h2v2h-2zM446 288h2v2h-2zM464 292h2v2h-2zM444 298h2v2h-2zM444 300h2v2h-2zM440 306h2v2h-2zM452 308h2v2h-2zM460 308h2v2h-2zM436 310h2v2h-2z"/><path fill="#3636a8" d="M426 250h4v2h-4zM400 254h2v2h-2zM400 258h4v2h-4zM406 258h2v2h-2zM474 258h2v2h-2zM474 260h2v2h-2zM400 262h2v2h-2zM404 262h2v2h-2zM418 262h2v2h-2zM402 264h2v2h-2zM474 264h2v2h-2zM402 268h2v2h-2zM476 268h2v2h-2zM404 270h2v2h-2zM402 272h2v2h-2zM476 272h2v2h-2zM404 274h2v2h-2zM430 278h2v2h-2zM462 294h2v2h-2zM446 298h2v2h-2zM444 308h2v2h-2zM440 312h2v2h-2zM438 314h2v2h-2z"/><path fill="#24248a" d="M430 250h4v2h-4zM434 252h2v2h-2zM450 252h2v2h-2zM466 252h2v2h-2zM424 254h2v2h-2zM448 254h2v2h-2zM452 254h6v2h-6zM462 254h2v2h-2zM468 254h2v2h-2zM430 256h2v2h-2zM440 256h4v2h-4zM446 256h2v2h-2zM498 256h2v2h-2zM424 258h2v2h-2zM434 258h4v2h-4zM446 258h2v2h-2zM452 258h2v2h-2zM462 258h2v2h-2zM500 258h2v2h-2zM434 260h2v2h-2zM452 260h2v2h-2zM456 260h2v2h-2zM460 260h2v2h-2zM498 260h2v2h-2zM502 260h2v2h-2zM430 262h2v2h-2zM434 262h2v2h-2zM490 262h4v2h-4zM426 264h2v2h-2zM432 264h4v2h-4zM440 264h2v2h-2zM446 264h2v2h-2zM450 264h4v2h-4zM460 264h2v2h-2zM492 264h2v2h-2zM422 266h2v2h-2zM434 266h6v2h-6zM444 266h2v2h-2zM458 266h2v2h-2zM490 266h2v2h-2zM494 266h4v2h-4zM500 266h2v2h-2zM422 268h2v2h-2zM428 268h2v2h-2zM432 268h2v2h-2zM436 268h2v2h-2zM480 268h2v2h-2zM496 268h2v2h-2zM418 270h2v2h-2zM434 270h2v2h-2zM490 270h2v2h-2zM502 270h2v2h-2zM424 272h2v2h-2zM484 272h4v2h-4zM500 272h2v2h-2zM450 292h2v2h-2zM456 294h2v2h-2zM452 296h2v2h-2zM450 300h2v2h-2zM454 302h2v2h-2zM452 304h2v2h-2zM452 306h2v2h-2z"/><path fill="#242490" d="M446 250h2v2h-2zM450 250h2v2h-2zM456 250h2v2h-2zM464 250h4v2h-4zM432 252h2v2h-2zM446 252h4v2h-4zM458 252h6v2h-6zM468 252h2v2h-2zM428 254h4v2h-4zM446 254h2v2h-2zM458 254h2v2h-2zM464 254h2v2h-2zM502 254h2v2h-2zM426 256h2v2h-2zM432 256h2v2h-2zM436 256h2v2h-2zM448 256h2v2h-2zM454 256h2v2h-2zM460 256h2v2h-2zM466 256h2v2h-2zM492 256h2v2h-2zM496 256h2v2h-2zM500 256h4v2h-4zM426 258h4v2h-4zM432 258h2v2h-2zM440 258h2v2h-2zM444 258h2v2h-2zM448 258h2v2h-2zM456 258h2v2h-2zM460 258h2v2h-2zM468 258h2v2h-2zM494 258h4v2h-4zM426 260h2v2h-2zM446 260h2v2h-2zM454 260h2v2h-2zM458 260h2v2h-2zM500 260h2v2h-2zM422 262h6v2h-6zM432 262h2v2h-2zM436 262h4v2h-4zM442 262h4v2h-4zM450 262h6v2h-6zM460 262h2v2h-2zM498 262h6v2h-6zM438 264h2v2h-2zM444 264h2v2h-2zM448 264h2v2h-2zM456 264h2v2h-2zM482 264h2v2h-2zM486 264h6v2h-6zM500 264h2v2h-2zM428 266h2v2h-2zM432 266h2v2h-2zM460 266h2v2h-2zM480 266h6v2h-6zM502 266h2v2h-2zM424 268h4v2h-4zM430 268h2v2h-2zM486 268h2v2h-2zM492 268h4v2h-4zM498 268h2v2h-2zM502 268h2v2h-2zM424 270h4v2h-4zM430 270h4v2h-4zM480 270h2v2h-2zM484 270h2v2h-2zM492 270h6v2h-6zM428 272h4v2h-4zM434 272h2v2h-2zM482 272h2v2h-2zM490 272h4v2h-4zM496 272h4v2h-4zM502 272h2v2h-2zM502 274h2v2h-2zM450 290h8v2h-8zM454 292h4v2h-4zM454 294h2v2h-2zM450 296h2v2h-2zM454 296h2v2h-2zM458 296h2v2h-2zM454 298h4v2h-4zM460 298h2v2h-2zM454 300h4v2h-4zM460 300h2v2h-2zM450 302h4v2h-4z"/><path fill="#242496" d="M448 250h2v2h-2zM454 250h2v2h-2zM460 250h2v2h-2zM468 250h2v2h-2zM452 252h6v2h-6zM464 252h2v2h-2zM432 254h4v2h-4zM450 254h2v2h-2zM460 254h2v2h-2zM466 254h2v2h-2zM424 256h2v2h-2zM428 256h2v2h-2zM434 256h2v2h-2zM452 256h2v2h-2zM456 256h4v2h-4zM462 256h4v2h-4zM430 258h2v2h-2zM438 258h2v2h-2zM458 258h2v2h-2zM502 258h2v2h-2zM424 260h2v2h-2zM428 260h6v2h-6zM436 260h6v2h-6zM444 260h2v2h-2zM448 260h4v2h-4zM492 260h4v2h-4zM428 262h2v2h-2zM448 262h2v2h-2zM456 262h2v2h-2zM494 262h2v2h-2zM430 264h2v2h-2zM436 264h2v2h-2zM442 264h2v2h-2zM454 264h2v2h-2zM458 264h2v2h-2zM478 264h2v2h-2zM494 264h2v2h-2zM426 266h2v2h-2zM430 266h2v2h-2zM486 266h4v2h-4zM498 266h2v2h-2zM482 268h2v2h-2zM490 268h2v2h-2zM500 268h2v2h-2zM422 270h2v2h-2zM428 270h2v2h-2zM488 270h2v2h-2zM498 270h4v2h-4zM426 272h2v2h-2zM432 272h2v2h-2zM452 292h2v2h-2zM452 294h2v2h-2zM456 296h2v2h-2zM452 298h2v2h-2zM458 298h2v2h-2z"/><path fill="#242484" d="M452 250h2v2h-2zM458 250h2v2h-2zM462 250h2v2h-2zM500 254h2v2h-2zM438 256h2v2h-2zM444 256h2v2h-2zM450 256h2v2h-2zM494 256h2v2h-2zM442 258h2v2h-2zM450 258h2v2h-2zM454 258h2v2h-2zM466 258h2v2h-2zM498 258h2v2h-2zM422 260h2v2h-2zM442 260h2v2h-2zM496 260h2v2h-2zM440 262h2v2h-2zM446 262h2v2h-2zM458 262h2v2h-2zM496 262h2v2h-2zM422 264h4v2h-4zM428 264h2v2h-2zM480 264h2v2h-2zM484 264h2v2h-2zM496 264h4v2h-4zM502 264h2v2h-2zM424 266h2v2h-2zM492 266h2v2h-2zM434 268h2v2h-2zM484 268h2v2h-2zM488 268h2v2h-2zM420 270h2v2h-2zM482 270h2v2h-2zM486 270h2v2h-2zM420 272h2v2h-2zM488 272h2v2h-2zM500 274h2v2h-2zM448 292h2v2h-2zM448 294h4v2h-4zM452 300h2v2h-2z"/><path fill="#c6c6e4" d="M478 250h2v2h-2zM446 274h2v2h-2zM470 302h2v2h-2z"/><path fill="#dedeea" d="M480 250h2v2h-2z"/><path fill="#7272c0" d="M502 250h2v2h-2zM420 256h2v2h-2zM414 258h2v2h-2zM452 268h2v2h-2z"/><path fill="#3c3ca8" d="M400 252h2v2h-2zM424 252h2v2h-2zM404 254h4v2h-4zM406 268h2v2h-2zM474 268h2v2h-2zM428 278h2v2h-2zM446 286h2v2h-2zM444 302h2v2h-2zM442 304h2v2h-2zM438 308h2v2h-2z"/><path fill="#4242a2" d="M404 252h2v2h-2zM406 262h2v2h-2zM460 268h2v2h-2zM428 280h2v2h-2z"/><path fill="#5454b4" d="M408 252h2v2h-2zM486 254h2v2h-2zM456 282h2v2h-2z"/><path fill="#7e7ecc" d="M410 252h2v2h-2zM462 314h2v2h-2z"/><path fill="#a2a2cc" d="M416 252h2v2h-2zM464 264h2v2h-2zM470 274h2v2h-2z"/><path fill="#30309c" d="M426 252h2v2h-2zM502 252h2v2h-2zM404 256h2v2h-2zM488 256h4v2h-4zM472 260h2v2h-2zM486 260h2v2h-2zM402 262h2v2h-2zM420 262h2v2h-2zM472 262h2v2h-2zM400 264h2v2h-2zM404 264h2v2h-2zM418 264h4v2h-4zM476 264h2v2h-2zM402 266h2v2h-2zM440 266h2v2h-2zM474 266h4v2h-4zM478 268h2v2h-2zM400 270h2v2h-2zM406 270h2v2h-2zM478 270h2v2h-2zM400 272h2v2h-2zM406 272h2v2h-2zM400 274h2v2h-2zM430 274h2v2h-2zM478 274h4v2h-4zM428 276h4v2h-4zM480 278h2v2h-2zM450 284h2v2h-2zM448 286h2v2h-2zM456 286h2v2h-2zM448 288h4v2h-4zM454 288h2v2h-2zM462 292h2v2h-2zM448 296h2v2h-2zM448 298h2v2h-2zM448 300h2v2h-2zM462 300h2v2h-2zM446 302h2v2h-2zM458 302h4v2h-4zM444 304h2v2h-2zM448 304h2v2h-2zM446 306h2v2h-2zM458 306h2v2h-2zM440 308h4v2h-4zM454 308h4v2h-4zM440 310h4v2h-4zM458 310h2v2h-2zM438 312h2v2h-2z"/><path fill="#303090" d="M428 252h2v2h-2zM442 266h2v2h-2zM448 266h2v2h-2zM456 266h2v2h-2zM446 292h2v2h-2zM446 294h2v2h-2zM460 294h2v2h-2z"/><path fill="#b4b4d2" d="M478 252h2v2h-2z"/><path fill="#7878c6" d="M498 252h2v2h-2zM462 304h2v2h-2z"/><path fill="#6060b4" d="M412 254h2v2h-2zM412 268h2v2h-2z"/><path fill="#9090c6" d="M420 254h2v2h-2z"/><path fill="#5454a2" d="M440 254h2v2h-2zM420 260h2v2h-2zM470 264h2v2h-2zM436 274h2v2h-2z"/><path fill="#5a5aae" d="M442 254h2v2h-2zM470 266h2v2h-2z"/><path fill="#4242a8" d="M472 254h2v2h-2zM494 254h2v2h-2zM464 290h2v2h-2zM460 306h2v2h-2z"/><path fill="#5a5aba" d="M474 254h2v2h-2zM414 266h2v2h-2z"/><path fill="#6060ae" d="M488 254h2v2h-2zM478 260h2v2h-2zM464 268h2v2h-2z"/><path fill="#3c3c96" d="M496 254h2v2h-2z"/><path fill="#2a2a8a" d="M498 254h2v2h-2zM418 268h2v2h-2zM458 290h2v2h-2zM462 298h2v2h-2z"/><path fill="#3030a2" d="M400 256h2v2h-2zM470 258h2v2h-2zM486 258h2v2h-2zM402 260h2v2h-2zM402 270h2v2h-2zM476 270h2v2h-2zM478 272h2v2h-2zM450 286h4v2h-4zM452 288h2v2h-2zM456 288h2v2h-2zM462 296h2v2h-2zM448 302h2v2h-2zM446 304h2v2h-2zM456 306h2v2h-2zM436 312h2v2h-2z"/><path fill="#6c6cc0" d="M420 258h2v2h-2zM416 260h4v2h-4zM482 260h2v2h-2zM438 272h2v2h-2z"/><path fill="#6060ba" d="M408 260h2v2h-2z"/><path fill="#6666b4" d="M410 260h2v2h-2zM460 274h2v2h-2zM426 276h2v2h-2z"/><path fill="#6c6cba" d="M412 260h2v2h-2zM446 282h2v2h-2z"/><path fill="#7272c6" d="M414 260h2v2h-2z"/><path fill="#6060a8" d="M480 260h2v2h-2zM458 268h2v2h-2z"/><path fill="#4242ae" d="M484 260h2v2h-2zM410 270h2v2h-2zM464 294h2v2h-2z"/><path fill="#9c9cd2" d="M408 262h2v2h-2zM466 270h2v2h-2zM442 274h2v2h-2z"/><path fill="#aeaede" d="M412 262h2v2h-2z"/><path fill="#5454a8" d="M414 262h2v2h-2zM470 262h2v2h-2zM462 274h2v2h-2zM458 284h2v2h-2zM458 286h2v2h-2z"/><path fill="#484896" d="M462 262h2v2h-2z"/><path fill="#a2a2d2" d="M464 262h2v2h-2zM456 268h2v2h-2zM466 302h2v2h-2z"/><path fill="#3030a8" d="M476 262h2v2h-2z"/><path fill="#a8a8de" d="M408 264h2v2h-2z"/><path fill="#4848b4" d="M406 266h2v2h-2zM444 312h2v2h-2z"/><path fill="#6666ae" d="M410 268h2v2h-2zM438 270h2v2h-2zM464 296h2v2h-2z"/><path fill="#7e7ec6" d="M442 268h2v2h-2z"/><path fill="#5a5aa8" d="M444 268h2v2h-2z"/><path fill="#6666ba" d="M472 268h2v2h-2z"/><path fill="#9090c0" d="M458 270h2v2h-2zM466 272h2v2h-2z"/><path fill="#36309c" d="M408 272h2v2h-2z"/><path fill="#4842ae" d="M410 272h2v2h-2z"/><path fill="#4e48ae" d="M414 272h2v2h-2z"/><path fill="#4842a8" d="M416 272h2v2h-2z"/><path fill="#2a2490" d="M494 272h2v2h-2z"/><path fill="#3630a2" d="M402 274h2v2h-2z"/><path fill="#3c369c" d="M406 274h2v2h-2z"/><path fill="#5a3c96" d="M408 274h2v2h-2z"/><path fill="#784278" d="M410 274h2v2h-2z"/><path fill="#664890" d="M412 274h2v2h-2z"/><path fill="#724896" d="M414 274h2v2h-2z"/><path fill="#8a3660" d="M416 274h2v2h-2z"/><path fill="#542a6c" d="M418 274h2v2h-2z"/><path fill="#302a84" d="M420 274h2v2h-2z"/><path fill="#c6c0e4" d="M444 274h2v2h-2z"/><path fill="#d2cce4" d="M452 274h2v2h-2zM448 280h2v2h-2zM438 282h2v2h-2z"/><path fill="#aeaecc" d="M454 274h2v2h-2zM460 280h2v2h-2z"/><path fill="#302a90" d="M482 274h2v2h-2z"/><path fill="#483c8a" d="M484 274h2v2h-2z"/><path fill="#906ca2" d="M486 274h2v2h-2z"/><path fill="#60489c" d="M488 274h2v2h-2z"/><path fill="#603678" d="M492 274h4v2h-4z"/><path fill="#362a8a" d="M496 274h2v2h-2z"/><path fill="#42369c" d="M402 276h2v2h-2z"/><path fill="#6c4290" d="M404 276h2v2h-2z"/><path fill="#b44e6c" d="M406 276h2v2h-2z"/><path fill="#de5a5a" d="M408 276h2v2h-2z"/><path fill="#ea605a" d="M410 276h2v2h-2zM400 280h2v2h-2zM422 284h2v2h-2zM474 292h2v2h-2z"/><path fill="#e43c3c" d="M414 276h2v2h-2z"/><path fill="#d83030" d="M416 276h2v2h-2z"/><path fill="#d8363c" d="M418 276h2v2h-2z"/><path fill="#90669c" d="M420 276h2v2h-2z"/><path fill="#8a84cc" d="M422 276h2v2h-2zM422 278h2v2h-2zM424 280h2v2h-2z"/><path fill="#eae4f6" d="M442 276h2v2h-2z"/><path fill="#c0bad2" d="M462 276h2v2h-2zM454 280h2v2h-2z"/><path fill="#d2d2d8" d="M464 276h2v2h-2z"/><path fill="#5a4896" d="M482 276h2v2h-2z"/><path fill="#d89ca2" d="M484 276h2v2h-2z"/><path fill="#f0a8a8" d="M486 276h2v2h-2zM416 294h2v2h-2zM412 300h2v2h-2z"/><path fill="#d86c72" d="M490 276h2v2h-2z"/><path fill="#de5454" d="M492 276h2v2h-2zM498 278h2v2h-2zM502 280h2v2h-2z"/><path fill="#ea5a5a" d="M494 276h2v2h-2z"/><path fill="#843c72" d="M498 276h2v2h-2z"/><path fill="#422a7e" d="M500 276h2v2h-2z"/><path fill="#7e427e" d="M400 278h2v2h-2z"/><path fill="#cc5466" d="M402 278h2v2h-2z"/><path fill="#d85454" d="M404 278h2v2h-2z"/><path fill="#f06054" d="M408 278h2v2h-2zM496 278h2v2h-2zM410 280h2v2h-2zM500 280h2v2h-2zM400 282h2v2h-2zM408 282h2v2h-2zM480 284h4v2h-4zM476 286h2v2h-2zM478 288h2v2h-2zM476 290h2v2h-2z"/><path fill="#e4544e" d="M412 278h2v2h-2z"/><path fill="#de3636" d="M418 278h2v2h-2z"/><path fill="#966690" d="M420 278h2v2h-2z"/><path fill="#ccccd8" d="M462 278h2v2h-2z"/><path fill="#6c5aa8" d="M482 278h2v2h-2z"/><path fill="#d89696" d="M484 278h2v2h-2z"/><path fill="#e4a29c" d="M486 278h2v2h-2zM492 284h2v2h-2zM496 286h2v2h-2zM422 292h2v2h-2zM420 294h2v2h-2zM484 294h2v2h-2zM414 296h2v2h-2zM418 296h2v2h-2zM416 298h2v2h-2zM414 300h2v2h-2z"/><path fill="#e49c96" d="M488 278h2v2h-2z"/><path fill="#d8545a" d="M500 278h2v2h-2z"/><path fill="#9c4866" d="M502 278h2v2h-2zM478 282h2v2h-2z"/><path fill="#de3630" d="M414 280h2v2h-2z"/><path fill="#ea3c36" d="M418 280h2v2h-2z"/><path fill="#a86c96" d="M420 280h2v2h-2z"/><path fill="#7e78c0" d="M426 280h2v2h-2z"/><path fill="#ccc6d8" d="M462 280h2v2h-2z"/><path fill="#7e78b4" d="M474 280h2v2h-2zM438 306h2v2h-2z"/><path fill="#5a489c" d="M476 280h2v2h-2z"/><path fill="#3c36a2" d="M478 280h2v2h-2z"/><path fill="#785a9c" d="M482 280h2v2h-2z"/><path fill="#f0a2a2" d="M484 280h2v2h-2z"/><path fill="#f0a8a2" d="M486 280h2v2h-2zM490 284h2v2h-2zM498 286h2v2h-2zM434 292h2v2h-2zM414 294h2v2h-2zM418 300h2v2h-2z"/><path fill="#de726c" d="M490 280h2v2h-2zM498 284h2v2h-2z"/><path fill="#de5a4e" d="M494 280h2v2h-2zM498 282h2v2h-2zM484 284h2v2h-2zM482 286h2v2h-2z"/><path fill="#e45a4e" d="M406 282h2v2h-2z"/><path fill="#f6544e" d="M410 282h2v2h-2z"/><path fill="#ea3c30" d="M416 282h2v2h-2zM406 286h2v2h-2zM416 286h2v2h-2z"/><path fill="#ba6678" d="M422 282h2v2h-2z"/><path fill="#ba9cba" d="M424 282h2v2h-2zM472 282h2v2h-2z"/><path fill="#ead2de" d="M426 282h2v2h-2z"/><path fill="#c6b4cc" d="M428 282h2v2h-2z"/><path fill="#9084ba" d="M430 282h2v2h-2z"/><path fill="#7272ba" d="M450 282h2v2h-2z"/><path fill="#cccce4" d="M464 282h2v2h-2z"/><path fill="#d8ccd8" d="M466 282h2v2h-2z"/><path fill="#ccbac6" d="M470 282h2v2h-2z"/><path fill="#c06672" d="M474 282h2v2h-2z"/><path fill="#d25a60" d="M476 282h2v2h-2z"/><path fill="#904872" d="M480 282h2v2h-2z"/><path fill="#e46060" d="M482 282h2v2h-2z"/><path fill="#f06c66" d="M484 282h2v2h-2zM416 290h2v2h-2z"/><path fill="#de847e" d="M486 282h2v2h-2zM492 282h2v2h-2z"/><path fill="#eaa29c" d="M488 282h2v2h-2zM416 292h2v2h-2z"/><path fill="#de9690" d="M490 282h2v2h-2z"/><path fill="#de6660" d="M494 282h2v2h-2z"/><path fill="#f6665a" d="M496 282h2v2h-2z"/><path fill="#f05a54" d="M404 284h4v2h-4zM476 288h2v2h-2z"/><path fill="#d84e48" d="M418 284h2v2h-2z"/><path fill="#eab4b4" d="M424 284h2v2h-2zM472 288h2v2h-2z"/><path fill="#e4aeae" d="M472 284h2v2h-2zM472 290h2v2h-2z"/><path fill="#e4605a" d="M474 284h2v2h-2zM474 288h2v2h-2z"/><path fill="#de6c60" d="M486 284h2v2h-2z"/><path fill="#d89690" d="M488 284h2v2h-2zM494 284h2v2h-2z"/><path fill="#e4908a" d="M496 284h2v2h-2zM480 292h2v2h-2z"/><path fill="#de6054" d="M500 284h2v2h-2zM474 290h2v2h-2z"/><path fill="#ea544e" d="M402 286h2v2h-2zM418 286h2v2h-2z"/><path fill="#de483c" d="M404 286h2v2h-2z"/><path fill="#f06660" d="M422 286h2v2h-2z"/><path fill="#f0bab4" d="M424 286h2v2h-2z"/><path fill="#e4d2d2" d="M430 286h2v2h-2zM434 298h2v2h-2zM434 300h2v2h-2zM434 302h2v2h-2zM434 308h2v2h-2z"/><path fill="#d2c0cc" d="M466 286h2v2h-2z"/><path fill="#e4aea8" d="M472 286h2v2h-2z"/><path fill="#de9c96" d="M488 286h2v2h-2zM494 286h2v2h-2z"/><path fill="#eaa8a2" d="M490 286h2v2h-2zM420 292h2v2h-2zM482 292h4v2h-4zM418 294h2v2h-2zM482 294h2v2h-2zM414 298h2v2h-2z"/><path fill="#fcb4a8" d="M492 286h2v2h-2zM420 296h2v2h-2zM420 298h2v2h-2z"/><path fill="#d87872" d="M502 286h2v2h-2z"/><path fill="#e43c30" d="M416 288h2v2h-2z"/><path fill="#ea6c66" d="M420 288h2v2h-2zM414 292h2v2h-2zM474 294h2v2h-2z"/><path fill="#f07e78" d="M422 288h2v2h-2z"/><path fill="#eabab4" d="M424 288h2v2h-2z"/><path fill="#d8c6cc" d="M434 288h2v2h-2zM434 310h2v2h-2z"/><path fill="#ead8d8" d="M436 288h2v2h-2z"/><path fill="#f0e4f0" d="M442 288h2v2h-2z"/><path fill="#b4aecc" d="M444 288h2v2h-2z"/><path fill="#9c96cc" d="M464 288h2v2h-2z"/><path fill="#c6bac6" d="M466 288h2v2h-2z"/><path fill="#e46c60" d="M480 288h2v2h-2z"/><path fill="#f6786c" d="M482 288h2v2h-2z"/><path fill="#e47266" d="M484 288h2v2h-2z"/><path fill="#ea908a" d="M486 288h2v2h-2z"/><path fill="#fcc6c6" d="M488 288h2v2h-2z"/><path fill="#e4b4ae" d="M490 288h2v2h-2z"/><path fill="#f0b4b4" d="M492 288h2v2h-2z"/><path fill="#dea29c" d="M496 288h2v2h-2zM422 294h2v2h-2zM422 300h2v2h-2z"/><path fill="#f6aea8" d="M498 288h2v2h-2zM422 290h2v2h-2zM484 290h2v2h-2zM432 292h2v2h-2zM412 296h2v2h-2zM412 298h2v2h-2zM416 302h6v2h-6zM420 304h2v2h-2z"/><path fill="#f0aea8" d="M500 288h2v2h-2zM420 300h2v2h-2z"/><path fill="#fca8a2" d="M418 290h2v2h-2z"/><path fill="#f6a8a2" d="M420 290h2v2h-2z"/><path fill="#deb4b4" d="M424 290h2v2h-2z"/><path fill="#f0d2d2" d="M426 290h2v2h-2z"/><path fill="#fcd8d8" d="M430 290h2v2h-2zM424 300h2v2h-2z"/><path fill="#f0cccc" d="M438 290h2v2h-2z"/><path fill="#c0aecc" d="M444 290h2v2h-2zM444 292h2v2h-2zM466 294h2v2h-2z"/><path fill="#3c3cae" d="M460 290h2v2h-2zM446 308h2v2h-2z"/><path fill="#b4a2ba" d="M466 290h2v2h-2z"/><path fill="#de5a54" d="M478 290h2v2h-2zM476 294h2v2h-2z"/><path fill="#f0a89c" d="M482 290h2v2h-2z"/><path fill="#eac0c0" d="M486 290h2v2h-2z"/><path fill="#d8ccd2" d="M494 290h2v2h-2z"/><path fill="#e4c0c0" d="M500 290h2v2h-2zM486 292h2v2h-2z"/><path fill="#e4b4b4" d="M424 292h2v2h-2z"/><path fill="#eaccc6" d="M430 292h2v2h-2z"/><path fill="#eac6c6" d="M438 292h2v2h-2zM486 294h2v2h-2z"/><path fill="#dec6cc" d="M442 292h2v2h-2zM468 294h2v2h-2z"/><path fill="#fcc0c0" d="M472 292h2v2h-2z"/><path fill="#e46c66" d="M412 294h2v2h-2zM410 296h2v2h-2z"/><path fill="#dec0ba" d="M430 294h2v2h-2z"/><path fill="#f0b4ae" d="M432 294h2v2h-2z"/><path fill="#f6c0c0" d="M472 294h2v2h-2z"/><path fill="#de605a" d="M478 294h2v2h-2z"/><path fill="#d89090" d="M480 294h2v2h-2z"/><path fill="#f6f0f6" d="M488 294h2v2h-2zM488 298h2v2h-2z"/><path fill="#fcb4ae" d="M416 296h2v2h-2z"/><path fill="#f6b4a8" d="M422 296h2v2h-2zM418 298h2v2h-2zM416 300h2v2h-2z"/><path fill="#fcccc6" d="M424 296h2v2h-2z"/><path fill="#f6d2d2" d="M432 296h2v2h-2z"/><path fill="#fcd2cc" d="M434 296h2v2h-2z"/><path fill="#c6c0c0" d="M438 296h2v2h-2z"/><path fill="#d2cccc" d="M440 296h2v2h-2zM436 300h2v2h-2z"/><path fill="#c0b4c6" d="M442 296h2v2h-2z"/><path fill="#bab4cc" d="M468 296h2v2h-2z"/><path fill="#ccc0d2" d="M470 296h2v2h-2z"/><path fill="#f0d2d8" d="M474 296h2v2h-2z"/><path fill="#eab4ba" d="M476 296h2v2h-2z"/><path fill="#e4c0c6" d="M478 296h2v2h-2z"/><path fill="#deaeae" d="M484 296h2v2h-2z"/><path fill="#dec0c0" d="M486 296h2v2h-2z"/><path fill="#eac0ba" d="M424 298h2v2h-2z"/><path fill="#d2ccd2" d="M438 298h2v2h-2zM438 302h2v2h-2z"/><path fill="#ccccd2" d="M440 298h2v2h-2z"/><path fill="#8a8ac6" d="M464 298h2v2h-2zM464 302h2v2h-2z"/><path fill="#ccc6e4" d="M470 298h2v2h-2z"/><path fill="#f0dee4" d="M486 298h2v2h-2z"/><path fill="#ded8de" d="M438 300h2v2h-2z"/><path fill="#d2ccd8" d="M440 300h2v2h-2zM440 302h2v2h-2zM438 304h2v2h-2z"/><path fill="#a29cc0" d="M442 300h2v2h-2z"/><path fill="#eab4ae" d="M422 302h2v2h-2z"/><path fill="#ccc0c6" d="M436 302h2v2h-2zM436 306h2v2h-2z"/><path fill="#7872b4" d="M442 302h2v2h-2z"/><path fill="#5a5ab4" d="M462 302h2v2h-2z"/><path fill="#ccc6cc" d="M436 304h2v2h-2z"/><path fill="#847eba" d="M440 304h2v2h-2z"/><path fill="#7878c0" d="M462 306h2v2h-2zM462 308h2v2h-2zM462 310h2v2h-2zM462 312h2v2h-2z"/><path fill="#dedef0" d="M472 306h2v2h-2z"/><path fill="#908aba" d="M436 308h2v2h-2z"/><path fill="#9090d8" d="M474 312h2v2h-2z"/><path fill="#4242b4" d="M458 314h4v2h-4z"/></g><rect x="400" y="225" width="104" height="92" filter="url(#tex)" opacity="0.12"/><rect x="400" y="225" width="104" height="92" filter="url(#tex2)" opacity="0.15"/></g>
<text x="429.8" y="258.2" font-size="4.0" font-weight="bold" text-anchor="middle" fill="#fff">K65</text>
<text x="439.4" y="259.2" font-size="4.0" font-weight="bold" text-anchor="middle" fill="#fff">K66</text>
<text x="450.2" y="260.2" font-size="4.0" font-weight="bold" text-anchor="middle" fill="#fff">R22</text>
<text x="456.9" y="252.5" font-size="4.0" font-weight="bold" text-anchor="middle" fill="#fff">K31</text>
<text x="470.2" y="251.5" font-size="4.0" font-weight="bold" text-anchor="middle" fill="#fff">R49</text>
<text x="463.5" y="259.2" font-size="4.0" font-weight="bold" text-anchor="middle" fill="#fff">K46</text>
<text x="437.5" y="266.9" font-size="4.0" font-weight="bold" text-anchor="middle" fill="#fff">K62</text>
<text x="461.5" y="268.8" font-size="4.0" font-weight="bold" text-anchor="middle" fill="#fff">R20</text>
<text x="428.8" y="275.5" font-size="4.0" font-weight="bold" text-anchor="middle" fill="#fff">K61</text>
<text x="108.40" y="444.10" font-size="8.25" text-anchor="middle" fill="#222" >rAb binding to immobilised biotin-PF4</text>
<line x1="122.52" y1="450" x2="122.52" y2="548.0" stroke="#b8b8c8" stroke-width="0.6" stroke-dasharray="1,1"/>
<path d="M31.50,547.20 L182.70,547.20" fill="none" stroke="#6a5a78" stroke-width="1.7" stroke-linejoin="round"/>
<path d="M31.50,547.20 L32.00,546.11 L32.51,545.01 L33.01,543.92 L33.52,542.83 L34.02,541.74 L34.52,540.64 L35.03,539.55 L35.53,538.46 L36.04,537.37 L36.54,536.28 L37.04,535.19 L37.55,534.11 L38.05,533.04 L38.56,531.98 L39.06,530.94 L39.56,529.94 L40.07,528.97 L40.57,528.06 L41.08,527.22 L41.58,526.46 L42.08,525.78 L42.59,525.20 L43.09,524.71 L43.60,524.30 L44.10,523.96 L44.60,523.69 L45.11,523.48 L45.61,523.31 L46.12,523.17 L46.62,523.07 L47.12,522.98 L47.63,522.92 L48.13,522.86 L48.64,522.82 L49.14,522.79 L49.64,522.76 L50.15,522.74 L50.65,522.72 L51.16,522.71 L51.66,522.70 L52.16,522.69 L52.67,522.68 L53.17,522.67 L53.68,522.67 L54.18,522.66 L54.68,522.66 L55.19,522.65 L55.69,522.65 L56.20,522.65 L56.70,522.65 L57.20,522.64 L57.71,522.64 L58.21,522.64 L58.72,522.64 L59.22,522.64 L59.72,522.64 L60.23,522.64 L60.73,522.64 L61.24,522.64 L61.74,522.64 L62.24,522.64 L62.75,522.64 L63.25,522.64 L63.76,522.64 L64.26,522.64 L64.76,522.64 L65.27,522.64 L65.77,522.63 L66.28,522.63 L66.78,522.63 L67.28,522.63 L67.79,522.63 L68.29,522.63 L68.80,522.63 L69.30,522.63 L69.80,522.63 L70.31,522.63 L70.81,522.63 L71.32,522.63 L71.82,522.63 L72.32,522.63 L72.83,522.63 L73.33,522.63 L73.84,522.63 L74.34,522.63 L74.84,522.63 L75.35,522.63 L75.85,522.63 L76.36,522.63 L76.86,522.63 L77.36,522.63 L77.87,522.63 L78.37,522.63 L78.88,522.63 L79.38,522.63 L79.88,522.63 L80.39,522.63 L80.89,522.63 L81.40,522.63 L81.90,522.63 L82.40,522.63 L82.91,522.63 L83.41,522.63 L83.92,522.63 L84.42,522.63 L84.92,522.63 L85.43,522.63 L85.93,522.63 L86.44,522.63 L86.94,522.63 L87.44,522.63 L87.95,522.63 L88.45,522.63 L88.96,522.63 L89.46,522.63 L89.96,522.63 L90.47,522.63 L90.97,522.63 L91.48,522.63 L91.98,522.63 L92.48,522.63 L92.99,522.63 L93.49,522.63 L94.00,522.63 L94.50,522.63 L95.00,522.63 L95.51,522.63 L96.01,522.63 L96.52,522.63 L97.02,522.63 L97.52,522.63 L98.03,522.63 L98.53,522.63 L99.04,522.63 L99.54,522.63 L100.04,522.63 L100.55,522.63 L101.05,522.63 L101.56,522.63 L102.06,522.63 L102.56,522.63 L103.07,522.63 L103.57,522.63 L104.08,522.63 L104.58,522.63 L105.08,522.63 L105.59,522.63 L106.09,522.63 L106.60,522.63 L107.10,522.63 L107.60,522.63 L108.11,522.63 L108.61,522.63 L109.12,522.63 L109.62,522.63 L110.12,522.63 L110.63,522.63 L111.13,522.63 L111.64,522.63 L112.14,522.63 L112.64,522.63 L113.15,522.63 L113.65,522.63 L114.16,522.63 L114.66,522.63 L115.16,522.63 L115.67,522.63 L116.17,522.63 L116.68,522.63 L117.18,522.63 L117.68,522.63 L118.19,522.63 L118.69,522.63 L119.20,522.63 L119.70,522.63 L120.20,522.63 L120.71,522.63 L121.21,522.63 L121.72,522.63 L122.22,522.63 L122.72,524.73 L123.23,526.35 L123.73,527.63 L124.24,528.63 L124.74,529.44 L125.24,530.10 L125.75,530.64 L126.25,531.09 L126.76,531.48 L127.26,531.82 L127.76,532.12 L128.27,532.40 L128.77,532.64 L129.28,532.87 L129.78,533.09 L130.28,533.29 L130.79,533.49 L131.29,533.67 L131.80,533.85 L132.30,534.02 L132.80,534.19 L133.31,534.35 L133.81,534.51 L134.32,534.67 L134.82,534.82 L135.32,534.97 L135.83,535.11 L136.33,535.25 L136.84,535.39 L137.34,535.53 L137.84,535.66 L138.35,535.79 L138.85,535.92 L139.36,536.04 L139.86,536.16 L140.36,536.28 L140.87,536.40 L141.37,536.52 L141.88,536.63 L142.38,536.74 L142.88,536.85 L143.39,536.95 L143.89,537.06 L144.40,537.16 L144.90,537.26 L145.40,537.35 L145.91,537.45 L146.41,537.54 L146.92,537.64 L147.42,537.73 L147.92,537.81 L148.43,537.90 L148.93,537.99 L149.44,538.07 L149.94,538.15 L150.44,538.23 L150.95,538.31 L151.45,538.39 L151.96,538.46 L152.46,538.53 L152.96,538.61 L153.47,538.68 L153.97,538.75 L154.48,538.81 L154.98,538.88 L155.48,538.95 L155.99,539.01 L156.49,539.07 L157.00,539.13 L157.50,539.19 L158.00,539.25 L158.51,539.31 L159.01,539.37 L159.52,539.42 L160.02,539.48 L160.52,539.53 L161.03,539.58 L161.53,539.63 L162.04,539.68 L162.54,539.73 L163.04,539.78 L163.55,539.83 L164.05,539.87 L164.56,539.92 L165.06,539.96 L165.56,540.01 L166.07,540.05 L166.57,540.09 L167.08,540.13 L167.58,540.17 L168.08,540.21 L168.59,540.25 L169.09,540.29 L169.60,540.32 L170.10,540.36 L170.60,540.40 L171.11,540.43 L171.61,540.47 L172.12,540.50 L172.62,540.53 L173.12,540.56 L173.63,540.60 L174.13,540.63 L174.64,540.66 L175.14,540.69 L175.64,540.72 L176.15,540.74 L176.65,540.77 L177.16,540.80 L177.66,540.83 L178.16,540.85 L178.67,540.88 L179.17,540.90 L179.68,540.93 L180.18,540.95 L180.68,540.98 L181.19,541.00 L181.69,541.02 L182.20,541.04 L182.70,541.07" fill="none" stroke="#e8a030" stroke-width="1.1" stroke-linejoin="round"/>
<path d="M31.50,547.20 L32.00,541.01 L32.51,539.85 L33.01,539.29 L33.52,538.77 L34.02,538.27 L34.52,537.79 L35.03,537.34 L35.53,536.91 L36.04,536.50 L36.54,536.11 L37.04,535.74 L37.55,535.39 L38.05,535.06 L38.56,534.74 L39.06,534.44 L39.56,534.15 L40.07,533.88 L40.57,533.61 L41.08,533.37 L41.58,533.13 L42.08,532.91 L42.59,532.70 L43.09,532.49 L43.60,532.30 L44.10,532.12 L44.60,531.94 L45.11,531.78 L45.61,531.62 L46.12,531.47 L46.62,531.33 L47.12,531.19 L47.63,531.07 L48.13,530.94 L48.64,530.83 L49.14,530.72 L49.64,530.61 L50.15,530.51 L50.65,530.41 L51.16,530.32 L51.66,530.24 L52.16,530.16 L52.67,530.08 L53.17,530.00 L53.68,529.93 L54.18,529.87 L54.68,529.80 L55.19,529.74 L55.69,529.69 L56.20,529.63 L56.70,529.58 L57.20,529.53 L57.71,529.48 L58.21,529.44 L58.72,529.39 L59.22,529.35 L59.72,529.32 L60.23,529.28 L60.73,529.24 L61.24,529.21 L61.74,529.18 L62.24,529.15 L62.75,529.12 L63.25,529.09 L63.76,529.07 L64.26,529.04 L64.76,529.02 L65.27,529.00 L65.77,528.98 L66.28,528.96 L66.78,528.94 L67.28,528.92 L67.79,528.90 L68.29,528.89 L68.80,528.87 L69.30,528.86 L69.80,528.84 L70.31,528.83 L70.81,528.81 L71.32,528.80 L71.82,528.79 L72.32,528.78 L72.83,528.77 L73.33,528.76 L73.84,528.75 L74.34,528.74 L74.84,528.73 L75.35,528.72 L75.85,528.72 L76.36,528.71 L76.86,528.70 L77.36,528.70 L77.87,528.69 L78.37,528.68 L78.88,528.68 L79.38,528.67 L79.88,528.67 L80.39,528.66 L80.89,528.66 L81.40,528.65 L81.90,528.65 L82.40,528.65 L82.91,528.64 L83.41,528.64 L83.92,528.63 L84.42,528.63 L84.92,528.63 L85.43,528.62 L85.93,528.62 L86.44,528.62 L86.94,528.62 L87.44,528.61 L87.95,528.61 L88.45,528.61 L88.96,528.61 L89.46,528.61 L89.96,528.60 L90.47,528.60 L90.97,528.60 L91.48,528.60 L91.98,528.60 L92.48,528.60 L92.99,528.59 L93.49,528.59 L94.00,528.59 L94.50,528.59 L95.00,528.59 L95.51,528.59 L96.01,528.59 L96.52,528.59 L97.02,528.59 L97.52,528.58 L98.03,528.58 L98.53,528.58 L99.04,528.58 L99.54,528.58 L100.04,528.58 L100.55,528.58 L101.05,528.58 L101.56,528.58 L102.06,528.58 L102.56,528.58 L103.07,528.58 L103.57,528.58 L104.08,528.58 L104.58,528.58 L105.08,528.58 L105.59,528.57 L106.09,528.57 L106.60,528.57 L107.10,528.57 L107.60,528.57 L108.11,528.57 L108.61,528.57 L109.12,528.57 L109.62,528.57 L110.12,528.57 L110.63,528.57 L111.13,528.57 L111.64,528.57 L112.14,528.57 L112.64,528.57 L113.15,528.57 L113.65,528.57 L114.16,528.57 L114.66,528.57 L115.16,528.57 L115.67,528.57 L116.17,528.57 L116.68,528.57 L117.18,528.57 L117.68,528.57 L118.19,528.57 L118.69,528.57 L119.20,528.57 L119.70,528.57 L120.20,528.57 L120.71,528.57 L121.21,528.57 L121.72,528.57 L122.22,528.57 L122.72,529.98 L123.23,531.01 L123.73,531.77 L124.24,532.35 L124.74,532.81 L125.24,533.17 L125.75,533.47 L126.25,533.73 L126.76,533.95 L127.26,534.15 L127.76,534.34 L128.27,534.51 L128.77,534.68 L129.28,534.83 L129.78,534.98 L130.28,535.13 L130.79,535.27 L131.29,535.40 L131.80,535.54 L132.30,535.67 L132.80,535.79 L133.31,535.92 L133.81,536.04 L134.32,536.16 L134.82,536.27 L135.32,536.39 L135.83,536.50 L136.33,536.61 L136.84,536.72 L137.34,536.82 L137.84,536.92 L138.35,537.02 L138.85,537.12 L139.36,537.22 L139.86,537.31 L140.36,537.41 L140.87,537.50 L141.37,537.59 L141.88,537.67 L142.38,537.76 L142.88,537.84 L143.39,537.92 L143.89,538.00 L144.40,538.08 L144.90,538.16 L145.40,538.23 L145.91,538.31 L146.41,538.38 L146.92,538.45 L147.42,538.52 L147.92,538.59 L148.43,538.66 L148.93,538.72 L149.44,538.78 L149.94,538.85 L150.44,538.91 L150.95,538.97 L151.45,539.03 L151.96,539.09 L152.46,539.14 L152.96,539.20 L153.47,539.25 L153.97,539.30 L154.48,539.36 L154.98,539.41 L155.48,539.46 L155.99,539.51 L156.49,539.55 L157.00,539.60 L157.50,539.65 L158.00,539.69 L158.51,539.74 L159.01,539.78 L159.52,539.82 L160.02,539.86 L160.52,539.90 L161.03,539.94 L161.53,539.98 L162.04,540.02 L162.54,540.06 L163.04,540.09 L163.55,540.13 L164.05,540.17 L164.56,540.20 L165.06,540.23 L165.56,540.27 L166.07,540.30 L166.57,540.33 L167.08,540.36 L167.58,540.39 L168.08,540.42 L168.59,540.45 L169.09,540.48 L169.60,540.51 L170.10,540.54 L170.60,540.56 L171.11,540.59 L171.61,540.61 L172.12,540.64 L172.62,540.66 L173.12,540.69 L173.63,540.71 L174.13,540.74 L174.64,540.76 L175.14,540.78 L175.64,540.80 L176.15,540.82 L176.65,540.84 L177.16,540.87 L177.66,540.89 L178.16,540.90 L178.67,540.92 L179.17,540.94 L179.68,540.96 L180.18,540.98 L180.68,541.00 L181.19,541.02 L181.69,541.03 L182.20,541.05 L182.70,541.07" fill="none" stroke="#1f5590" stroke-width="1.1" stroke-linejoin="round"/>
<path d="M31.50,547.20 L32.00,544.52 L32.51,541.84 L33.01,539.16 L33.52,536.48 L34.02,533.80 L34.52,531.12 L35.03,528.44 L35.53,525.77 L36.04,523.11 L36.54,520.46 L37.04,517.84 L37.55,515.27 L38.05,512.79 L38.56,510.44 L39.06,508.25 L39.56,506.29 L40.07,504.58 L40.57,503.15 L41.08,501.98 L41.58,501.07 L42.08,500.36 L42.59,499.82 L43.09,499.41 L43.60,499.10 L44.10,498.87 L44.60,498.70 L45.11,498.57 L45.61,498.47 L46.12,498.39 L46.62,498.34 L47.12,498.29 L47.63,498.25 L48.13,498.22 L48.64,498.20 L49.14,498.18 L49.64,498.17 L50.15,498.15 L50.65,498.14 L51.16,498.13 L51.66,498.13 L52.16,498.12 L52.67,498.11 L53.17,498.11 L53.68,498.10 L54.18,498.10 L54.68,498.09 L55.19,498.09 L55.69,498.09 L56.20,498.08 L56.70,498.08 L57.20,498.08 L57.71,498.07 L58.21,498.07 L58.72,498.07 L59.22,498.06 L59.72,498.06 L60.23,498.06 L60.73,498.06 L61.24,498.05 L61.74,498.05 L62.24,498.05 L62.75,498.05 L63.25,498.04 L63.76,498.04 L64.26,498.04 L64.76,498.04 L65.27,498.03 L65.77,498.03 L66.28,498.03 L66.78,498.03 L67.28,498.02 L67.79,498.02 L68.29,498.02 L68.80,498.02 L69.30,498.02 L69.80,498.01 L70.31,498.01 L70.81,498.01 L71.32,498.01 L71.82,498.00 L72.32,498.00 L72.83,498.00 L73.33,498.00 L73.84,498.00 L74.34,497.99 L74.84,497.99 L75.35,497.99 L75.85,497.99 L76.36,497.98 L76.86,497.98 L77.36,497.98 L77.87,497.98 L78.37,497.98 L78.88,497.97 L79.38,497.97 L79.88,497.97 L80.39,497.97 L80.89,497.96 L81.40,497.96 L81.90,497.96 L82.40,497.96 L82.91,497.96 L83.41,497.95 L83.92,497.95 L84.42,497.95 L84.92,497.95 L85.43,497.94 L85.93,497.94 L86.44,497.94 L86.94,497.94 L87.44,497.94 L87.95,497.93 L88.45,497.93 L88.96,497.93 L89.46,497.93 L89.96,497.92 L90.47,497.92 L90.97,497.92 L91.48,497.92 L91.98,497.92 L92.48,497.91 L92.99,497.91 L93.49,497.91 L94.00,497.91 L94.50,497.91 L95.00,497.90 L95.51,497.90 L96.01,497.90 L96.52,497.90 L97.02,497.89 L97.52,497.89 L98.03,497.89 L98.53,497.89 L99.04,497.89 L99.54,497.88 L100.04,497.88 L100.55,497.88 L101.05,497.88 L101.56,497.88 L102.06,497.87 L102.56,497.87 L103.07,497.87 L103.57,497.87 L104.08,497.87 L104.58,497.86 L105.08,497.86 L105.59,497.86 L106.09,497.86 L106.60,497.85 L107.10,497.85 L107.60,497.85 L108.11,497.85 L108.61,497.85 L109.12,497.84 L109.62,497.84 L110.12,497.84 L110.63,497.84 L111.13,497.84 L111.64,497.83 L112.14,497.83 L112.64,497.83 L113.15,497.83 L113.65,497.83 L114.16,497.82 L114.66,497.82 L115.16,497.82 L115.67,497.82 L116.17,497.82 L116.68,497.81 L117.18,497.81 L117.68,497.81 L118.19,497.81 L118.69,497.81 L119.20,497.80 L119.70,497.80 L120.20,497.80 L120.71,497.80 L121.21,497.79 L121.72,497.79 L122.22,497.79 L122.72,499.61 L123.23,501.10 L123.73,502.34 L124.24,503.38 L124.74,504.25 L125.24,505.01 L125.75,505.67 L126.25,506.25 L126.76,506.76 L127.26,507.24 L127.76,507.67 L128.27,508.07 L128.77,508.44 L129.28,508.80 L129.78,509.14 L130.28,509.46 L130.79,509.77 L131.29,510.08 L131.80,510.37 L132.30,510.66 L132.80,510.94 L133.31,511.21 L133.81,511.47 L134.32,511.74 L134.82,511.99 L135.32,512.25 L135.83,512.49 L136.33,512.74 L136.84,512.98 L137.34,513.21 L137.84,513.45 L138.35,513.67 L138.85,513.90 L139.36,514.12 L139.86,514.34 L140.36,514.55 L140.87,514.77 L141.37,514.97 L141.88,515.18 L142.38,515.38 L142.88,515.58 L143.39,515.78 L143.89,515.97 L144.40,516.16 L144.90,516.35 L145.40,516.53 L145.91,516.71 L146.41,516.89 L146.92,517.07 L147.42,517.24 L147.92,517.42 L148.43,517.58 L148.93,517.75 L149.44,517.91 L149.94,518.08 L150.44,518.23 L150.95,518.39 L151.45,518.54 L151.96,518.70 L152.46,518.85 L152.96,518.99 L153.47,519.14 L153.97,519.28 L154.48,519.42 L154.98,519.56 L155.48,519.70 L155.99,519.83 L156.49,519.96 L157.00,520.09 L157.50,520.22 L158.00,520.35 L158.51,520.47 L159.01,520.60 L159.52,520.72 L160.02,520.84 L160.52,520.96 L161.03,521.07 L161.53,521.19 L162.04,521.30 L162.54,521.41 L163.04,521.52 L163.55,521.62 L164.05,521.73 L164.56,521.83 L165.06,521.94 L165.56,522.04 L166.07,522.14 L166.57,522.24 L167.08,522.33 L167.58,522.43 L168.08,522.52 L168.59,522.61 L169.09,522.70 L169.60,522.79 L170.10,522.88 L170.60,522.97 L171.11,523.05 L171.61,523.14 L172.12,523.22 L172.62,523.30 L173.12,523.38 L173.63,523.46 L174.13,523.54 L174.64,523.62 L175.14,523.69 L175.64,523.77 L176.15,523.84 L176.65,523.92 L177.16,523.99 L177.66,524.06 L178.16,524.13 L178.67,524.20 L179.17,524.26 L179.68,524.33 L180.18,524.39 L180.68,524.46 L181.19,524.52 L181.69,524.58 L182.20,524.65 L182.70,524.71" fill="none" stroke="#a89cd0" stroke-width="1.1" stroke-linejoin="round"/>
<path d="M31.50,547.20 L32.00,545.05 L32.51,543.17 L33.01,541.50 L33.52,539.98 L34.02,538.59 L34.52,537.31 L35.03,536.09 L35.53,534.94 L36.04,533.84 L36.54,532.77 L37.04,531.73 L37.55,530.72 L38.05,529.73 L38.56,528.75 L39.06,527.79 L39.56,526.84 L40.07,525.90 L40.57,524.98 L41.08,524.06 L41.58,523.15 L42.08,522.26 L42.59,521.37 L43.09,520.49 L43.60,519.63 L44.10,518.77 L44.60,517.93 L45.11,517.10 L45.61,516.28 L46.12,515.48 L46.62,514.68 L47.12,513.91 L47.63,513.14 L48.13,512.39 L48.64,511.66 L49.14,510.94 L49.64,510.24 L50.15,509.55 L50.65,508.88 L51.16,508.23 L51.66,507.59 L52.16,506.97 L52.67,506.36 L53.17,505.78 L53.68,505.20 L54.18,504.65 L54.68,504.11 L55.19,503.59 L55.69,503.08 L56.20,502.59 L56.70,502.12 L57.20,501.66 L57.71,501.22 L58.21,500.79 L58.72,500.37 L59.22,499.97 L59.72,499.59 L60.23,499.21 L60.73,498.85 L61.24,498.51 L61.74,498.17 L62.24,497.85 L62.75,497.54 L63.25,497.24 L63.76,496.95 L64.26,496.67 L64.76,496.40 L65.27,496.14 L65.77,495.89 L66.28,495.65 L66.78,495.42 L67.28,495.20 L67.79,494.98 L68.29,494.78 L68.80,494.58 L69.30,494.39 L69.80,494.20 L70.31,494.02 L70.81,493.85 L71.32,493.69 L71.82,493.53 L72.32,493.38 L72.83,493.23 L73.33,493.09 L73.84,492.95 L74.34,492.82 L74.84,492.69 L75.35,492.57 L75.85,492.45 L76.36,492.33 L76.86,492.22 L77.36,492.12 L77.87,492.01 L78.37,491.92 L78.88,491.82 L79.38,491.73 L79.88,491.64 L80.39,491.55 L80.89,491.47 L81.40,491.39 L81.90,491.31 L82.40,491.23 L82.91,491.16 L83.41,491.09 L83.92,491.02 L84.42,490.96 L84.92,490.89 L85.43,490.83 L85.93,490.77 L86.44,490.72 L86.94,490.66 L87.44,490.61 L87.95,490.55 L88.45,490.50 L88.96,490.45 L89.46,490.40 L89.96,490.36 L90.47,490.31 L90.97,490.27 L91.48,490.23 L91.98,490.19 L92.48,490.15 L92.99,490.11 L93.49,490.07 L94.00,490.04 L94.50,490.00 L95.00,489.97 L95.51,489.93 L96.01,489.90 L96.52,489.87 L97.02,489.84 L97.52,489.81 L98.03,489.78 L98.53,489.75 L99.04,489.73 L99.54,489.70 L100.04,489.67 L100.55,489.65 L101.05,489.62 L101.56,489.60 L102.06,489.58 L102.56,489.55 L103.07,489.53 L103.57,489.51 L104.08,489.49 L104.58,489.47 L105.08,489.45 L105.59,489.43 L106.09,489.41 L106.60,489.39 L107.10,489.38 L107.60,489.36 L108.11,489.34 L108.61,489.33 L109.12,489.31 L109.62,489.29 L110.12,489.28 L110.63,489.26 L111.13,489.25 L111.64,489.23 L112.14,489.22 L112.64,489.21 L113.15,489.19 L113.65,489.18 L114.16,489.17 L114.66,489.16 L115.16,489.14 L115.67,489.13 L116.17,489.12 L116.68,489.11 L117.18,489.10 L117.68,489.09 L118.19,489.08 L118.69,489.07 L119.20,489.06 L119.70,489.05 L120.20,489.04 L120.71,489.03 L121.21,489.02 L121.72,489.01 L122.22,489.00 L122.72,490.90 L123.23,492.40 L123.73,493.60 L124.24,494.55 L124.74,495.31 L125.24,495.93 L125.75,496.43 L126.25,496.85 L126.76,497.19 L127.26,497.48 L127.76,497.73 L128.27,497.94 L128.77,498.13 L129.28,498.29 L129.78,498.44 L130.28,498.58 L130.79,498.71 L131.29,498.83 L131.80,498.95 L132.30,499.06 L132.80,499.17 L133.31,499.27 L133.81,499.37 L134.32,499.47 L134.82,499.57 L135.32,499.67 L135.83,499.76 L136.33,499.86 L136.84,499.95 L137.34,500.05 L137.84,500.14 L138.35,500.24 L138.85,500.33 L139.36,500.42 L139.86,500.51 L140.36,500.60 L140.87,500.70 L141.37,500.79 L141.88,500.88 L142.38,500.97 L142.88,501.06 L143.39,501.15 L143.89,501.24 L144.40,501.33 L144.90,501.42 L145.40,501.51 L145.91,501.60 L146.41,501.69 L146.92,501.77 L147.42,501.86 L147.92,501.95 L148.43,502.04 L148.93,502.13 L149.44,502.21 L149.94,502.30 L150.44,502.39 L150.95,502.48 L151.45,502.56 L151.96,502.65 L152.46,502.74 L152.96,502.82 L153.47,502.91 L153.97,502.99 L154.48,503.08 L154.98,503.16 L155.48,503.25 L155.99,503.33 L156.49,503.42 L157.00,503.50 L157.50,503.59 L158.00,503.67 L158.51,503.76 L159.01,503.84 L159.52,503.92 L160.02,504.01 L160.52,504.09 L161.03,504.17 L161.53,504.26 L162.04,504.34 L162.54,504.42 L163.04,504.50 L163.55,504.58 L164.05,504.67 L164.56,504.75 L165.06,504.83 L165.56,504.91 L166.07,504.99 L166.57,505.07 L167.08,505.15 L167.58,505.23 L168.08,505.31 L168.59,505.39 L169.09,505.47 L169.60,505.55 L170.10,505.63 L170.60,505.71 L171.11,505.79 L171.61,505.87 L172.12,505.95 L172.62,506.03 L173.12,506.11 L173.63,506.18 L174.13,506.26 L174.64,506.34 L175.14,506.42 L175.64,506.50 L176.15,506.57 L176.65,506.65 L177.16,506.73 L177.66,506.80 L178.16,506.88 L178.67,506.96 L179.17,507.03 L179.68,507.11 L180.18,507.18 L180.68,507.26 L181.19,507.34 L181.69,507.41 L182.20,507.49 L182.70,507.56" fill="none" stroke="#3aa83a" stroke-width="1.1" stroke-linejoin="round"/>
<path d="M31.50,547.20 L32.00,545.58 L32.51,543.95 L33.01,542.33 L33.52,540.71 L34.02,539.08 L34.52,537.46 L35.03,535.83 L35.53,534.21 L36.04,532.59 L36.54,530.97 L37.04,529.34 L37.55,527.72 L38.05,526.11 L38.56,524.49 L39.06,522.89 L39.56,521.29 L40.07,519.70 L40.57,518.14 L41.08,516.59 L41.58,515.09 L42.08,513.62 L42.59,512.22 L43.09,510.87 L43.60,509.61 L44.10,508.43 L44.60,507.35 L45.11,506.38 L45.61,505.50 L46.12,504.73 L46.62,504.05 L47.12,503.47 L47.63,502.96 L48.13,502.53 L48.64,502.15 L49.14,501.83 L49.64,501.56 L50.15,501.32 L50.65,501.11 L51.16,500.93 L51.66,500.77 L52.16,500.63 L52.67,500.50 L53.17,500.38 L53.68,500.28 L54.18,500.18 L54.68,500.09 L55.19,500.00 L55.69,499.92 L56.20,499.84 L56.70,499.77 L57.20,499.70 L57.71,499.63 L58.21,499.56 L58.72,499.50 L59.22,499.44 L59.72,499.37 L60.23,499.31 L60.73,499.25 L61.24,499.19 L61.74,499.13 L62.24,499.08 L62.75,499.02 L63.25,498.96 L63.76,498.91 L64.26,498.85 L64.76,498.79 L65.27,498.74 L65.77,498.68 L66.28,498.63 L66.78,498.57 L67.28,498.52 L67.79,498.46 L68.29,498.41 L68.80,498.35 L69.30,498.30 L69.80,498.25 L70.31,498.19 L70.81,498.14 L71.32,498.09 L71.82,498.03 L72.32,497.98 L72.83,497.92 L73.33,497.87 L73.84,497.82 L74.34,497.77 L74.84,497.71 L75.35,497.66 L75.85,497.61 L76.36,497.55 L76.86,497.50 L77.36,497.45 L77.87,497.40 L78.37,497.34 L78.88,497.29 L79.38,497.24 L79.88,497.19 L80.39,497.13 L80.89,497.08 L81.40,497.03 L81.90,496.98 L82.40,496.92 L82.91,496.87 L83.41,496.82 L83.92,496.77 L84.42,496.72 L84.92,496.66 L85.43,496.61 L85.93,496.56 L86.44,496.51 L86.94,496.46 L87.44,496.41 L87.95,496.36 L88.45,496.30 L88.96,496.25 L89.46,496.20 L89.96,496.15 L90.47,496.10 L90.97,496.05 L91.48,496.00 L91.98,495.95 L92.48,495.89 L92.99,495.84 L93.49,495.79 L94.00,495.74 L94.50,495.69 L95.00,495.64 L95.51,495.59 L96.01,495.54 L96.52,495.49 L97.02,495.44 L97.52,495.39 L98.03,495.34 L98.53,495.29 L99.04,495.24 L99.54,495.19 L100.04,495.14 L100.55,495.09 L101.05,495.04 L101.56,494.99 L102.06,494.94 L102.56,494.89 L103.07,494.84 L103.57,494.79 L104.08,494.74 L104.58,494.69 L105.08,494.64 L105.59,494.59 L106.09,494.54 L106.60,494.49 L107.10,494.44 L107.60,494.39 L108.11,494.34 L108.61,494.29 L109.12,494.24 L109.62,494.19 L110.12,494.14 L110.63,494.09 L111.13,494.04 L111.64,493.99 L112.14,493.94 L112.64,493.90 L113.15,493.85 L113.65,493.80 L114.16,493.75 L114.66,493.70 L115.16,493.65 L115.67,493.60 L116.17,493.55 L116.68,493.51 L117.18,493.46 L117.68,493.41 L118.19,493.36 L118.69,493.31 L119.20,493.26 L119.70,493.22 L120.20,493.17 L120.71,493.12 L121.21,493.07 L121.72,493.02 L122.22,492.97 L122.72,493.31 L123.23,493.62 L123.73,493.92 L124.24,494.19 L124.74,494.45 L125.24,494.70 L125.75,494.93 L126.25,495.15 L126.76,495.35 L127.26,495.55 L127.76,495.73 L128.27,495.90 L128.77,496.07 L129.28,496.23 L129.78,496.38 L130.28,496.52 L130.79,496.66 L131.29,496.79 L131.80,496.92 L132.30,497.04 L132.80,497.15 L133.31,497.26 L133.81,497.37 L134.32,497.48 L134.82,497.58 L135.32,497.68 L135.83,497.77 L136.33,497.87 L136.84,497.96 L137.34,498.04 L137.84,498.13 L138.35,498.21 L138.85,498.30 L139.36,498.38 L139.86,498.46 L140.36,498.53 L140.87,498.61 L141.37,498.68 L141.88,498.76 L142.38,498.83 L142.88,498.90 L143.39,498.97 L143.89,499.04 L144.40,499.11 L144.90,499.18 L145.40,499.25 L145.91,499.31 L146.41,499.38 L146.92,499.45 L147.42,499.51 L147.92,499.58 L148.43,499.64 L148.93,499.70 L149.44,499.77 L149.94,499.83 L150.44,499.89 L150.95,499.96 L151.45,500.02 L151.96,500.08 L152.46,500.14 L152.96,500.20 L153.47,500.26 L153.97,500.32 L154.48,500.38 L154.98,500.44 L155.48,500.50 L155.99,500.56 L156.49,500.62 L157.00,500.68 L157.50,500.74 L158.00,500.80 L158.51,500.85 L159.01,500.91 L159.52,500.97 L160.02,501.03 L160.52,501.08 L161.03,501.14 L161.53,501.20 L162.04,501.26 L162.54,501.31 L163.04,501.37 L163.55,501.43 L164.05,501.48 L164.56,501.54 L165.06,501.59 L165.56,501.65 L166.07,501.71 L166.57,501.76 L167.08,501.82 L167.58,501.87 L168.08,501.93 L168.59,501.98 L169.09,502.04 L169.60,502.09 L170.10,502.15 L170.60,502.20 L171.11,502.26 L171.61,502.31 L172.12,502.36 L172.62,502.42 L173.12,502.47 L173.63,502.53 L174.13,502.58 L174.64,502.63 L175.14,502.69 L175.64,502.74 L176.15,502.79 L176.65,502.85 L177.16,502.90 L177.66,502.95 L178.16,503.00 L178.67,503.06 L179.17,503.11 L179.68,503.16 L180.18,503.21 L180.68,503.26 L181.19,503.32 L181.69,503.37 L182.20,503.42 L182.70,503.47" fill="none" stroke="#5a4030" stroke-width="1.1" stroke-linejoin="round"/>
<path d="M31.50,547.20 L32.00,544.71 L32.51,542.22 L33.01,539.73 L33.52,537.24 L34.02,534.75 L34.52,532.26 L35.03,529.77 L35.53,527.28 L36.04,524.79 L36.54,522.30 L37.04,519.81 L37.55,517.33 L38.05,514.86 L38.56,512.40 L39.06,509.97 L39.56,507.56 L40.07,505.19 L40.57,502.88 L41.08,500.65 L41.58,498.53 L42.08,496.52 L42.59,494.66 L43.09,492.96 L43.60,491.44 L44.10,490.10 L44.60,488.93 L45.11,487.94 L45.61,487.10 L46.12,486.40 L46.62,485.82 L47.12,485.34 L47.63,484.95 L48.13,484.62 L48.64,484.35 L49.14,484.12 L49.64,483.93 L50.15,483.78 L50.65,483.64 L51.16,483.53 L51.66,483.43 L52.16,483.34 L52.67,483.27 L53.17,483.20 L53.68,483.14 L54.18,483.09 L54.68,483.04 L55.19,482.99 L55.69,482.95 L56.20,482.91 L56.70,482.87 L57.20,482.83 L57.71,482.80 L58.21,482.77 L58.72,482.73 L59.22,482.70 L59.72,482.67 L60.23,482.64 L60.73,482.61 L61.24,482.59 L61.74,482.56 L62.24,482.53 L62.75,482.50 L63.25,482.48 L63.76,482.45 L64.26,482.42 L64.76,482.40 L65.27,482.37 L65.77,482.34 L66.28,482.32 L66.78,482.29 L67.28,482.27 L67.79,482.24 L68.29,482.22 L68.80,482.19 L69.30,482.17 L69.80,482.14 L70.31,482.12 L70.81,482.09 L71.32,482.07 L71.82,482.04 L72.32,482.02 L72.83,481.99 L73.33,481.97 L73.84,481.94 L74.34,481.92 L74.84,481.89 L75.35,481.87 L75.85,481.84 L76.36,481.82 L76.86,481.80 L77.36,481.77 L77.87,481.75 L78.37,481.72 L78.88,481.70 L79.38,481.67 L79.88,481.65 L80.39,481.63 L80.89,481.60 L81.40,481.58 L81.90,481.55 L82.40,481.53 L82.91,481.50 L83.41,481.48 L83.92,481.46 L84.42,481.43 L84.92,481.41 L85.43,481.38 L85.93,481.36 L86.44,481.34 L86.94,481.31 L87.44,481.29 L87.95,481.27 L88.45,481.24 L88.96,481.22 L89.46,481.19 L89.96,481.17 L90.47,481.15 L90.97,481.12 L91.48,481.10 L91.98,481.08 L92.48,481.05 L92.99,481.03 L93.49,481.00 L94.00,480.98 L94.50,480.96 L95.00,480.93 L95.51,480.91 L96.01,480.89 L96.52,480.86 L97.02,480.84 L97.52,480.82 L98.03,480.79 L98.53,480.77 L99.04,480.75 L99.54,480.72 L100.04,480.70 L100.55,480.68 L101.05,480.65 L101.56,480.63 L102.06,480.61 L102.56,480.58 L103.07,480.56 L103.57,480.54 L104.08,480.52 L104.58,480.49 L105.08,480.47 L105.59,480.45 L106.09,480.42 L106.60,480.40 L107.10,480.38 L107.60,480.35 L108.11,480.33 L108.61,480.31 L109.12,480.29 L109.62,480.26 L110.12,480.24 L110.63,480.22 L111.13,480.20 L111.64,480.17 L112.14,480.15 L112.64,480.13 L113.15,480.10 L113.65,480.08 L114.16,480.06 L114.66,480.04 L115.16,480.01 L115.67,479.99 L116.17,479.97 L116.68,479.95 L117.18,479.92 L117.68,479.90 L118.19,479.88 L118.69,479.86 L119.20,479.83 L119.70,479.81 L120.20,479.79 L120.71,479.77 L121.21,479.75 L121.72,479.72 L122.22,479.70 L122.72,481.64 L123.23,483.02 L123.73,484.04 L124.24,484.82 L124.74,485.43 L125.24,485.93 L125.75,486.37 L126.25,486.75 L126.76,487.09 L127.26,487.42 L127.76,487.72 L128.27,488.02 L128.77,488.30 L129.28,488.58 L129.78,488.85 L130.28,489.11 L130.79,489.37 L131.29,489.63 L131.80,489.88 L132.30,490.13 L132.80,490.37 L133.31,490.61 L133.81,490.85 L134.32,491.09 L134.82,491.32 L135.32,491.55 L135.83,491.77 L136.33,491.99 L136.84,492.21 L137.34,492.43 L137.84,492.64 L138.35,492.85 L138.85,493.06 L139.36,493.26 L139.86,493.46 L140.36,493.66 L140.87,493.86 L141.37,494.05 L141.88,494.24 L142.38,494.43 L142.88,494.61 L143.39,494.79 L143.89,494.98 L144.40,495.15 L144.90,495.33 L145.40,495.50 L145.91,495.67 L146.41,495.84 L146.92,496.01 L147.42,496.17 L147.92,496.33 L148.43,496.49 L148.93,496.65 L149.44,496.80 L149.94,496.96 L150.44,497.11 L150.95,497.25 L151.45,497.40 L151.96,497.55 L152.46,497.69 L152.96,497.83 L153.47,497.97 L153.97,498.10 L154.48,498.24 L154.98,498.37 L155.48,498.50 L155.99,498.63 L156.49,498.76 L157.00,498.89 L157.50,499.01 L158.00,499.13 L158.51,499.26 L159.01,499.37 L159.52,499.49 L160.02,499.61 L160.52,499.72 L161.03,499.84 L161.53,499.95 L162.04,500.06 L162.54,500.16 L163.04,500.27 L163.55,500.38 L164.05,500.48 L164.56,500.58 L165.06,500.68 L165.56,500.78 L166.07,500.88 L166.57,500.98 L167.08,501.07 L167.58,501.17 L168.08,501.26 L168.59,501.35 L169.09,501.44 L169.60,501.53 L170.10,501.62 L170.60,501.71 L171.11,501.79 L171.61,501.88 L172.12,501.96 L172.62,502.04 L173.12,502.13 L173.63,502.21 L174.13,502.28 L174.64,502.36 L175.14,502.44 L175.64,502.51 L176.15,502.59 L176.65,502.66 L177.16,502.73 L177.66,502.81 L178.16,502.88 L178.67,502.95 L179.17,503.02 L179.68,503.08 L180.18,503.15 L180.68,503.22 L181.19,503.28 L181.69,503.34 L182.20,503.41 L182.70,503.47" fill="none" stroke="#f0a030" stroke-width="1.1" stroke-linejoin="round"/>
<path d="M31.50,547.20 L32.00,543.87 L32.51,540.55 L33.01,537.24 L33.52,533.93 L34.02,530.62 L34.52,527.32 L35.03,524.02 L35.53,520.73 L36.04,517.44 L36.54,514.17 L37.04,510.91 L37.55,507.68 L38.05,504.49 L38.56,501.35 L39.06,498.30 L39.56,495.36 L40.07,492.58 L40.57,490.00 L41.08,487.65 L41.58,485.55 L42.08,483.73 L42.59,482.17 L43.09,480.85 L43.60,479.76 L44.10,478.84 L44.60,478.09 L45.11,477.45 L45.61,476.91 L46.12,476.46 L46.62,476.06 L47.12,475.71 L47.63,475.40 L48.13,475.12 L48.64,474.86 L49.14,474.62 L49.64,474.39 L50.15,474.18 L50.65,473.98 L51.16,473.79 L51.66,473.60 L52.16,473.43 L52.67,473.25 L53.17,473.09 L53.68,472.92 L54.18,472.77 L54.68,472.61 L55.19,472.46 L55.69,472.31 L56.20,472.17 L56.70,472.03 L57.20,471.89 L57.71,471.75 L58.21,471.61 L58.72,471.48 L59.22,471.35 L59.72,471.23 L60.23,471.10 L60.73,470.98 L61.24,470.86 L61.74,470.74 L62.24,470.62 L62.75,470.51 L63.25,470.39 L63.76,470.28 L64.26,470.17 L64.76,470.06 L65.27,469.96 L65.77,469.85 L66.28,469.75 L66.78,469.65 L67.28,469.55 L67.79,469.45 L68.29,469.36 L68.80,469.26 L69.30,469.17 L69.80,469.08 L70.31,468.98 L70.81,468.90 L71.32,468.81 L71.82,468.72 L72.32,468.64 L72.83,468.55 L73.33,468.47 L73.84,468.39 L74.34,468.31 L74.84,468.23 L75.35,468.16 L75.85,468.08 L76.36,468.01 L76.86,467.93 L77.36,467.86 L77.87,467.79 L78.37,467.72 L78.88,467.65 L79.38,467.58 L79.88,467.51 L80.39,467.45 L80.89,467.38 L81.40,467.32 L81.90,467.26 L82.40,467.20 L82.91,467.14 L83.41,467.08 L83.92,467.02 L84.42,466.96 L84.92,466.90 L85.43,466.85 L85.93,466.79 L86.44,466.74 L86.94,466.68 L87.44,466.63 L87.95,466.58 L88.45,466.53 L88.96,466.48 L89.46,466.43 L89.96,466.38 L90.47,466.33 L90.97,466.28 L91.48,466.24 L91.98,466.19 L92.48,466.15 L92.99,466.10 L93.49,466.06 L94.00,466.02 L94.50,465.97 L95.00,465.93 L95.51,465.89 L96.01,465.85 L96.52,465.81 L97.02,465.77 L97.52,465.73 L98.03,465.70 L98.53,465.66 L99.04,465.62 L99.54,465.59 L100.04,465.55 L100.55,465.52 L101.05,465.48 L101.56,465.45 L102.06,465.42 L102.56,465.38 L103.07,465.35 L103.57,465.32 L104.08,465.29 L104.58,465.26 L105.08,465.23 L105.59,465.20 L106.09,465.17 L106.60,465.14 L107.10,465.11 L107.60,465.08 L108.11,465.06 L108.61,465.03 L109.12,465.00 L109.62,464.98 L110.12,464.95 L110.63,464.92 L111.13,464.90 L111.64,464.87 L112.14,464.85 L112.64,464.83 L113.15,464.80 L113.65,464.78 L114.16,464.76 L114.66,464.73 L115.16,464.71 L115.67,464.69 L116.17,464.67 L116.68,464.65 L117.18,464.63 L117.68,464.61 L118.19,464.59 L118.69,464.57 L119.20,464.55 L119.70,464.53 L120.20,464.51 L120.71,464.49 L121.21,464.47 L121.72,464.46 L122.22,464.44 L122.72,465.59 L123.23,466.65 L123.73,467.61 L124.24,468.50 L124.74,469.31 L125.24,470.06 L125.75,470.74 L126.25,471.38 L126.76,471.96 L127.26,472.49 L127.76,472.99 L128.27,473.45 L128.77,473.87 L129.28,474.27 L129.78,474.63 L130.28,474.98 L130.79,475.29 L131.29,475.59 L131.80,475.87 L132.30,476.13 L132.80,476.38 L133.31,476.61 L133.81,476.83 L134.32,477.03 L134.82,477.23 L135.32,477.42 L135.83,477.59 L136.33,477.76 L136.84,477.92 L137.34,478.08 L137.84,478.23 L138.35,478.37 L138.85,478.51 L139.36,478.64 L139.86,478.77 L140.36,478.90 L140.87,479.02 L141.37,479.14 L141.88,479.25 L142.38,479.37 L142.88,479.48 L143.39,479.58 L143.89,479.69 L144.40,479.79 L144.90,479.89 L145.40,479.99 L145.91,480.09 L146.41,480.19 L146.92,480.28 L147.42,480.38 L147.92,480.47 L148.43,480.56 L148.93,480.66 L149.44,480.75 L149.94,480.83 L150.44,480.92 L150.95,481.01 L151.45,481.10 L151.96,481.18 L152.46,481.27 L152.96,481.35 L153.47,481.44 L153.97,481.52 L154.48,481.60 L154.98,481.68 L155.48,481.76 L155.99,481.85 L156.49,481.93 L157.00,482.01 L157.50,482.09 L158.00,482.17 L158.51,482.24 L159.01,482.32 L159.52,482.40 L160.02,482.48 L160.52,482.55 L161.03,482.63 L161.53,482.71 L162.04,482.78 L162.54,482.86 L163.04,482.93 L163.55,483.01 L164.05,483.08 L164.56,483.16 L165.06,483.23 L165.56,483.30 L166.07,483.38 L166.57,483.45 L167.08,483.52 L167.58,483.59 L168.08,483.67 L168.59,483.74 L169.09,483.81 L169.60,483.88 L170.10,483.95 L170.60,484.02 L171.11,484.09 L171.61,484.16 L172.12,484.23 L172.62,484.30 L173.12,484.36 L173.63,484.43 L174.13,484.50 L174.64,484.57 L175.14,484.64 L175.64,484.70 L176.15,484.77 L176.65,484.84 L177.16,484.90 L177.66,484.97 L178.16,485.03 L178.67,485.10 L179.17,485.16 L179.68,485.23 L180.18,485.29 L180.68,485.36 L181.19,485.42 L181.69,485.48 L182.20,485.55 L182.70,485.61" fill="none" stroke="#3aaee0" stroke-width="1.1" stroke-linejoin="round"/>
<path d="M31.50,547.20 L32.00,543.22 L32.51,539.25 L33.01,535.27 L33.52,531.30 L34.02,527.32 L34.52,523.35 L35.03,519.39 L35.53,515.42 L36.04,511.47 L36.54,507.54 L37.04,503.64 L37.55,499.80 L38.05,496.06 L38.56,492.45 L39.06,489.05 L39.56,485.92 L40.07,483.11 L40.57,480.67 L41.08,478.60 L41.58,476.90 L42.08,475.53 L42.59,474.44 L43.09,473.58 L43.60,472.89 L44.10,472.35 L44.60,471.91 L45.11,471.56 L45.61,471.26 L46.12,471.01 L46.62,470.79 L47.12,470.60 L47.63,470.42 L48.13,470.27 L48.64,470.12 L49.14,469.99 L49.64,469.86 L50.15,469.74 L50.65,469.62 L51.16,469.51 L51.66,469.40 L52.16,469.30 L52.67,469.19 L53.17,469.09 L53.68,468.99 L54.18,468.89 L54.68,468.80 L55.19,468.70 L55.69,468.61 L56.20,468.52 L56.70,468.43 L57.20,468.34 L57.71,468.25 L58.21,468.16 L58.72,468.08 L59.22,467.99 L59.72,467.91 L60.23,467.82 L60.73,467.74 L61.24,467.66 L61.74,467.58 L62.24,467.50 L62.75,467.42 L63.25,467.34 L63.76,467.26 L64.26,467.18 L64.76,467.11 L65.27,467.03 L65.77,466.95 L66.28,466.88 L66.78,466.81 L67.28,466.73 L67.79,466.66 L68.29,466.59 L68.80,466.52 L69.30,466.45 L69.80,466.38 L70.31,466.31 L70.81,466.24 L71.32,466.17 L71.82,466.11 L72.32,466.04 L72.83,465.97 L73.33,465.91 L73.84,465.84 L74.34,465.78 L74.84,465.72 L75.35,465.65 L75.85,465.59 L76.36,465.53 L76.86,465.47 L77.36,465.41 L77.87,465.35 L78.37,465.29 L78.88,465.23 L79.38,465.17 L79.88,465.11 L80.39,465.06 L80.89,465.00 L81.40,464.94 L81.90,464.89 L82.40,464.83 L82.91,464.78 L83.41,464.73 L83.92,464.67 L84.42,464.62 L84.92,464.57 L85.43,464.51 L85.93,464.46 L86.44,464.41 L86.94,464.36 L87.44,464.31 L87.95,464.26 L88.45,464.21 L88.96,464.16 L89.46,464.11 L89.96,464.07 L90.47,464.02 L90.97,463.97 L91.48,463.93 L91.98,463.88 L92.48,463.83 L92.99,463.79 L93.49,463.74 L94.00,463.70 L94.50,463.66 L95.00,463.61 L95.51,463.57 L96.01,463.53 L96.52,463.48 L97.02,463.44 L97.52,463.40 L98.03,463.36 L98.53,463.32 L99.04,463.28 L99.54,463.24 L100.04,463.20 L100.55,463.16 L101.05,463.12 L101.56,463.08 L102.06,463.04 L102.56,463.01 L103.07,462.97 L103.57,462.93 L104.08,462.89 L104.58,462.86 L105.08,462.82 L105.59,462.79 L106.09,462.75 L106.60,462.71 L107.10,462.68 L107.60,462.65 L108.11,462.61 L108.61,462.58 L109.12,462.54 L109.62,462.51 L110.12,462.48 L110.63,462.45 L111.13,462.41 L111.64,462.38 L112.14,462.35 L112.64,462.32 L113.15,462.29 L113.65,462.26 L114.16,462.23 L114.66,462.20 L115.16,462.17 L115.67,462.14 L116.17,462.11 L116.68,462.08 L117.18,462.05 L117.68,462.02 L118.19,461.99 L118.69,461.96 L119.20,461.94 L119.70,461.91 L120.20,461.88 L120.71,461.85 L121.21,461.83 L121.72,461.80 L122.22,461.77 L122.72,462.92 L123.23,463.96 L123.73,464.92 L124.24,465.81 L124.74,466.62 L125.24,467.36 L125.75,468.05 L126.25,468.68 L126.76,469.26 L127.26,469.80 L127.76,470.30 L128.27,470.76 L128.77,471.18 L129.28,471.58 L129.78,471.95 L130.28,472.29 L130.79,472.61 L131.29,472.91 L131.80,473.19 L132.30,473.45 L132.80,473.69 L133.31,473.92 L133.81,474.14 L134.32,474.35 L134.82,474.54 L135.32,474.72 L135.83,474.90 L136.33,475.07 L136.84,475.23 L137.34,475.38 L137.84,475.52 L138.35,475.66 L138.85,475.80 L139.36,475.93 L139.86,476.05 L140.36,476.18 L140.87,476.29 L141.37,476.41 L141.88,476.52 L142.38,476.63 L142.88,476.73 L143.39,476.83 L143.89,476.94 L144.40,477.03 L144.90,477.13 L145.40,477.23 L145.91,477.32 L146.41,477.41 L146.92,477.50 L147.42,477.59 L147.92,477.68 L148.43,477.77 L148.93,477.85 L149.44,477.94 L149.94,478.02 L150.44,478.10 L150.95,478.19 L151.45,478.27 L151.96,478.35 L152.46,478.43 L152.96,478.51 L153.47,478.59 L153.97,478.67 L154.48,478.75 L154.98,478.82 L155.48,478.90 L155.99,478.98 L156.49,479.05 L157.00,479.13 L157.50,479.20 L158.00,479.28 L158.51,479.35 L159.01,479.43 L159.52,479.50 L160.02,479.57 L160.52,479.65 L161.03,479.72 L161.53,479.79 L162.04,479.87 L162.54,479.94 L163.04,480.01 L163.55,480.08 L164.05,480.15 L164.56,480.22 L165.06,480.29 L165.56,480.36 L166.07,480.43 L166.57,480.50 L167.08,480.57 L167.58,480.64 L168.08,480.71 L168.59,480.78 L169.09,480.84 L169.60,480.91 L170.10,480.98 L170.60,481.05 L171.11,481.11 L171.61,481.18 L172.12,481.25 L172.62,481.31 L173.12,481.38 L173.63,481.45 L174.13,481.51 L174.64,481.58 L175.14,481.64 L175.64,481.71 L176.15,481.77 L176.65,481.84 L177.16,481.90 L177.66,481.97 L178.16,482.03 L178.67,482.09 L179.17,482.16 L179.68,482.22 L180.18,482.28 L180.68,482.34 L181.19,482.41 L181.69,482.47 L182.20,482.53 L182.70,482.59" fill="none" stroke="#b0203a" stroke-width="1.4" stroke-linejoin="round"/>
<path d="M31.50,547.20 L32.00,543.22 L32.51,539.25 L33.01,535.27 L33.52,531.30 L34.02,527.32 L34.52,523.35 L35.03,519.39 L35.53,515.42 L36.04,511.47 L36.54,507.54 L37.04,503.64 L37.55,499.80 L38.05,496.06 L38.56,492.45 L39.06,489.05 L39.56,485.92 L40.07,483.11 L40.57,480.67 L41.08,478.60 L41.58,476.90 L42.08,475.53 L42.59,474.44 L43.09,473.58 L43.60,472.89 L44.10,472.35 L44.60,471.91 L45.11,471.56 L45.61,471.26 L46.12,471.01 L46.62,470.79 L47.12,470.60 L47.63,470.42 L48.13,470.27 L48.64,470.12 L49.14,469.99 L49.64,469.86 L50.15,469.74 L50.65,469.62 L51.16,469.51 L51.66,469.40 L52.16,469.30 L52.67,469.19 L53.17,469.09 L53.68,468.99 L54.18,468.89 L54.68,468.80 L55.19,468.70 L55.69,468.61 L56.20,468.52 L56.70,468.43 L57.20,468.34 L57.71,468.25 L58.21,468.16 L58.72,468.08 L59.22,467.99 L59.72,467.91 L60.23,467.82 L60.73,467.74 L61.24,467.66 L61.74,467.58 L62.24,467.50 L62.75,467.42 L63.25,467.34 L63.76,467.26 L64.26,467.18 L64.76,467.11 L65.27,467.03 L65.77,466.95 L66.28,466.88 L66.78,466.81 L67.28,466.73 L67.79,466.66 L68.29,466.59 L68.80,466.52 L69.30,466.45 L69.80,466.38 L70.31,466.31 L70.81,466.24 L71.32,466.17 L71.82,466.11 L72.32,466.04 L72.83,465.97 L73.33,465.91 L73.84,465.84 L74.34,465.78 L74.84,465.72 L75.35,465.65 L75.85,465.59 L76.36,465.53 L76.86,465.47 L77.36,465.41 L77.87,465.35 L78.37,465.29 L78.88,465.23 L79.38,465.17 L79.88,465.11 L80.39,465.06 L80.89,465.00 L81.40,464.94 L81.90,464.89 L82.40,464.83 L82.91,464.78 L83.41,464.73 L83.92,464.67 L84.42,464.62 L84.92,464.57 L85.43,464.51 L85.93,464.46 L86.44,464.41 L86.94,464.36 L87.44,464.31 L87.95,464.26 L88.45,464.21 L88.96,464.16 L89.46,464.11 L89.96,464.07 L90.47,464.02 L90.97,463.97 L91.48,463.93 L91.98,463.88 L92.48,463.83 L92.99,463.79 L93.49,463.74 L94.00,463.70 L94.50,463.66 L95.00,463.61 L95.51,463.57 L96.01,463.53 L96.52,463.48 L97.02,463.44 L97.52,463.40 L98.03,463.36 L98.53,463.32 L99.04,463.28 L99.54,463.24 L100.04,463.20 L100.55,463.16 L101.05,463.12 L101.56,463.08 L102.06,463.04 L102.56,463.01 L103.07,462.97 L103.57,462.93 L104.08,462.89 L104.58,462.86 L105.08,462.82 L105.59,462.79 L106.09,462.75 L106.60,462.71 L107.10,462.68 L107.60,462.65 L108.11,462.61 L108.61,462.58 L109.12,462.54 L109.62,462.51 L110.12,462.48 L110.63,462.45 L111.13,462.41 L111.64,462.38 L112.14,462.35 L112.64,462.32 L113.15,462.29 L113.65,462.26 L114.16,462.23 L114.66,462.20 L115.16,462.17 L115.67,462.14 L116.17,462.11 L116.68,462.08 L117.18,462.05 L117.68,462.02 L118.19,461.99 L118.69,461.96 L119.20,461.94 L119.70,461.91 L120.20,461.88 L120.71,461.85 L121.21,461.83 L121.72,461.80 L122.22,461.77 L122.72,462.92 L123.23,463.96 L123.73,464.92 L124.24,465.81 L124.74,466.62 L125.24,467.36 L125.75,468.05 L126.25,468.68 L126.76,469.26 L127.26,469.80 L127.76,470.30 L128.27,470.76 L128.77,471.18 L129.28,471.58 L129.78,471.95 L130.28,472.29 L130.79,472.61 L131.29,472.91 L131.80,473.19 L132.30,473.45 L132.80,473.69 L133.31,473.92 L133.81,474.14 L134.32,474.35 L134.82,474.54 L135.32,474.72 L135.83,474.90 L136.33,475.07 L136.84,475.23 L137.34,475.38 L137.84,475.52 L138.35,475.66 L138.85,475.80 L139.36,475.93 L139.86,476.05 L140.36,476.18 L140.87,476.29 L141.37,476.41 L141.88,476.52 L142.38,476.63 L142.88,476.73 L143.39,476.83 L143.89,476.94 L144.40,477.03 L144.90,477.13 L145.40,477.23 L145.91,477.32 L146.41,477.41 L146.92,477.50 L147.42,477.59 L147.92,477.68 L148.43,477.77 L148.93,477.85 L149.44,477.94 L149.94,478.02 L150.44,478.10 L150.95,478.19 L151.45,478.27 L151.96,478.35 L152.46,478.43 L152.96,478.51 L153.47,478.59 L153.97,478.67 L154.48,478.75 L154.98,478.82 L155.48,478.90 L155.99,478.98 L156.49,479.05 L157.00,479.13 L157.50,479.20 L158.00,479.28 L158.51,479.35 L159.01,479.43 L159.52,479.50 L160.02,479.57 L160.52,479.65 L161.03,479.72 L161.53,479.79 L162.04,479.87 L162.54,479.94 L163.04,480.01 L163.55,480.08 L164.05,480.15 L164.56,480.22 L165.06,480.29 L165.56,480.36 L166.07,480.43 L166.57,480.50 L167.08,480.57 L167.58,480.64 L168.08,480.71 L168.59,480.78 L169.09,480.84 L169.60,480.91 L170.10,480.98 L170.60,481.05 L171.11,481.11 L171.61,481.18 L172.12,481.25 L172.62,481.31 L173.12,481.38 L173.63,481.45 L174.13,481.51 L174.64,481.58 L175.14,481.64 L175.64,481.71 L176.15,481.77 L176.65,481.84 L177.16,481.90 L177.66,481.97 L178.16,482.03 L178.67,482.09 L179.17,482.16 L179.68,482.22 L180.18,482.28 L180.68,482.34 L181.19,482.41 L181.69,482.47 L182.20,482.53 L182.70,482.59" fill="none" stroke="#7a2a2a" stroke-width="1.2" stroke-linejoin="round"/>
<path d="M31.5,451.32 L31.5,551.2 M31.5,548.0 L184.0,548.0" fill="none" stroke="#222" stroke-width="1.1"/>
<text x="24.10" y="549.80" font-size="6.6" text-anchor="middle" fill="#333" >0</text>
<text x="24.10" y="534.07" font-size="6.6" text-anchor="middle" fill="#333" >1</text>
<text x="24.10" y="518.34" font-size="6.6" text-anchor="middle" fill="#333" >2</text>
<text x="24.10" y="502.61" font-size="6.6" text-anchor="middle" fill="#333" >3</text>
<text x="24.10" y="486.88" font-size="6.6" text-anchor="middle" fill="#333" >4</text>
<text x="24.10" y="471.15" font-size="6.6" text-anchor="middle" fill="#333" >5</text>
<text x="24.10" y="455.42" font-size="6.6" text-anchor="middle" fill="#333" >6</text>
<text x="31.50" y="559.80" font-size="6.6" text-anchor="middle" fill="#333" >0</text>
<text x="81.90" y="559.80" font-size="6.6" text-anchor="middle" fill="#333" >500</text>
<text x="132.30" y="559.80" font-size="6.6" text-anchor="middle" fill="#333" >1000</text>
<text x="182.70" y="559.80" font-size="6.6" text-anchor="middle" fill="#333" >1500</text>
<path d="M28.9,547.20 L31.5,547.20 M28.9,531.47 L31.5,531.47 M28.9,515.74 L31.5,515.74 M28.9,500.01 L31.5,500.01 M28.9,484.28 L31.5,484.28 M28.9,468.55 L31.5,468.55 M28.9,452.82 L31.5,452.82 M31.50,548.0 L31.50,550.2 M81.90,548.0 L81.90,550.2 M132.30,548.0 L132.30,550.2 M182.70,548.0 L182.70,550.2" stroke="#222" stroke-width="0.8"/>
<text x="108.7" y="571.0" font-size="7.6" text-anchor="middle" fill="#333" textLength="23.3" lengthAdjust="spacingAndGlyphs">Time (s)</text>
<text transform="translate(16.9,499.6) rotate(-90)" font-size="8.4" text-anchor="middle" fill="#333" textLength="71" lengthAdjust="spacingAndGlyphs">Ab binding (shift in nm)</text>
<line x1="192" y1="472.9" x2="198.9" y2="472.9" stroke="#8a6a4a" stroke-width="0.9"/>
<text x="201.30" y="475.10" font-size="6.2" text-anchor="start" fill="#333" >CR22051</text>
<line x1="192" y1="480.2" x2="198.9" y2="480.2" stroke="#a8283e" stroke-width="0.9"/>
<text x="201.30" y="482.40" font-size="6.2" text-anchor="start" fill="#333" >CR22050</text>
<line x1="192" y1="487.4" x2="198.9" y2="487.4" stroke="#5ab4d8" stroke-width="0.9"/>
<text x="201.30" y="489.60" font-size="6.2" text-anchor="start" fill="#333" >CR22066</text>
<line x1="192" y1="502.0" x2="198.9" y2="502.0" stroke="#dcb080" stroke-width="0.9"/>
<text x="201.30" y="504.20" font-size="6.2" text-anchor="start" fill="#333" >CR22046</text>
<line x1="192" y1="508.5" x2="198.9" y2="508.5" stroke="#6a5a4c" stroke-width="0.9"/>
<text x="201.30" y="510.70" font-size="6.2" text-anchor="start" fill="#333" >KKO</text>
<line x1="192" y1="514.9" x2="198.9" y2="514.9" stroke="#7cc07c" stroke-width="0.9"/>
<text x="201.30" y="517.10" font-size="6.2" text-anchor="start" fill="#333" >CR22045</text>
<line x1="192" y1="525.5" x2="198.9" y2="525.5" stroke="#b2aad8" stroke-width="0.9"/>
<text x="201.30" y="527.70" font-size="6.2" text-anchor="start" fill="#333" >CR22091</text>
<line x1="192" y1="535.5" x2="198.9" y2="535.5" stroke="#e0ae70" stroke-width="0.9"/>
<text x="201.30" y="537.70" font-size="6.2" text-anchor="start" fill="#333" >CR22044</text>
<line x1="192" y1="543.2" x2="198.9" y2="543.2" stroke="#3a7ab0" stroke-width="0.9"/>
<text x="201.30" y="545.40" font-size="6.2" text-anchor="start" fill="#333" >CR22042</text>
<line x1="192" y1="550.0" x2="198.9" y2="550.0" stroke="#2a2a40" stroke-width="0.9"/>
<text x="201.30" y="552.20" font-size="6.2" text-anchor="start" fill="#333" >CR22047</text>
<text x="394.80" y="443.90" font-size="8.12" text-anchor="middle" fill="#222" >Effect of UFH and PF4 mutants on binding to immobilised rAbs</text>
<rect x="278.88" y="495.40" width="3.0" height="30.00" fill="#123f7c"/>
<rect x="288.20" y="525.10" width="3.0" height="0.30" fill="#3aa546"/>
<rect x="292.86" y="519.70" width="3.0" height="5.70" fill="#e0147a"/>
<rect x="305.11" y="495.40" width="3.0" height="30.00" fill="#123f7c"/>
<rect x="319.09" y="517.00" width="3.0" height="8.40" fill="#e0147a"/>
<rect x="323.75" y="523.30" width="3.0" height="2.10" fill="#5a3412"/>
<rect x="331.34" y="495.40" width="3.0" height="30.00" fill="#123f7c"/>
<rect x="340.66" y="524.80" width="3.0" height="0.60" fill="#3aa546"/>
<rect x="345.32" y="502.60" width="3.0" height="22.80" fill="#e0147a"/>
<rect x="349.98" y="520.30" width="3.0" height="5.10" fill="#5a3412"/>
<rect x="357.57" y="495.40" width="3.0" height="30.00" fill="#123f7c"/>
<rect x="362.23" y="523.90" width="3.0" height="1.50" fill="#f4b41a"/>
<rect x="366.89" y="520.90" width="3.0" height="4.50" fill="#3aa546"/>
<rect x="371.55" y="502.00" width="3.0" height="23.40" fill="#e0147a"/>
<rect x="376.21" y="519.10" width="3.0" height="6.30" fill="#5a3412"/>
<rect x="383.80" y="495.40" width="3.0" height="30.00" fill="#123f7c"/>
<rect x="388.46" y="521.80" width="3.0" height="3.60" fill="#f4b41a"/>
<rect x="393.12" y="523.30" width="3.0" height="2.10" fill="#3aa546"/>
<rect x="397.78" y="500.20" width="3.0" height="25.20" fill="#e0147a"/>
<rect x="402.44" y="520.90" width="3.0" height="4.50" fill="#5a3412"/>
<rect x="410.03" y="495.40" width="3.0" height="30.00" fill="#123f7c"/>
<rect x="414.69" y="513.10" width="3.0" height="12.30" fill="#f4b41a"/>
<rect x="419.35" y="518.50" width="3.0" height="6.90" fill="#3aa546"/>
<rect x="424.01" y="502.60" width="3.0" height="22.80" fill="#e0147a"/>
<rect x="428.67" y="517.00" width="3.0" height="8.40" fill="#5a3412"/>
<rect x="436.26" y="495.40" width="3.0" height="30.00" fill="#123f7c"/>
<rect x="440.92" y="517.90" width="3.0" height="7.50" fill="#f4b41a"/>
<rect x="445.58" y="519.10" width="3.0" height="6.30" fill="#3aa546"/>
<rect x="450.24" y="503.20" width="3.0" height="22.20" fill="#e0147a"/>
<rect x="454.90" y="517.00" width="3.0" height="8.40" fill="#5a3412"/>
<rect x="462.49" y="495.40" width="3.0" height="30.00" fill="#123f7c"/>
<rect x="467.15" y="512.80" width="3.0" height="12.60" fill="#f4b41a"/>
<rect x="471.81" y="516.10" width="3.0" height="9.30" fill="#3aa546"/>
<rect x="476.47" y="498.40" width="3.0" height="27.00" fill="#e0147a"/>
<rect x="481.13" y="511.90" width="3.0" height="13.50" fill="#5a3412"/>
<rect x="488.72" y="495.40" width="3.0" height="30.00" fill="#123f7c"/>
<rect x="493.38" y="473.80" width="3.0" height="51.60" fill="#f4b41a"/>
<rect x="498.04" y="501.70" width="3.0" height="23.70" fill="#3aa546"/>
<rect x="502.70" y="503.50" width="3.0" height="21.90" fill="#e0147a"/>
<rect x="507.36" y="500.20" width="3.0" height="25.20" fill="#5a3412"/>
<circle cx="337.2" cy="522.8" r="0.6" fill="#555"/>
<path d="M277.3,468.7 L277.3,525.4 L511.6,525.4" fill="none" stroke="#222" stroke-width="1.2"/>
<text x="267.30" y="527.60" font-size="6.4" text-anchor="middle" fill="#333" >0.0</text>
<text x="267.30" y="509.60" font-size="6.4" text-anchor="middle" fill="#333" >0.6</text>
<text x="267.30" y="491.60" font-size="6.4" text-anchor="middle" fill="#333" >1.2</text>
<text x="267.30" y="473.60" font-size="6.4" text-anchor="middle" fill="#333" >1.8</text>
<text transform="translate(293.00,535.00) rotate(-45) scale(0.9,1)" font-size="7.0" text-anchor="end" fill="#333">CR22042</text>
<text transform="translate(319.23,535.00) rotate(-45) scale(0.9,1)" font-size="7.0" text-anchor="end" fill="#333">CR22044</text>
<text transform="translate(345.46,535.00) rotate(-45) scale(0.9,1)" font-size="7.0" text-anchor="end" fill="#333">CR22091</text>
<text transform="translate(371.69,535.00) rotate(-45) scale(0.9,1)" font-size="7.0" text-anchor="end" fill="#333">CR22045</text>
<text transform="translate(397.92,535.00) rotate(-45) scale(0.9,1)" font-size="7.0" text-anchor="end" fill="#333">CR22046</text>
<text transform="translate(424.15,535.00) rotate(-45) scale(0.9,1)" font-size="7.0" text-anchor="end" fill="#333">CR22050</text>
<text transform="translate(450.38,535.00) rotate(-45) scale(0.9,1)" font-size="7.0" text-anchor="end" fill="#333">CR22051</text>
<text transform="translate(476.61,535.00) rotate(-45) scale(0.9,1)" font-size="7.0" text-anchor="end" fill="#333">CR22066</text>
<text transform="translate(502.84,535.00) rotate(-45) scale(0.9,1)" font-size="7.0" text-anchor="end" fill="#333">KKO</text>
<path d="M275.1,525.40 L277.3,525.40 M275.1,507.40 L277.3,507.40 M275.1,489.40 L277.3,489.40 M275.1,471.40 L277.3,471.40 M289.70,525.4 L289.70,527.4 M315.93,525.4 L315.93,527.4 M342.16,525.4 L342.16,527.4 M368.39,525.4 L368.39,527.4 M394.62,525.4 L394.62,527.4 M420.85,525.4 L420.85,527.4 M447.08,525.4 L447.08,527.4 M473.31,525.4 L473.31,527.4 M499.54,525.4 L499.54,527.4" stroke="#222" stroke-width="0.8"/>
<text transform="translate(247.2,497.5) rotate(-90)" font-size="6.8" text-anchor="middle" fill="#333">Binding shift</text>
<text transform="translate(256.1,497.1) rotate(-90)" font-size="6.7" text-anchor="middle" fill="#333">(normalized to PF4-wt)</text>
<rect x="332.4" y="563.4" width="3.8" height="3.6" fill="#123f7c"/>
<text x="339.60" y="567.00" font-size="6.0" text-anchor="start" fill="#333" >PF4 WT</text>
<rect x="374.6" y="563.4" width="3.8" height="3.6" fill="#3aa546"/>
<text x="381.80" y="567.00" font-size="6.0" text-anchor="start" fill="#333" >PF4 R22A</text>
<rect x="422.2" y="563.4" width="3.8" height="3.6" fill="#e0147a"/>
<text x="429.40" y="567.00" font-size="6.0" text-anchor="start" fill="#333" >PF4 K62A</text>
<rect x="332.4" y="572.0" width="3.8" height="3.6" fill="#f4b41a"/>
<text x="339.60" y="575.60" font-size="6.0" text-anchor="start" fill="#333" >PF4 WT + 0.25 U/ml UFH</text>
<rect x="422.2" y="572.0" width="3.8" height="3.6" fill="#5a3412"/>
<text x="429.40" y="575.60" font-size="6.0" text-anchor="start" fill="#333" >PF4 K66A</text>
</svg>
</body></html>
